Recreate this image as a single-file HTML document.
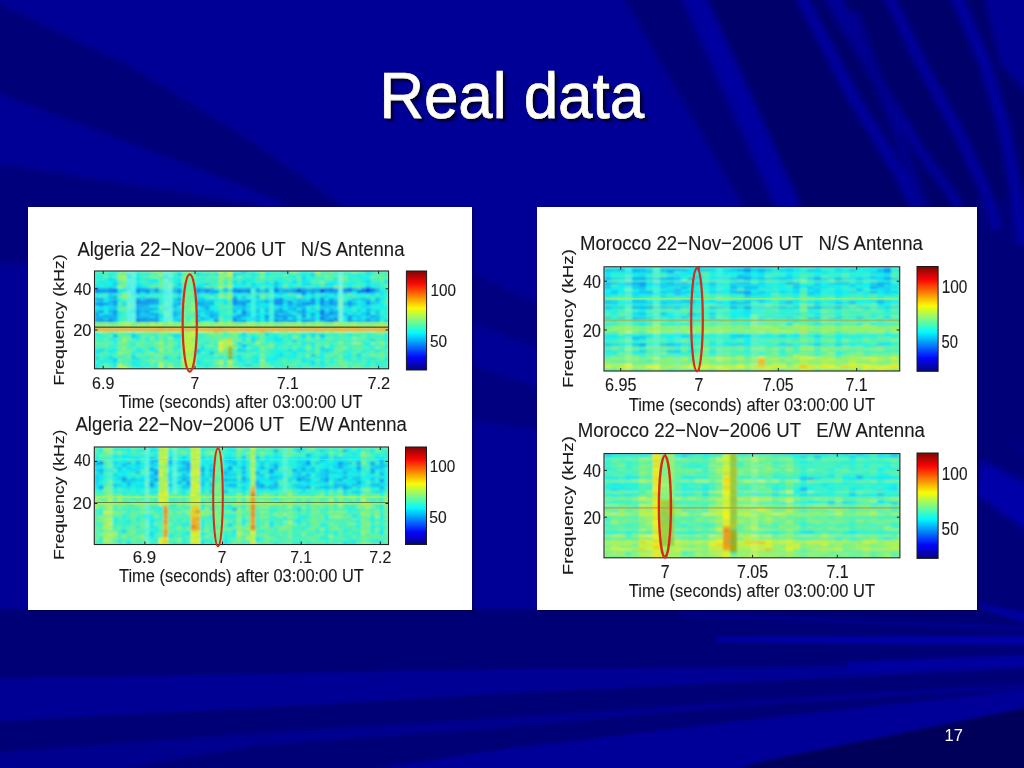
<!DOCTYPE html>
<html><head><meta charset="utf-8"><title>Real data</title>
<style>html,body{margin:0;padding:0;background:#000096;width:1024px;height:768px;overflow:hidden}
svg{display:block} text{font-family:'Liberation Sans',Arial,Helvetica,sans-serif}</style></head>
<body><svg width="1024" height="768" viewBox="0 0 1024 768"><defs>
<filter id="bgblur" filterUnits="userSpaceOnUse" x="-30" y="-30" width="1084" height="828"><feGaussianBlur stdDeviation="3"/></filter><filter id="lblur" x="-5%" y="-50%" width="110%" height="200%"><feGaussianBlur stdDeviation="0.45"/></filter><filter id="bgblur2" filterUnits="userSpaceOnUse" x="-30" y="-30" width="1084" height="828"><feGaussianBlur stdDeviation="1.6"/></filter>
<filter id="tshadow" x="-10%" y="-20%" width="130%" height="150%"><feGaussianBlur in="SourceAlpha" stdDeviation="1.3"/><feOffset dx="2.5" dy="2.5" result="b"/><feFlood flood-color="#000028" flood-opacity="0.9"/><feComposite in2="b" operator="in"/><feMerge><feMergeNode/><feMergeNode in="SourceGraphic"/></feMerge></filter>
<filter id="pshadow" x="-5%" y="-5%" width="110%" height="110%"><feGaussianBlur in="SourceAlpha" stdDeviation="1.2"/><feOffset dx="0.5" dy="0.5" result="b"/><feFlood flood-color="#000030" flood-opacity="0.7"/><feComposite in2="b" operator="in"/><feMerge><feMergeNode/><feMergeNode in="SourceGraphic"/></feMerge></filter>
</defs><g filter="url(#bgblur)"><rect x="-25" y="-25" width="1074" height="818" fill="#000096"/><polygon fill="#000078" points="-25.0,-7.9 130.0,66.0 256.0,144.0 350.0,212.0 300.0,212.0 256.0,191.0 -25.0,84.5"/><polygon fill="#00007c" points="-25.0,160.1 256.0,204.0 262.0,212.0 60.0,262.0 -25.0,264.8"/><polygon fill="#000076" points="610.7,-25.0 670.8,-25.0 778.0,215.0 748.0,215.0"/><polygon fill="#00006a" points="689.5,-25.0 1049.0,-25.0 1049.0,215.0 790.0,215.0"/><polygon fill="#000078" points="972.0,200.0 1049.0,200.0 1049.0,615.0 972.0,615.0"/><polygon fill="#0000a8" points="982.0,460.0 1049.0,496.7 1049.0,546.1 977.0,494.0"/><polygon fill="#000080" points="468.0,271.0 540.0,304.0 540.0,349.0 468.0,322.0"/><polygon fill="#000080" points="468.0,364.0 540.0,388.0 540.0,430.0 468.0,420.0"/><polygon fill="#000094" points="979.0,-25.0 1049.0,-25.0 1049.0,118.1 1000.0,63.0"/><path d="M692,-10 L740,95 L787,200 L795,225" stroke="#0000a0" stroke-width="20" fill="none" stroke-linecap="round"/><path d="M798,-10 L852,95 L902,177 L925,225" stroke="#00009e" stroke-width="11" fill="none" stroke-linecap="round"/><path d="M833,-10 L877,79 L921,152 L953,196 L968,225" stroke="#00009a" stroke-width="9" fill="none" stroke-linecap="round"/><path d="M886,-10 L921,63 L959,133 L985,190 L996,225" stroke="#00009e" stroke-width="10" fill="none" stroke-linecap="round"/><path d="M954,-10 L985,63 L1004,127 L1016,190 L1022,240" stroke="#0000a0" stroke-width="11" fill="none" stroke-linecap="round"/><path d="M855,15 L930,225" stroke="#00008c" stroke-width="9" fill="none" stroke-linecap="round"/><path d="M822,-10 L870,68 L895,110" stroke="#000090" stroke-width="8" fill="none" stroke-linecap="round"/><path d="M977,489 L1030,527" stroke="#0000b4" stroke-width="2.5" fill="none" stroke-linecap="round"/><path d="M1008,438 L1030,455" stroke="#00009c" stroke-width="2" fill="none" stroke-linecap="round"/></g><g filter="url(#bgblur2)"><polygon fill="#000076" points="-25.0,609.0 1049.0,609.0 1049.0,793.0 -25.0,793.0"/><polygon fill="#000094" points="-25.0,678.4 256.0,674.0 512.0,669.0 768.0,667.0 900.0,664.0 1049.0,659.2 1049.0,666.7 768.0,681.0 512.0,693.0 256.0,708.0 -25.0,722.3"/><polygon fill="#00008e" points="-25.0,753.9 256.0,733.0 512.0,717.0 642.0,708.0 768.0,699.0 1049.0,682.5 1049.0,687.5 768.0,704.0 512.0,727.0 256.0,746.0 -25.0,793.0"/><polygon fill="#000098" points="215.0,793.0 512.0,748.0 768.0,718.0 1049.0,687.3 1049.0,702.9 768.0,760.0 652.5,793.0"/><polygon fill="#0000a4" points="717.0,637.0 1049.0,635.9 1049.0,645.2 717.0,642.0"/><polygon fill="#00009e" points="848.0,662.0 1049.0,654.0 1049.0,663.9 848.0,673.0"/><polygon fill="#00008a" points="680.0,612.0 1049.0,627.0 1049.0,632.1 680.0,616.0"/><polygon fill="#0000a0" points="977.0,603.0 1049.0,616.8 1049.0,629.7 985.0,610.0"/><polygon fill="#00005a" points="768.0,760.0 1049.0,702.9 1049.0,793.0 652.5,793.0"/></g><text fill="#fffff8" stroke="#fffff8" stroke-width="0.7" filter="url(#tshadow)" x="379.25" y="118.4" font-size="64" textLength="264.80" lengthAdjust="spacingAndGlyphs" xml:space="preserve">Real data</text><text x="944.5" y="741" font-size="16.5" fill="#fff">17</text><rect x="28" y="207" width="444" height="403" fill="#fff" filter="url(#pshadow)"/><rect x="537" y="207" width="440" height="403" fill="#fff" filter="url(#pshadow)"/><clipPath id="c1"><rect x="94.5" y="271" width="294.1" height="98"/></clipPath><filter id="f1" x="0" y="0" width="1" height="1"><feGaussianBlur stdDeviation="0.9" edgeMode="duplicate"/></filter><g clip-path="url(#c1)"><g filter="url(#f1)"><rect x="94.5" y="271" width="294.1" height="98" fill="#3af2ca"/><g transform="translate(94.5 271) scale(4.6 2.45)"><path fill="#3af2ca" d="M0 0h1v1h-1zM3 0h1v1h-1zM9 0h1v1h-1zM22 0h1v1h-1zM31 0h1v1h-1zM34 0h1v1h-1zM39 0h2v1h-2zM46 0h2v1h-2zM60 0h2v1h-2zM0 1h3v1h-3zM10 1h1v1h-1zM17 1h1v1h-1zM32 1h1v1h-1zM42 1h2v1h-2zM54 1h1v1h-1zM58 1h1v1h-1zM60 1h1v1h-1zM63 1h1v1h-1zM32 2h1v1h-1zM34 2h1v1h-1zM37 2h1v1h-1zM39 2h1v1h-1zM41 2h1v1h-1zM55 2h2v1h-2zM0 3h1v1h-1zM10 3h1v1h-1zM24 3h3v1h-3zM31 3h1v1h-1zM38 3h1v1h-1zM47 3h2v1h-2zM56 3h2v1h-2zM60 3h2v1h-2zM0 4h1v1h-1zM26 4h1v1h-1zM28 4h1v1h-1zM31 4h1v1h-1zM44 4h1v1h-1zM50 4h1v1h-1zM52 4h1v1h-1zM55 4h1v1h-1zM57 4h1v1h-1zM17 5h1v1h-1zM25 5h1v1h-1zM28 5h1v1h-1zM58 5h1v1h-1zM11 6h1v1h-1zM32 6h1v1h-1zM43 6h2v1h-2zM50 6h1v1h-1zM58 6h1v1h-1zM60 6h2v1h-2zM14 7h1v1h-1zM62 7h1v1h-1zM29 8h1v1h-1zM5 9h1v1h-1zM10 9h1v1h-1zM13 9h1v1h-1zM17 9h1v1h-1zM23 9h1v1h-1zM32 9h1v1h-1zM35 9h1v1h-1zM43 9h1v1h-1zM48 9h2v1h-2zM58 9h1v1h-1zM63 9h1v1h-1zM9 10h1v1h-1zM13 10h1v1h-1zM17 10h1v1h-1zM26 10h1v1h-1zM31 10h1v1h-1zM37 10h1v1h-1zM46 10h1v1h-1zM48 10h1v1h-1zM57 10h1v1h-1zM36 11h1v1h-1zM42 11h1v1h-1zM54 11h1v1h-1zM6 12h1v1h-1zM14 12h1v1h-1zM27 12h1v1h-1zM26 13h1v1h-1zM5 14h1v1h-1zM54 14h1v1h-1zM60 14h1v1h-1zM28 15h1v1h-1zM48 15h1v1h-1zM28 16h1v1h-1zM36 16h1v1h-1zM62 16h1v1h-1zM6 17h1v1h-1zM27 17h2v1h-2zM60 17h1v1h-1zM62 17h1v1h-1zM27 18h1v1h-1zM44 18h1v1h-1zM63 18h1v1h-1zM5 19h1v1h-1zM28 19h2v1h-2zM48 20h1v1h-1zM62 20h1v1h-1zM4 21h1v1h-1zM25 22h1v1h-1zM3 25h1v1h-1zM6 25h1v1h-1zM10 25h1v1h-1zM12 25h2v1h-2zM16 25h3v1h-3zM23 25h1v1h-1zM38 25h1v1h-1zM40 25h1v1h-1zM44 25h1v1h-1zM49 25h1v1h-1zM54 25h1v1h-1zM60 25h1v1h-1zM1 26h1v1h-1zM13 26h1v1h-1zM16 26h1v1h-1zM23 26h1v1h-1zM28 26h1v1h-1zM31 26h1v1h-1zM56 26h1v1h-1zM62 26h1v1h-1zM1 27h1v1h-1zM4 27h1v1h-1zM15 27h1v1h-1zM22 27h2v1h-2zM37 27h1v1h-1zM47 27h1v1h-1zM0 28h2v1h-2zM17 28h1v1h-1zM22 28h1v1h-1zM24 28h1v1h-1zM30 28h1v1h-1zM38 28h1v1h-1zM42 28h1v1h-1zM44 28h2v1h-2zM49 28h1v1h-1zM55 28h1v1h-1zM58 28h1v1h-1zM62 28h1v1h-1zM7 29h2v1h-2zM18 29h1v1h-1zM23 29h1v1h-1zM26 29h1v1h-1zM33 29h1v1h-1zM37 29h1v1h-1zM39 29h1v1h-1zM41 29h1v1h-1zM43 29h1v1h-1zM46 29h1v1h-1zM51 29h1v1h-1zM58 29h1v1h-1zM22 30h1v1h-1zM26 30h1v1h-1zM34 30h1v1h-1zM40 30h1v1h-1zM45 30h1v1h-1zM49 30h1v1h-1zM60 30h1v1h-1zM1 31h2v1h-2zM25 31h1v1h-1zM42 31h1v1h-1zM45 31h1v1h-1zM50 31h1v1h-1zM2 32h1v1h-1zM8 32h1v1h-1zM17 32h1v1h-1zM25 32h2v1h-2zM37 32h2v1h-2zM56 32h1v1h-1zM62 32h1v1h-1zM4 33h1v1h-1zM8 33h3v1h-3zM24 33h1v1h-1zM26 33h1v1h-1zM33 33h1v1h-1zM41 33h1v1h-1zM45 33h1v1h-1zM50 33h1v1h-1zM54 33h1v1h-1zM57 33h1v1h-1zM63 33h1v1h-1zM2 34h2v1h-2zM16 34h1v1h-1zM22 34h1v1h-1zM25 34h1v1h-1zM37 34h2v1h-2zM45 34h1v1h-1zM54 34h1v1h-1zM5 35h1v1h-1zM24 35h1v1h-1zM28 35h1v1h-1zM32 35h2v1h-2zM36 35h2v1h-2zM40 35h1v1h-1zM51 35h2v1h-2zM59 35h1v1h-1zM61 35h1v1h-1zM7 36h2v1h-2zM23 36h1v1h-1zM33 36h1v1h-1zM40 36h1v1h-1zM42 36h1v1h-1zM62 36h1v1h-1zM11 37h1v1h-1zM17 37h2v1h-2zM23 37h1v1h-1zM39 37h2v1h-2zM42 37h1v1h-1zM46 37h1v1h-1zM48 37h1v1h-1zM52 37h1v1h-1zM56 37h1v1h-1zM1 38h1v1h-1zM31 38h1v1h-1zM34 38h1v1h-1zM38 38h3v1h-3zM58 38h1v1h-1zM62 38h1v1h-1zM3 39h1v1h-1zM9 39h1v1h-1zM12 39h2v1h-2zM35 39h1v1h-1zM44 39h2v1h-2zM59 39h1v1h-1zM62 39h1v1h-1z"/><path fill="#4cf2b8" d="M1 0h1v1h-1zM11 0h1v1h-1zM23 0h1v1h-1zM30 0h1v1h-1zM38 0h1v1h-1zM49 0h2v1h-2zM52 0h1v1h-1zM54 0h1v1h-1zM58 0h1v1h-1zM62 0h2v1h-2zM13 1h1v1h-1zM19 1h1v1h-1zM25 1h1v1h-1zM33 1h1v1h-1zM39 1h2v1h-2zM52 1h1v1h-1zM10 2h1v1h-1zM14 2h1v1h-1zM18 2h1v1h-1zM23 2h1v1h-1zM33 2h1v1h-1zM35 2h1v1h-1zM46 2h1v1h-1zM49 2h1v1h-1zM51 2h1v1h-1zM1 3h1v1h-1zM21 3h1v1h-1zM30 3h1v1h-1zM35 3h3v1h-3zM41 3h1v1h-1zM5 4h1v1h-1zM10 4h2v1h-2zM22 4h4v1h-4zM35 4h2v1h-2zM38 4h1v1h-1zM54 4h1v1h-1zM60 4h3v1h-3zM12 5h2v1h-2zM26 5h1v1h-1zM33 5h1v1h-1zM49 5h1v1h-1zM57 5h1v1h-1zM62 5h1v1h-1zM25 6h1v1h-1zM37 6h1v1h-1zM47 6h1v1h-1zM27 7h1v1h-1zM2 9h1v1h-1zM14 9h1v1h-1zM37 9h1v1h-1zM61 9h1v1h-1zM1 10h1v1h-1zM11 10h2v1h-2zM14 10h1v1h-1zM24 10h1v1h-1zM33 10h1v1h-1zM59 10h1v1h-1zM60 11h1v1h-1zM63 11h1v1h-1zM29 12h1v1h-1zM27 13h1v1h-1zM29 13h1v1h-1zM63 13h1v1h-1zM6 14h1v1h-1zM27 14h1v1h-1zM48 14h1v1h-1zM14 15h1v1h-1zM27 15h1v1h-1zM56 15h1v1h-1zM6 16h1v1h-1zM14 16h1v1h-1zM20 17h1v1h-1zM29 17h1v1h-1zM6 18h1v1h-1zM6 19h1v1h-1zM6 20h1v1h-1zM19 21h1v1h-1zM45 21h1v1h-1zM0 22h1v1h-1zM21 22h1v1h-1zM40 22h1v1h-1zM58 22h2v1h-2zM9 25h1v1h-1zM28 25h1v1h-1zM31 25h1v1h-1zM34 25h1v1h-1zM43 25h1v1h-1zM50 25h2v1h-2zM58 25h1v1h-1zM5 26h1v1h-1zM12 26h1v1h-1zM15 26h1v1h-1zM22 26h1v1h-1zM24 26h2v1h-2zM27 26h1v1h-1zM35 26h1v1h-1zM44 26h1v1h-1zM51 26h1v1h-1zM53 26h2v1h-2zM59 26h2v1h-2zM31 27h1v1h-1zM41 27h1v1h-1zM52 27h1v1h-1zM54 27h2v1h-2zM60 27h1v1h-1zM12 28h2v1h-2zM15 28h2v1h-2zM41 28h1v1h-1zM46 28h1v1h-1zM50 28h2v1h-2zM53 28h2v1h-2zM57 28h1v1h-1zM59 28h1v1h-1zM61 28h1v1h-1zM15 29h1v1h-1zM34 29h1v1h-1zM36 29h1v1h-1zM54 29h1v1h-1zM0 30h1v1h-1zM4 30h1v1h-1zM11 30h2v1h-2zM17 30h1v1h-1zM31 30h1v1h-1zM35 30h1v1h-1zM41 30h1v1h-1zM43 30h2v1h-2zM52 30h1v1h-1zM54 30h3v1h-3zM58 30h1v1h-1zM0 31h1v1h-1zM3 31h1v1h-1zM7 31h1v1h-1zM11 31h1v1h-1zM24 31h1v1h-1zM34 31h1v1h-1zM38 31h1v1h-1zM40 31h1v1h-1zM5 32h1v1h-1zM46 32h1v1h-1zM55 32h1v1h-1zM60 32h1v1h-1zM1 33h1v1h-1zM13 33h1v1h-1zM18 33h1v1h-1zM32 33h1v1h-1zM35 33h1v1h-1zM37 33h1v1h-1zM42 33h1v1h-1zM44 33h1v1h-1zM46 33h2v1h-2zM53 33h1v1h-1zM61 33h1v1h-1zM0 34h2v1h-2zM6 34h1v1h-1zM15 34h1v1h-1zM30 34h1v1h-1zM32 34h1v1h-1zM44 34h1v1h-1zM48 34h1v1h-1zM52 34h1v1h-1zM56 34h1v1h-1zM59 34h1v1h-1zM63 34h1v1h-1zM1 35h1v1h-1zM10 35h1v1h-1zM12 35h1v1h-1zM16 35h2v1h-2zM44 35h1v1h-1zM46 35h2v1h-2zM50 35h1v1h-1zM6 36h1v1h-1zM10 36h1v1h-1zM17 36h2v1h-2zM25 36h1v1h-1zM43 36h2v1h-2zM56 36h1v1h-1zM60 36h2v1h-2zM0 37h1v1h-1zM5 37h1v1h-1zM30 37h2v1h-2zM41 37h1v1h-1zM57 37h1v1h-1zM60 37h1v1h-1zM62 37h2v1h-2zM3 38h1v1h-1zM7 38h1v1h-1zM13 38h1v1h-1zM17 38h2v1h-2zM25 38h2v1h-2zM28 38h1v1h-1zM30 38h1v1h-1zM35 38h1v1h-1zM41 38h1v1h-1zM46 38h1v1h-1zM48 38h1v1h-1zM55 38h1v1h-1zM63 38h1v1h-1zM1 39h2v1h-2zM4 39h1v1h-1zM8 39h1v1h-1zM18 39h1v1h-1zM22 39h1v1h-1zM34 39h1v1h-1zM40 39h4v1h-4zM48 39h1v1h-1zM58 39h1v1h-1z"/><path fill="#5ef2a6" d="M2 0h1v1h-1zM10 0h1v1h-1zM17 0h1v1h-1zM21 0h1v1h-1zM25 0h2v1h-2zM28 0h1v1h-1zM35 0h1v1h-1zM42 0h1v1h-1zM44 0h1v1h-1zM55 0h1v1h-1zM57 0h1v1h-1zM12 1h1v1h-1zM36 1h1v1h-1zM49 1h3v1h-3zM62 1h1v1h-1zM4 2h1v1h-1zM20 2h1v1h-1zM22 2h1v1h-1zM24 2h3v1h-3zM38 2h1v1h-1zM48 2h1v1h-1zM52 2h1v1h-1zM61 2h2v1h-2zM28 3h1v1h-1zM42 3h1v1h-1zM44 3h1v1h-1zM50 3h2v1h-2zM14 4h1v1h-1zM20 4h1v1h-1zM47 4h2v1h-2zM5 5h1v1h-1zM19 5h2v1h-2zM41 5h1v1h-1zM44 5h1v1h-1zM63 5h1v1h-1zM13 6h1v1h-1zM26 6h1v1h-1zM36 6h1v1h-1zM46 6h1v1h-1zM49 6h1v1h-1zM54 6h1v1h-1zM56 6h2v1h-2zM63 6h1v1h-1zM19 7h3v1h-3zM19 8h1v1h-1zM21 8h1v1h-1zM28 9h1v1h-1zM42 9h1v1h-1zM19 10h1v1h-1zM21 10h1v1h-1zM54 10h1v1h-1zM56 10h1v1h-1zM6 11h1v1h-1zM20 11h1v1h-1zM63 12h1v1h-1zM5 13h1v1h-1zM20 13h1v1h-1zM20 14h1v1h-1zM28 14h1v1h-1zM19 15h1v1h-1zM21 17h1v1h-1zM19 18h3v1h-3zM20 20h1v1h-1zM27 20h1v1h-1zM8 21h1v1h-1zM15 21h1v1h-1zM22 21h1v1h-1zM31 21h1v1h-1zM35 21h1v1h-1zM39 21h1v1h-1zM50 21h2v1h-2zM1 22h1v1h-1zM6 22h1v1h-1zM23 22h1v1h-1zM27 22h1v1h-1zM39 22h1v1h-1zM47 22h1v1h-1zM49 22h1v1h-1zM55 22h1v1h-1zM11 25h1v1h-1zM56 25h2v1h-2zM7 26h1v1h-1zM11 26h1v1h-1zM14 26h1v1h-1zM26 26h1v1h-1zM29 26h1v1h-1zM40 26h1v1h-1zM46 26h1v1h-1zM48 26h1v1h-1zM0 27h1v1h-1zM2 27h1v1h-1zM5 27h1v1h-1zM10 27h1v1h-1zM24 27h1v1h-1zM44 27h1v1h-1zM53 27h1v1h-1zM61 27h2v1h-2zM2 28h1v1h-1zM5 28h1v1h-1zM7 28h2v1h-2zM23 28h1v1h-1zM25 28h2v1h-2zM35 28h1v1h-1zM47 28h1v1h-1zM1 29h2v1h-2zM10 29h3v1h-3zM22 29h1v1h-1zM25 29h1v1h-1zM32 29h1v1h-1zM38 29h1v1h-1zM44 29h1v1h-1zM49 29h2v1h-2zM52 29h1v1h-1zM55 29h1v1h-1zM63 29h1v1h-1zM1 30h1v1h-1zM5 30h1v1h-1zM7 30h1v1h-1zM10 30h1v1h-1zM13 30h1v1h-1zM15 30h1v1h-1zM30 30h1v1h-1zM36 30h2v1h-2zM48 30h1v1h-1zM53 30h1v1h-1zM57 30h1v1h-1zM62 30h1v1h-1zM10 31h1v1h-1zM13 31h1v1h-1zM22 31h1v1h-1zM26 31h1v1h-1zM37 31h1v1h-1zM41 31h1v1h-1zM52 31h1v1h-1zM56 31h4v1h-4zM62 31h1v1h-1zM11 32h1v1h-1zM18 32h1v1h-1zM28 32h1v1h-1zM63 32h1v1h-1zM2 33h1v1h-1zM17 33h1v1h-1zM23 33h1v1h-1zM28 33h1v1h-1zM30 33h2v1h-2zM36 33h1v1h-1zM51 33h1v1h-1zM59 33h2v1h-2zM4 34h2v1h-2zM7 34h1v1h-1zM10 34h3v1h-3zM17 34h1v1h-1zM27 34h1v1h-1zM51 34h1v1h-1zM6 35h1v1h-1zM22 35h1v1h-1zM56 35h1v1h-1zM11 36h1v1h-1zM15 36h1v1h-1zM24 36h1v1h-1zM28 36h1v1h-1zM50 36h1v1h-1zM52 36h1v1h-1zM54 36h1v1h-1zM58 36h1v1h-1zM6 37h2v1h-2zM15 37h1v1h-1zM33 37h1v1h-1zM37 37h1v1h-1zM43 37h2v1h-2zM50 37h1v1h-1zM55 37h1v1h-1zM58 37h1v1h-1zM10 38h1v1h-1zM12 38h1v1h-1zM15 38h1v1h-1zM27 38h1v1h-1zM42 38h2v1h-2zM45 38h1v1h-1zM51 38h3v1h-3zM56 38h1v1h-1zM60 38h1v1h-1zM11 39h1v1h-1zM17 39h1v1h-1zM23 39h1v1h-1zM25 39h2v1h-2zM31 39h3v1h-3zM37 39h1v1h-1zM46 39h2v1h-2zM51 39h3v1h-3zM57 39h1v1h-1zM61 39h1v1h-1z"/><path fill="#16f2ee" d="M4 0h1v1h-1zM18 0h1v1h-1zM45 0h1v1h-1zM9 1h1v1h-1zM11 1h1v1h-1zM37 1h1v1h-1zM44 1h1v1h-1zM46 1h1v1h-1zM55 1h3v1h-3zM0 2h2v1h-2zM9 2h1v1h-1zM30 2h1v1h-1zM59 2h1v1h-1zM2 3h1v1h-1zM13 3h1v1h-1zM22 3h1v1h-1zM34 3h1v1h-1zM46 3h1v1h-1zM49 3h1v1h-1zM58 3h2v1h-2zM3 4h1v1h-1zM13 4h1v1h-1zM18 4h1v1h-1zM46 4h1v1h-1zM51 4h1v1h-1zM58 4h1v1h-1zM0 5h1v1h-1zM3 5h1v1h-1zM10 5h1v1h-1zM22 5h1v1h-1zM30 5h2v1h-2zM35 5h2v1h-2zM38 5h1v1h-1zM42 5h1v1h-1zM47 5h1v1h-1zM55 5h1v1h-1zM59 5h2v1h-2zM4 6h1v1h-1zM10 6h1v1h-1zM18 6h1v1h-1zM23 6h1v1h-1zM30 6h1v1h-1zM55 6h1v1h-1zM5 7h1v1h-1zM1 9h1v1h-1zM26 9h1v1h-1zM30 9h2v1h-2zM39 9h1v1h-1zM44 9h1v1h-1zM46 9h1v1h-1zM50 9h1v1h-1zM57 9h1v1h-1zM59 9h1v1h-1zM39 10h1v1h-1zM52 10h1v1h-1zM58 10h1v1h-1zM5 11h1v1h-1zM24 11h4v1h-4zM50 11h1v1h-1zM2 12h1v1h-1zM54 12h1v1h-1zM33 13h1v1h-1zM36 13h1v1h-1zM62 13h1v1h-1zM0 14h1v1h-1zM2 14h1v1h-1zM22 14h1v1h-1zM25 14h2v1h-2zM39 14h1v1h-1zM47 14h1v1h-1zM56 14h1v1h-1zM59 14h1v1h-1zM62 14h1v1h-1zM1 15h1v1h-1zM22 15h1v1h-1zM25 15h1v1h-1zM33 15h1v1h-1zM41 15h1v1h-1zM55 15h1v1h-1zM58 15h1v1h-1zM61 15h2v1h-2zM2 16h1v1h-1zM13 16h1v1h-1zM47 16h1v1h-1zM54 16h1v1h-1zM56 16h1v1h-1zM58 16h1v1h-1zM60 16h1v1h-1zM5 17h1v1h-1zM14 17h1v1h-1zM30 17h1v1h-1zM36 17h1v1h-1zM48 17h1v1h-1zM23 18h1v1h-1zM28 18h1v1h-1zM36 18h1v1h-1zM48 18h1v1h-1zM33 19h1v1h-1zM36 19h1v1h-1zM42 19h1v1h-1zM44 19h1v1h-1zM54 19h1v1h-1zM56 19h1v1h-1zM5 20h1v1h-1zM23 20h1v1h-1zM8 25h1v1h-1zM48 25h1v1h-1zM55 25h1v1h-1zM33 26h2v1h-2zM39 26h1v1h-1zM50 26h1v1h-1zM61 26h1v1h-1zM32 27h1v1h-1zM45 27h1v1h-1zM49 27h1v1h-1zM4 28h1v1h-1zM11 28h1v1h-1zM18 28h1v1h-1zM37 28h1v1h-1zM40 28h1v1h-1zM56 28h1v1h-1zM4 29h1v1h-1zM40 29h1v1h-1zM59 29h1v1h-1zM3 30h1v1h-1zM8 30h1v1h-1zM33 30h1v1h-1zM42 30h1v1h-1zM51 30h1v1h-1zM59 30h1v1h-1zM61 30h1v1h-1zM4 31h1v1h-1zM9 31h1v1h-1zM32 31h1v1h-1zM44 31h1v1h-1zM47 31h1v1h-1zM4 32h1v1h-1zM9 32h2v1h-2zM12 32h2v1h-2zM23 32h1v1h-1zM30 32h1v1h-1zM33 32h1v1h-1zM35 32h1v1h-1zM39 32h3v1h-3zM58 32h2v1h-2zM40 33h1v1h-1zM55 33h1v1h-1zM35 34h1v1h-1zM39 34h1v1h-1zM42 34h2v1h-2zM49 34h1v1h-1zM4 35h1v1h-1zM13 35h1v1h-1zM23 35h1v1h-1zM25 35h1v1h-1zM35 35h1v1h-1zM38 35h1v1h-1zM43 35h1v1h-1zM48 35h2v1h-2zM63 35h1v1h-1zM9 36h1v1h-1zM32 36h1v1h-1zM38 36h1v1h-1zM46 36h2v1h-2zM63 36h1v1h-1zM3 37h2v1h-2zM13 37h1v1h-1zM28 37h1v1h-1zM51 37h1v1h-1zM59 37h1v1h-1zM61 37h1v1h-1zM0 38h1v1h-1zM8 38h2v1h-2zM11 38h1v1h-1zM32 38h1v1h-1zM44 38h1v1h-1zM47 38h1v1h-1zM61 38h1v1h-1zM10 39h1v1h-1zM39 39h1v1h-1z"/><path fill="#70f294" d="M5 0h1v1h-1zM12 0h1v1h-1zM14 0h1v1h-1zM24 0h1v1h-1zM51 0h1v1h-1zM6 1h1v1h-1zM21 1h1v1h-1zM27 1h1v1h-1zM48 1h1v1h-1zM61 1h1v1h-1zM2 2h1v1h-1zM11 2h1v1h-1zM44 2h1v1h-1zM63 2h1v1h-1zM14 3h1v1h-1zM54 3h1v1h-1zM62 3h1v1h-1zM6 4h1v1h-1zM6 5h1v1h-1zM21 5h1v1h-1zM12 6h1v1h-1zM14 6h1v1h-1zM19 6h3v1h-3zM41 6h1v1h-1zM21 9h1v1h-1zM36 9h1v1h-1zM55 9h1v1h-1zM5 10h1v1h-1zM20 10h1v1h-1zM25 10h1v1h-1zM29 11h1v1h-1zM19 12h3v1h-3zM19 14h1v1h-1zM29 14h1v1h-1zM5 15h2v1h-2zM20 15h1v1h-1zM19 16h2v1h-2zM29 16h1v1h-1zM27 19h1v1h-1zM29 20h1v1h-1zM0 21h2v1h-2zM9 21h1v1h-1zM11 21h1v1h-1zM32 21h1v1h-1zM37 21h1v1h-1zM57 21h1v1h-1zM2 22h4v1h-4zM8 22h1v1h-1zM10 22h2v1h-2zM15 22h1v1h-1zM17 22h1v1h-1zM31 22h1v1h-1zM33 22h1v1h-1zM35 22h1v1h-1zM43 22h1v1h-1zM50 22h2v1h-2zM60 22h1v1h-1zM2 25h1v1h-1zM5 25h1v1h-1zM15 25h1v1h-1zM24 25h1v1h-1zM29 25h1v1h-1zM33 25h1v1h-1zM35 25h1v1h-1zM53 25h1v1h-1zM61 25h1v1h-1zM3 26h1v1h-1zM6 26h1v1h-1zM10 26h1v1h-1zM30 26h1v1h-1zM36 26h1v1h-1zM43 26h1v1h-1zM58 26h1v1h-1zM25 27h2v1h-2zM33 27h1v1h-1zM36 27h1v1h-1zM50 27h2v1h-2zM58 27h1v1h-1zM10 28h1v1h-1zM14 28h1v1h-1zM33 28h1v1h-1zM0 29h1v1h-1zM3 29h1v1h-1zM6 29h1v1h-1zM9 29h1v1h-1zM17 29h1v1h-1zM42 29h1v1h-1zM48 29h1v1h-1zM61 29h1v1h-1zM2 30h1v1h-1zM6 30h1v1h-1zM9 30h1v1h-1zM24 30h2v1h-2zM46 30h1v1h-1zM8 31h1v1h-1zM15 31h2v1h-2zM33 31h1v1h-1zM43 31h1v1h-1zM48 31h1v1h-1zM53 31h1v1h-1zM6 32h1v1h-1zM36 32h1v1h-1zM48 32h1v1h-1zM52 32h2v1h-2zM57 32h1v1h-1zM7 33h1v1h-1zM11 33h1v1h-1zM14 33h3v1h-3zM27 33h1v1h-1zM34 33h1v1h-1zM48 33h1v1h-1zM52 33h1v1h-1zM56 33h1v1h-1zM62 33h1v1h-1zM14 34h1v1h-1zM28 34h1v1h-1zM33 34h1v1h-1zM50 34h1v1h-1zM53 34h1v1h-1zM61 34h2v1h-2zM7 35h1v1h-1zM14 35h1v1h-1zM53 35h1v1h-1zM62 35h1v1h-1zM14 36h1v1h-1zM26 36h1v1h-1zM30 36h1v1h-1zM41 36h1v1h-1zM48 36h1v1h-1zM53 36h1v1h-1zM12 37h1v1h-1zM16 37h1v1h-1zM26 37h1v1h-1zM36 37h1v1h-1zM54 37h1v1h-1zM6 38h1v1h-1zM37 38h1v1h-1zM54 38h1v1h-1zM57 38h1v1h-1zM50 39h1v1h-1zM60 39h1v1h-1z"/><path fill="#82f282" d="M6 0h1v1h-1zM20 0h1v1h-1zM56 0h1v1h-1zM20 1h1v1h-1zM41 1h1v1h-1zM12 2h2v1h-2zM19 2h1v1h-1zM28 2h2v1h-2zM31 2h1v1h-1zM50 2h1v1h-1zM54 2h1v1h-1zM60 2h1v1h-1zM19 3h2v1h-2zM29 3h1v1h-1zM19 4h1v1h-1zM21 4h1v1h-1zM29 4h1v1h-1zM14 5h1v1h-1zM27 5h1v1h-1zM6 6h1v1h-1zM24 6h1v1h-1zM28 6h1v1h-1zM20 8h1v1h-1zM19 9h2v1h-2zM27 9h1v1h-1zM28 10h1v1h-1zM36 10h1v1h-1zM21 11h1v1h-1zM14 14h1v1h-1zM21 14h1v1h-1zM21 16h1v1h-1zM19 17h1v1h-1zM19 19h1v1h-1zM21 19h1v1h-1zM19 20h1v1h-1zM13 21h1v1h-1zM17 21h1v1h-1zM25 21h1v1h-1zM30 21h1v1h-1zM36 21h1v1h-1zM40 21h1v1h-1zM47 21h2v1h-2zM18 22h2v1h-2zM28 22h1v1h-1zM30 22h1v1h-1zM38 22h1v1h-1zM41 22h2v1h-2zM44 22h1v1h-1zM53 22h2v1h-2zM21 23h1v1h-1zM28 24h1v1h-1zM14 25h1v1h-1zM26 25h1v1h-1zM36 25h1v1h-1zM41 25h1v1h-1zM62 25h1v1h-1zM7 27h1v1h-1zM14 27h1v1h-1zM27 27h3v1h-3zM46 27h1v1h-1zM48 27h1v1h-1zM57 27h1v1h-1zM31 28h1v1h-1zM36 28h1v1h-1zM5 29h1v1h-1zM13 29h1v1h-1zM16 29h1v1h-1zM30 29h1v1h-1zM14 30h1v1h-1zM16 30h1v1h-1zM50 30h1v1h-1zM5 31h1v1h-1zM36 31h1v1h-1zM7 32h1v1h-1zM16 32h1v1h-1zM6 33h1v1h-1zM12 33h1v1h-1zM9 34h1v1h-1zM26 34h1v1h-1zM46 34h1v1h-1zM58 34h1v1h-1zM5 36h1v1h-1zM12 36h2v1h-2zM53 37h1v1h-1zM2 38h1v1h-1zM16 38h1v1h-1zM19 38h1v1h-1zM7 39h1v1h-1zM28 39h1v1h-1zM30 39h1v1h-1zM36 39h1v1h-1zM38 39h1v1h-1zM54 39h1v1h-1zM56 39h1v1h-1z"/><path fill="#79f5ca" d="M7 0h1v1h-1zM15 0h1v1h-1zM8 1h1v1h-1zM16 1h1v1h-1zM15 4h1v1h-1zM16 7h1v1h-1zM7 9h1v1h-1zM7 10h1v1h-1zM7 13h1v1h-1zM15 13h1v1h-1zM7 14h1v1h-1zM15 16h1v1h-1zM15 18h1v1h-1z"/><path fill="#6bf5d7" d="M8 0h1v1h-1zM16 0h1v1h-1zM16 2h1v1h-1zM7 3h1v1h-1zM8 4h1v1h-1zM7 8h1v1h-1zM16 12h1v1h-1zM8 13h1v1h-1zM8 14h1v1h-1zM7 15h1v1h-1zM16 15h1v1h-1zM8 17h1v1h-1zM15 17h2v1h-2zM8 20h1v1h-1zM16 20h1v1h-1z"/><path fill="#94f270" d="M13 0h1v1h-1zM19 0h1v1h-1zM43 0h1v1h-1zM5 1h1v1h-1zM28 1h1v1h-1zM5 2h1v1h-1zM21 2h1v1h-1zM36 2h1v1h-1zM5 3h1v1h-1zM27 3h1v1h-1zM27 4h1v1h-1zM49 4h1v1h-1zM29 5h1v1h-1zM52 6h1v1h-1zM6 9h1v1h-1zM29 9h1v1h-1zM44 10h1v1h-1zM19 11h1v1h-1zM21 20h1v1h-1zM2 21h1v1h-1zM20 21h1v1h-1zM23 21h1v1h-1zM26 21h1v1h-1zM28 21h1v1h-1zM43 21h1v1h-1zM58 21h1v1h-1zM60 21h4v1h-4zM7 22h1v1h-1zM9 22h1v1h-1zM16 22h1v1h-1zM22 22h1v1h-1zM24 22h1v1h-1zM26 22h1v1h-1zM29 22h1v1h-1zM36 22h2v1h-2zM52 22h1v1h-1zM63 22h1v1h-1zM25 25h1v1h-1zM27 25h1v1h-1zM30 25h1v1h-1zM19 26h1v1h-1zM6 27h1v1h-1zM12 27h1v1h-1zM30 27h1v1h-1zM43 27h1v1h-1zM21 28h1v1h-1zM27 28h1v1h-1zM53 29h1v1h-1zM57 29h1v1h-1zM60 29h1v1h-1zM62 29h1v1h-1zM38 30h1v1h-1zM6 31h1v1h-1zM14 31h1v1h-1zM30 31h1v1h-1zM46 31h1v1h-1zM54 31h1v1h-1zM61 31h1v1h-1zM19 33h1v1h-1zM21 33h1v1h-1zM13 34h1v1h-1zM36 34h1v1h-1zM60 34h1v1h-1zM14 37h1v1h-1zM29 38h1v1h-1zM36 38h1v1h-1z"/><path fill="#caf23a" d="M27 0h1v1h-1zM29 0h1v1h-1zM29 1h1v1h-1zM14 21h1v1h-1zM16 21h1v1h-1zM21 21h1v1h-1zM33 21h1v1h-1zM56 21h1v1h-1zM48 22h1v1h-1zM9 23h1v1h-1zM13 23h1v1h-1zM15 23h1v1h-1zM20 23h1v1h-1zM24 23h1v1h-1zM28 23h1v1h-1zM32 23h1v1h-1zM50 23h1v1h-1zM63 23h1v1h-1zM0 24h1v1h-1zM14 24h2v1h-2zM25 24h1v1h-1zM30 24h1v1h-1zM32 24h1v1h-1zM35 24h1v1h-1zM40 24h1v1h-1zM43 24h1v1h-1zM45 24h2v1h-2zM57 24h3v1h-3zM61 24h1v1h-1zM21 25h1v1h-1zM21 26h1v1h-1zM29 29h1v1h-1zM27 30h1v1h-1zM19 31h1v1h-1zM19 32h2v1h-2zM27 32h1v1h-1zM19 35h2v1h-2zM19 36h1v1h-1zM27 37h1v1h-1zM14 38h1v1h-1zM6 39h1v1h-1zM20 39h1v1h-1z"/><path fill="#12d3f2" d="M32 0h1v1h-1zM59 0h1v1h-1zM18 1h1v1h-1zM22 1h1v1h-1zM30 1h1v1h-1zM47 1h1v1h-1zM45 2h1v1h-1zM3 3h1v1h-1zM30 4h1v1h-1zM32 4h1v1h-1zM39 4h1v1h-1zM43 4h1v1h-1zM59 4h1v1h-1zM24 5h1v1h-1zM34 5h1v1h-1zM46 5h1v1h-1zM9 6h1v1h-1zM39 6h1v1h-1zM57 7h1v1h-1zM12 8h1v1h-1zM14 8h1v1h-1zM28 8h1v1h-1zM3 9h1v1h-1zM18 9h1v1h-1zM25 9h1v1h-1zM40 9h1v1h-1zM47 9h1v1h-1zM52 9h1v1h-1zM32 10h1v1h-1zM49 10h2v1h-2zM3 11h1v1h-1zM10 11h1v1h-1zM17 11h1v1h-1zM22 11h1v1h-1zM32 11h1v1h-1zM43 11h1v1h-1zM45 11h1v1h-1zM52 11h1v1h-1zM57 11h1v1h-1zM17 12h2v1h-2zM35 12h1v1h-1zM58 12h1v1h-1zM60 12h1v1h-1zM6 13h1v1h-1zM35 13h1v1h-1zM60 13h1v1h-1zM3 14h1v1h-1zM30 14h2v1h-2zM33 14h1v1h-1zM40 14h1v1h-1zM43 14h1v1h-1zM51 14h2v1h-2zM58 14h1v1h-1zM3 15h2v1h-2zM30 15h2v1h-2zM35 15h1v1h-1zM39 15h1v1h-1zM47 15h1v1h-1zM18 16h1v1h-1zM23 16h2v1h-2zM33 16h1v1h-1zM43 16h1v1h-1zM48 16h1v1h-1zM50 16h1v1h-1zM57 16h1v1h-1zM3 17h1v1h-1zM10 17h1v1h-1zM40 17h1v1h-1zM44 17h1v1h-1zM56 17h1v1h-1zM61 17h1v1h-1zM12 18h1v1h-1zM14 18h1v1h-1zM33 18h1v1h-1zM51 18h1v1h-1zM56 18h1v1h-1zM59 18h1v1h-1zM2 19h1v1h-1zM17 19h2v1h-2zM24 19h1v1h-1zM35 19h1v1h-1zM45 19h2v1h-2zM57 19h1v1h-1zM60 19h1v1h-1zM32 25h1v1h-1zM37 25h1v1h-1zM17 26h2v1h-2zM45 26h1v1h-1zM47 26h1v1h-1zM34 28h1v1h-1zM43 28h1v1h-1zM60 28h1v1h-1zM31 29h1v1h-1zM49 31h1v1h-1zM1 32h1v1h-1zM32 32h1v1h-1zM42 32h1v1h-1zM50 32h1v1h-1zM40 34h1v1h-1zM57 34h1v1h-1zM0 35h1v1h-1zM3 35h1v1h-1zM8 35h1v1h-1zM15 35h1v1h-1zM18 35h1v1h-1zM47 37h1v1h-1zM33 38h1v1h-1z"/><path fill="#28f2dc" d="M33 0h1v1h-1zM37 0h1v1h-1zM3 1h2v1h-2zM23 1h1v1h-1zM35 1h1v1h-1zM38 1h1v1h-1zM45 1h1v1h-1zM59 1h1v1h-1zM3 2h1v1h-1zM17 2h1v1h-1zM40 2h1v1h-1zM42 2h2v1h-2zM47 2h1v1h-1zM57 2h2v1h-2zM12 3h1v1h-1zM17 3h1v1h-1zM23 3h1v1h-1zM32 3h1v1h-1zM39 3h2v1h-2zM43 3h1v1h-1zM55 3h1v1h-1zM63 3h1v1h-1zM2 4h1v1h-1zM9 4h1v1h-1zM17 4h1v1h-1zM33 4h2v1h-2zM40 4h3v1h-3zM56 4h1v1h-1zM1 5h1v1h-1zM11 5h1v1h-1zM43 5h1v1h-1zM48 5h1v1h-1zM54 5h1v1h-1zM56 5h1v1h-1zM1 6h2v1h-2zM31 6h1v1h-1zM33 6h1v1h-1zM35 6h1v1h-1zM38 6h1v1h-1zM40 6h1v1h-1zM42 6h1v1h-1zM45 6h1v1h-1zM48 6h1v1h-1zM51 6h1v1h-1zM62 6h1v1h-1zM26 7h1v1h-1zM29 7h1v1h-1zM36 7h1v1h-1zM63 7h1v1h-1zM6 8h1v1h-1zM27 8h1v1h-1zM63 8h1v1h-1zM0 9h1v1h-1zM4 9h1v1h-1zM12 9h1v1h-1zM24 9h1v1h-1zM41 9h1v1h-1zM54 9h1v1h-1zM56 9h1v1h-1zM0 10h1v1h-1zM2 10h1v1h-1zM23 10h1v1h-1zM40 10h2v1h-2zM43 10h1v1h-1zM45 10h1v1h-1zM51 10h1v1h-1zM55 10h1v1h-1zM60 10h4v1h-4zM14 11h1v1h-1zM28 11h1v1h-1zM55 11h1v1h-1zM5 12h1v1h-1zM26 12h1v1h-1zM57 12h1v1h-1zM62 12h1v1h-1zM12 14h1v1h-1zM18 14h1v1h-1zM46 14h1v1h-1zM57 14h1v1h-1zM61 14h1v1h-1zM63 14h1v1h-1zM26 15h1v1h-1zM29 15h1v1h-1zM36 15h1v1h-1zM44 15h1v1h-1zM46 15h1v1h-1zM63 15h1v1h-1zM5 16h1v1h-1zM27 16h1v1h-1zM31 16h1v1h-1zM63 16h1v1h-1zM23 17h1v1h-1zM43 17h1v1h-1zM55 17h1v1h-1zM57 17h1v1h-1zM63 17h1v1h-1zM5 18h1v1h-1zM29 18h1v1h-1zM46 18h1v1h-1zM14 19h1v1h-1zM20 19h1v1h-1zM22 19h1v1h-1zM62 19h2v1h-2zM24 20h2v1h-2zM28 20h1v1h-1zM36 20h1v1h-1zM3 21h1v1h-1zM45 22h1v1h-1zM0 25h2v1h-2zM4 25h1v1h-1zM7 25h1v1h-1zM22 25h1v1h-1zM39 25h1v1h-1zM42 25h1v1h-1zM45 25h2v1h-2zM52 25h1v1h-1zM59 25h1v1h-1zM63 25h1v1h-1zM0 26h1v1h-1zM2 26h1v1h-1zM37 26h2v1h-2zM41 26h2v1h-2zM52 26h1v1h-1zM55 26h1v1h-1zM57 26h1v1h-1zM63 26h1v1h-1zM3 27h1v1h-1zM8 27h2v1h-2zM11 27h1v1h-1zM13 27h1v1h-1zM17 27h2v1h-2zM35 27h1v1h-1zM38 27h1v1h-1zM42 27h1v1h-1zM59 27h1v1h-1zM63 27h1v1h-1zM3 28h1v1h-1zM9 28h1v1h-1zM48 28h1v1h-1zM52 28h1v1h-1zM63 28h1v1h-1zM24 29h1v1h-1zM23 30h1v1h-1zM39 30h1v1h-1zM47 30h1v1h-1zM63 30h1v1h-1zM17 31h2v1h-2zM31 31h1v1h-1zM35 31h1v1h-1zM39 31h1v1h-1zM51 31h1v1h-1zM55 31h1v1h-1zM60 31h1v1h-1zM63 31h1v1h-1zM15 32h1v1h-1zM24 32h1v1h-1zM43 32h1v1h-1zM47 32h1v1h-1zM54 32h1v1h-1zM3 33h1v1h-1zM38 33h2v1h-2zM49 33h1v1h-1zM58 33h1v1h-1zM18 34h1v1h-1zM23 34h2v1h-2zM34 34h1v1h-1zM41 34h1v1h-1zM55 34h1v1h-1zM2 35h1v1h-1zM11 35h1v1h-1zM26 35h1v1h-1zM30 35h1v1h-1zM34 35h1v1h-1zM41 35h2v1h-2zM45 35h1v1h-1zM55 35h1v1h-1zM57 35h2v1h-2zM0 36h4v1h-4zM16 36h1v1h-1zM34 36h1v1h-1zM39 36h1v1h-1zM49 36h1v1h-1zM51 36h1v1h-1zM55 36h1v1h-1zM57 36h1v1h-1zM59 36h1v1h-1zM1 37h2v1h-2zM9 37h2v1h-2zM24 37h2v1h-2zM32 37h1v1h-1zM34 37h2v1h-2zM38 37h1v1h-1zM45 37h1v1h-1zM22 38h3v1h-3zM49 38h2v1h-2zM59 38h1v1h-1zM15 39h1v1h-1zM24 39h1v1h-1zM49 39h1v1h-1zM55 39h1v1h-1zM63 39h1v1h-1z"/><path fill="#a6f25e" d="M36 0h1v1h-1zM14 1h1v1h-1zM27 2h1v1h-1zM6 3h1v1h-1zM5 6h1v1h-1zM6 10h1v1h-1zM27 10h1v1h-1zM29 10h1v1h-1zM19 13h1v1h-1zM21 13h1v1h-1zM5 21h1v1h-1zM18 21h1v1h-1zM24 21h1v1h-1zM29 21h1v1h-1zM34 21h1v1h-1zM38 21h1v1h-1zM41 21h2v1h-2zM46 21h1v1h-1zM49 21h1v1h-1zM53 21h2v1h-2zM59 21h1v1h-1zM12 22h1v1h-1zM14 22h1v1h-1zM20 22h1v1h-1zM32 22h1v1h-1zM34 22h1v1h-1zM46 22h1v1h-1zM56 22h2v1h-2zM0 23h1v1h-1zM19 23h1v1h-1zM3 24h1v1h-1zM20 24h1v1h-1zM41 24h1v1h-1zM16 27h1v1h-1zM21 27h1v1h-1zM56 27h1v1h-1zM6 28h1v1h-1zM14 29h1v1h-1zM35 29h1v1h-1zM56 29h1v1h-1zM28 30h2v1h-2zM21 31h1v1h-1zM28 31h1v1h-1zM14 32h1v1h-1zM5 33h1v1h-1zM20 34h2v1h-2zM21 35h1v1h-1zM27 36h1v1h-1zM21 37h1v1h-1zM14 39h1v1h-1zM27 39h1v1h-1zM29 39h1v1h-1z"/><path fill="#12e5f2" d="M41 0h1v1h-1zM24 1h1v1h-1zM26 1h1v1h-1zM31 1h1v1h-1zM34 1h1v1h-1zM4 3h1v1h-1zM9 3h1v1h-1zM11 3h1v1h-1zM18 3h1v1h-1zM33 3h1v1h-1zM45 3h1v1h-1zM52 3h1v1h-1zM1 4h1v1h-1zM4 4h1v1h-1zM12 4h1v1h-1zM37 4h1v1h-1zM45 4h1v1h-1zM63 4h1v1h-1zM2 5h1v1h-1zM9 5h1v1h-1zM23 5h1v1h-1zM32 5h1v1h-1zM37 5h1v1h-1zM40 5h1v1h-1zM45 5h1v1h-1zM50 5h3v1h-3zM61 5h1v1h-1zM0 6h1v1h-1zM3 6h1v1h-1zM17 6h1v1h-1zM22 6h1v1h-1zM34 6h1v1h-1zM6 7h1v1h-1zM5 8h1v1h-1zM56 8h1v1h-1zM62 8h1v1h-1zM9 9h1v1h-1zM11 9h1v1h-1zM22 9h1v1h-1zM33 9h1v1h-1zM51 9h1v1h-1zM60 9h1v1h-1zM62 9h1v1h-1zM10 10h1v1h-1zM18 10h1v1h-1zM22 10h1v1h-1zM42 10h1v1h-1zM47 10h1v1h-1zM2 11h1v1h-1zM31 11h1v1h-1zM33 11h1v1h-1zM35 11h1v1h-1zM37 11h1v1h-1zM41 11h1v1h-1zM46 11h1v1h-1zM48 11h1v1h-1zM62 11h1v1h-1zM0 12h1v1h-1zM28 12h1v1h-1zM43 12h1v1h-1zM48 12h1v1h-1zM56 12h1v1h-1zM14 13h1v1h-1zM28 13h1v1h-1zM37 13h1v1h-1zM41 13h1v1h-1zM48 13h1v1h-1zM57 13h2v1h-2zM61 13h1v1h-1zM13 14h1v1h-1zM35 14h3v1h-3zM41 14h1v1h-1zM0 15h1v1h-1zM2 15h1v1h-1zM17 15h2v1h-2zM23 15h1v1h-1zM50 15h1v1h-1zM52 15h1v1h-1zM54 15h1v1h-1zM57 15h1v1h-1zM60 15h1v1h-1zM12 16h1v1h-1zM26 16h1v1h-1zM42 16h1v1h-1zM46 16h1v1h-1zM55 16h1v1h-1zM1 17h2v1h-2zM22 17h1v1h-1zM31 17h1v1h-1zM35 17h1v1h-1zM37 17h1v1h-1zM46 17h1v1h-1zM18 18h1v1h-1zM24 18h1v1h-1zM54 18h1v1h-1zM58 18h1v1h-1zM62 18h1v1h-1zM25 19h1v1h-1zM32 19h1v1h-1zM48 19h1v1h-1zM58 19h1v1h-1zM14 20h1v1h-1zM17 20h1v1h-1zM33 20h1v1h-1zM44 20h1v1h-1zM54 20h1v1h-1zM47 25h1v1h-1zM9 26h1v1h-1zM32 26h1v1h-1zM34 27h1v1h-1zM39 27h2v1h-2zM32 28h1v1h-1zM39 28h1v1h-1zM45 29h1v1h-1zM47 29h1v1h-1zM18 30h1v1h-1zM12 31h1v1h-1zM23 31h1v1h-1zM0 32h1v1h-1zM3 32h1v1h-1zM34 32h1v1h-1zM44 32h2v1h-2zM49 32h1v1h-1zM51 32h1v1h-1zM61 32h1v1h-1zM0 33h1v1h-1zM22 33h1v1h-1zM43 33h1v1h-1zM8 34h1v1h-1zM31 34h1v1h-1zM9 35h1v1h-1zM27 35h1v1h-1zM31 35h1v1h-1zM39 35h1v1h-1zM54 35h1v1h-1zM60 35h1v1h-1zM22 36h1v1h-1zM31 36h1v1h-1zM35 36h1v1h-1zM37 36h1v1h-1zM45 36h1v1h-1zM8 37h1v1h-1zM22 37h1v1h-1zM49 37h1v1h-1zM4 38h1v1h-1zM0 39h1v1h-1z"/><path fill="#b8f24c" d="M48 0h1v1h-1zM6 2h1v1h-1zM27 6h1v1h-1zM29 6h1v1h-1zM21 15h1v1h-1zM10 21h1v1h-1zM27 21h1v1h-1zM44 21h1v1h-1zM55 21h1v1h-1zM13 22h1v1h-1zM61 22h2v1h-2zM3 23h1v1h-1zM5 23h1v1h-1zM8 23h1v1h-1zM37 23h1v1h-1zM41 23h1v1h-1zM47 23h1v1h-1zM4 24h1v1h-1zM8 24h1v1h-1zM11 24h1v1h-1zM19 24h1v1h-1zM27 24h1v1h-1zM37 24h2v1h-2zM47 24h1v1h-1zM49 24h1v1h-1zM51 24h1v1h-1zM63 24h1v1h-1zM19 25h2v1h-2zM19 27h2v1h-2zM19 28h2v1h-2zM28 28h1v1h-1zM19 29h3v1h-3zM28 29h1v1h-1zM19 30h3v1h-3zM21 32h1v1h-1zM20 33h1v1h-1zM19 34h1v1h-1zM20 36h1v1h-1zM29 36h1v1h-1zM36 36h1v1h-1zM19 37h1v1h-1zM29 37h1v1h-1zM5 38h1v1h-1zM20 38h2v1h-2zM5 39h1v1h-1zM16 39h1v1h-1zM19 39h1v1h-1zM21 39h1v1h-1z"/><path fill="#69f6e6" d="M53 0h1v1h-1zM53 5h1v1h-1zM53 7h1v1h-1zM53 8h1v1h-1zM53 10h1v1h-1zM53 16h1v1h-1zM53 20h1v1h-1z"/><path fill="#4debf5" d="M7 1h1v1h-1zM16 3h1v1h-1zM7 6h1v1h-1zM7 7h1v1h-1zM8 8h1v1h-1zM15 8h1v1h-1zM8 9h1v1h-1zM15 15h1v1h-1zM8 16h1v1h-1z"/><path fill="#51f5f2" d="M15 1h1v1h-1zM8 2h1v1h-1zM7 4h1v1h-1zM8 5h1v1h-1zM8 7h1v1h-1zM16 8h1v1h-1zM15 9h1v1h-1zM15 11h1v1h-1zM16 13h1v1h-1zM8 15h1v1h-1zM7 17h1v1h-1zM7 19h1v1h-1zM15 19h1v1h-1zM7 20h1v1h-1z"/><path fill="#75f6da" d="M53 1h1v1h-1zM53 2h1v1h-1zM53 4h1v1h-1zM53 9h1v1h-1zM53 17h1v1h-1zM53 18h1v1h-1z"/><path fill="#4ddef5" d="M7 2h1v1h-1zM15 2h1v1h-1z"/><path fill="#5ef5e5" d="M8 3h1v1h-1zM16 4h1v1h-1zM7 5h1v1h-1zM15 5h1v1h-1zM8 6h1v1h-1zM15 6h1v1h-1zM15 7h1v1h-1zM16 9h1v1h-1zM8 10h1v1h-1zM15 10h2v1h-2zM7 11h2v1h-2zM16 11h1v1h-1zM7 12h2v1h-2zM15 12h1v1h-1zM15 14h2v1h-2zM7 16h1v1h-1zM16 16h1v1h-1zM7 18h2v1h-2zM16 18h1v1h-1zM8 19h1v1h-1zM16 19h1v1h-1zM15 20h1v1h-1z"/><path fill="#86f5bc" d="M15 3h1v1h-1zM16 5h1v1h-1zM16 6h1v1h-1z"/><path fill="#8ef6c1" d="M53 3h1v1h-1zM53 6h1v1h-1zM53 11h1v1h-1zM53 14h1v1h-1z"/><path fill="#12c1f2" d="M4 5h1v1h-1zM18 5h1v1h-1zM39 5h1v1h-1zM59 6h1v1h-1zM12 7h1v1h-1zM17 7h1v1h-1zM42 7h1v1h-1zM36 8h1v1h-1zM40 8h1v1h-1zM61 8h1v1h-1zM3 10h1v1h-1zM30 10h1v1h-1zM35 10h1v1h-1zM4 11h1v1h-1zM23 11h1v1h-1zM44 11h1v1h-1zM56 11h1v1h-1zM58 11h2v1h-2zM1 12h1v1h-1zM22 12h4v1h-4zM36 12h1v1h-1zM41 12h1v1h-1zM44 12h3v1h-3zM61 12h1v1h-1zM3 13h1v1h-1zM13 13h1v1h-1zM17 13h1v1h-1zM24 13h1v1h-1zM43 13h1v1h-1zM50 13h1v1h-1zM1 14h1v1h-1zM4 14h1v1h-1zM11 14h1v1h-1zM23 14h1v1h-1zM42 14h1v1h-1zM45 14h1v1h-1zM49 14h2v1h-2zM55 14h1v1h-1zM10 15h2v1h-2zM13 15h1v1h-1zM32 15h1v1h-1zM37 15h1v1h-1zM42 15h1v1h-1zM49 15h1v1h-1zM51 15h1v1h-1zM59 15h1v1h-1zM0 16h1v1h-1zM17 16h1v1h-1zM22 16h1v1h-1zM25 16h1v1h-1zM35 16h1v1h-1zM37 16h1v1h-1zM59 16h1v1h-1zM61 16h1v1h-1zM11 17h1v1h-1zM18 17h1v1h-1zM24 17h3v1h-3zM33 17h1v1h-1zM41 17h2v1h-2zM54 17h1v1h-1zM58 17h1v1h-1zM1 18h1v1h-1zM10 18h2v1h-2zM17 18h1v1h-1zM26 18h1v1h-1zM30 18h1v1h-1zM35 18h1v1h-1zM47 18h1v1h-1zM52 18h1v1h-1zM57 18h1v1h-1zM61 18h1v1h-1zM26 19h1v1h-1zM31 19h1v1h-1zM40 19h1v1h-1zM43 19h1v1h-1zM47 19h1v1h-1zM61 19h1v1h-1zM4 20h1v1h-1zM18 20h1v1h-1zM35 20h1v1h-1zM37 20h1v1h-1zM49 20h1v1h-1zM56 20h3v1h-3zM60 20h1v1h-1zM63 20h1v1h-1zM8 26h1v1h-1zM31 32h1v1h-1zM25 33h1v1h-1zM47 34h1v1h-1zM4 36h1v1h-1z"/><path fill="#1279f2" d="M0 7h1v1h-1zM3 7h1v1h-1zM22 7h1v1h-1zM49 7h2v1h-2zM54 7h1v1h-1zM58 7h1v1h-1zM9 8h1v1h-1zM11 8h1v1h-1zM18 8h1v1h-1zM33 8h1v1h-1zM39 8h1v1h-1zM45 8h1v1h-1zM40 11h1v1h-1zM9 12h1v1h-1zM33 12h1v1h-1zM47 12h1v1h-1zM49 12h1v1h-1zM0 13h2v1h-2zM46 13h1v1h-1zM49 17h1v1h-1zM51 17h1v1h-1zM37 18h1v1h-1zM9 20h1v1h-1zM51 20h1v1h-1z"/><path fill="#129df2" d="M1 7h2v1h-2zM11 7h1v1h-1zM18 7h1v1h-1zM23 7h1v1h-1zM31 7h2v1h-2zM35 7h1v1h-1zM43 7h1v1h-1zM45 7h1v1h-1zM47 7h2v1h-2zM52 7h1v1h-1zM56 7h1v1h-1zM13 8h1v1h-1zM41 8h2v1h-2zM50 8h1v1h-1zM52 8h1v1h-1zM55 8h1v1h-1zM45 9h1v1h-1zM0 11h2v1h-2zM9 11h1v1h-1zM11 11h2v1h-2zM18 11h1v1h-1zM39 11h1v1h-1zM47 11h1v1h-1zM51 11h1v1h-1zM31 12h2v1h-2zM37 12h1v1h-1zM55 12h1v1h-1zM59 12h1v1h-1zM4 13h1v1h-1zM10 13h2v1h-2zM18 13h1v1h-1zM23 13h1v1h-1zM31 13h1v1h-1zM42 13h1v1h-1zM47 13h1v1h-1zM52 13h1v1h-1zM12 15h1v1h-1zM11 16h1v1h-1zM51 16h1v1h-1zM0 17h1v1h-1zM4 17h1v1h-1zM9 17h1v1h-1zM12 17h1v1h-1zM47 17h1v1h-1zM59 17h1v1h-1zM2 18h1v1h-1zM25 18h1v1h-1zM39 18h3v1h-3zM49 18h2v1h-2zM55 18h1v1h-1zM60 18h1v1h-1zM0 19h2v1h-2zM3 19h1v1h-1zM10 19h2v1h-2zM13 19h1v1h-1zM41 19h1v1h-1zM55 19h1v1h-1zM1 20h2v1h-2zM11 20h1v1h-1zM13 20h1v1h-1zM30 20h1v1h-1zM40 20h1v1h-1zM43 20h1v1h-1zM46 20h1v1h-1zM50 20h1v1h-1zM52 20h1v1h-1zM55 20h1v1h-1zM59 20h1v1h-1z"/><path fill="#128bf2" d="M4 7h1v1h-1zM9 7h2v1h-2zM13 7h1v1h-1zM24 7h1v1h-1zM30 7h1v1h-1zM33 7h1v1h-1zM1 8h3v1h-3zM22 8h1v1h-1zM24 8h1v1h-1zM26 8h1v1h-1zM30 8h1v1h-1zM32 8h1v1h-1zM43 8h1v1h-1zM47 8h1v1h-1zM51 8h1v1h-1zM54 8h1v1h-1zM60 8h1v1h-1zM30 11h1v1h-1zM49 11h1v1h-1zM4 12h1v1h-1zM10 12h4v1h-4zM30 12h1v1h-1zM39 12h2v1h-2zM42 12h1v1h-1zM51 12h1v1h-1zM2 13h1v1h-1zM9 13h1v1h-1zM22 13h1v1h-1zM30 13h1v1h-1zM32 13h1v1h-1zM39 13h2v1h-2zM45 13h1v1h-1zM49 13h1v1h-1zM51 13h1v1h-1zM55 13h1v1h-1zM59 13h1v1h-1zM1 16h1v1h-1zM4 16h1v1h-1zM9 16h1v1h-1zM32 16h1v1h-1zM40 16h1v1h-1zM45 16h1v1h-1zM32 17h1v1h-1zM31 18h1v1h-1zM45 18h1v1h-1zM9 19h1v1h-1zM30 19h1v1h-1zM52 19h1v1h-1zM3 20h1v1h-1zM10 20h1v1h-1zM12 20h1v1h-1zM26 20h1v1h-1zM32 20h1v1h-1zM39 20h1v1h-1zM42 20h1v1h-1zM45 20h1v1h-1z"/><path fill="#12aff2" d="M25 7h1v1h-1zM28 7h1v1h-1zM37 7h1v1h-1zM40 7h2v1h-2zM46 7h1v1h-1zM61 7h1v1h-1zM10 8h1v1h-1zM17 8h1v1h-1zM23 8h1v1h-1zM25 8h1v1h-1zM35 8h1v1h-1zM37 8h1v1h-1zM46 8h1v1h-1zM48 8h1v1h-1zM4 10h1v1h-1zM13 11h1v1h-1zM61 11h1v1h-1zM3 12h1v1h-1zM50 12h1v1h-1zM52 12h1v1h-1zM12 13h1v1h-1zM25 13h1v1h-1zM44 13h1v1h-1zM54 13h1v1h-1zM56 13h1v1h-1zM9 14h2v1h-2zM17 14h1v1h-1zM24 14h1v1h-1zM32 14h1v1h-1zM44 14h1v1h-1zM9 15h1v1h-1zM24 15h1v1h-1zM40 15h1v1h-1zM43 15h1v1h-1zM45 15h1v1h-1zM3 16h1v1h-1zM10 16h1v1h-1zM30 16h1v1h-1zM39 16h1v1h-1zM41 16h1v1h-1zM44 16h1v1h-1zM52 16h1v1h-1zM13 17h1v1h-1zM17 17h1v1h-1zM39 17h1v1h-1zM45 17h1v1h-1zM50 17h1v1h-1zM52 17h1v1h-1zM0 18h1v1h-1zM3 18h2v1h-2zM9 18h1v1h-1zM13 18h1v1h-1zM22 18h1v1h-1zM32 18h1v1h-1zM42 18h2v1h-2zM4 19h1v1h-1zM12 19h1v1h-1zM23 19h1v1h-1zM37 19h1v1h-1zM39 19h1v1h-1zM50 19h2v1h-2zM59 19h1v1h-1zM0 20h1v1h-1zM22 20h1v1h-1zM31 20h1v1h-1zM41 20h1v1h-1zM47 20h1v1h-1zM61 20h1v1h-1zM4 26h1v1h-1zM49 26h1v1h-1zM32 30h1v1h-1zM22 32h1v1h-1z"/><path fill="#3ef4df" d="M34 7h1v1h-1zM38 7h1v1h-1zM34 12h1v1h-1zM34 13h1v1h-1zM38 13h1v1h-1zM34 14h1v1h-1zM38 14h1v1h-1zM34 17h1v1h-1zM38 18h1v1h-1zM38 19h1v1h-1z"/><path fill="#1267f2" d="M39 7h1v1h-1zM44 7h1v1h-1zM51 7h1v1h-1zM60 7h1v1h-1zM0 8h1v1h-1zM4 8h1v1h-1zM31 8h1v1h-1zM44 8h1v1h-1zM57 8h2v1h-2zM49 16h1v1h-1zM49 19h1v1h-1z"/><path fill="#1255f2" d="M55 7h1v1h-1z"/><path fill="#121ff2" d="M59 7h1v1h-1zM49 8h1v1h-1z"/><path fill="#5ef4bf" d="M34 8h1v1h-1zM38 9h1v1h-1zM38 10h1v1h-1z"/><path fill="#2ef4ef" d="M38 8h1v1h-1zM34 11h1v1h-1zM38 11h1v1h-1zM34 16h1v1h-1zM38 17h1v1h-1zM34 18h1v1h-1zM34 20h1v1h-1zM38 20h1v1h-1z"/><path fill="#1243f2" d="M59 8h1v1h-1z"/><path fill="#4ef4cf" d="M34 9h1v1h-1zM34 10h1v1h-1zM34 15h1v1h-1zM38 15h1v1h-1zM38 16h1v1h-1z"/><path fill="#2ad7f4" d="M38 12h1v1h-1zM34 19h1v1h-1z"/><path fill="#82f6cd" d="M53 12h1v1h-1zM53 13h1v1h-1zM53 15h1v1h-1zM53 19h1v1h-1z"/><path fill="#dcf228" d="M6 21h2v1h-2zM12 21h1v1h-1zM10 23h1v1h-1zM17 23h1v1h-1zM30 23h1v1h-1zM33 23h1v1h-1zM40 23h1v1h-1zM45 23h1v1h-1zM49 23h1v1h-1zM51 23h1v1h-1zM59 23h2v1h-2zM5 24h2v1h-2zM10 24h1v1h-1zM24 24h1v1h-1zM42 24h1v1h-1zM20 26h1v1h-1zM20 31h1v1h-1zM21 36h1v1h-1zM20 37h1v1h-1z"/><path fill="#eef216" d="M52 21h1v1h-1zM2 23h1v1h-1zM11 23h2v1h-2zM18 23h1v1h-1zM23 23h1v1h-1zM34 23h1v1h-1zM38 23h1v1h-1zM54 23h1v1h-1zM58 23h1v1h-1zM61 23h1v1h-1zM1 24h1v1h-1zM7 24h1v1h-1zM9 24h1v1h-1zM17 24h1v1h-1zM21 24h3v1h-3zM31 24h1v1h-1zM39 24h1v1h-1zM44 24h1v1h-1zM50 24h1v1h-1zM60 24h1v1h-1zM27 29h1v1h-1zM27 31h1v1h-1z"/><path fill="#f2d312" d="M1 23h1v1h-1zM6 23h1v1h-1zM25 23h2v1h-2zM29 23h1v1h-1zM35 23h1v1h-1zM56 23h2v1h-2zM2 24h1v1h-1zM12 24h1v1h-1zM33 24h1v1h-1zM48 24h1v1h-1zM62 24h1v1h-1zM29 28h1v1h-1z"/><path fill="#f2e512" d="M4 23h1v1h-1zM7 23h1v1h-1zM22 23h1v1h-1zM31 23h1v1h-1zM36 23h1v1h-1zM39 23h1v1h-1zM42 23h2v1h-2zM53 23h1v1h-1zM55 23h1v1h-1zM62 23h1v1h-1zM16 24h1v1h-1zM18 24h1v1h-1zM29 24h1v1h-1zM34 24h1v1h-1zM52 24h5v1h-5z"/><path fill="#f27912" d="M14 23h1v1h-1z"/><path fill="#f2af12" d="M16 23h1v1h-1zM26 24h1v1h-1zM36 24h1v1h-1z"/><path fill="#f29d12" d="M27 23h1v1h-1z"/><path fill="#f2c112" d="M44 23h1v1h-1zM46 23h1v1h-1zM48 23h1v1h-1zM52 23h1v1h-1zM13 24h1v1h-1z"/><path fill="#b6ac0d" d="M29 31h1v1h-1z"/><path fill="#b2b611" d="M29 32h1v1h-1z"/><path fill="#97b62c" d="M29 33h1v1h-1z"/><path fill="#a5b61e" d="M29 34h1v1h-1z"/><path fill="#47b67c" d="M29 35h1v1h-1z"/></g></g><g filter="url(#lblur)"><rect x="94.5" y="321.8" width="294.1" height="4.6" fill="#94f270" opacity="0.5"/><rect x="94.5" y="326.5" width="294.1" height="1.4" fill="#4a4a22" opacity="0.95"/><rect x="94.5" y="327.9" width="294.1" height="3.4" fill="#e6b060" opacity="0.8"/></g></g><rect x="94.5" y="271" width="294.1" height="97.80000000000001" fill="none" stroke="#222" stroke-width="1.1"/><path d="M103.2 368.8v-3M103.2 271v3M195 368.8v-3M195 271v3M287.8 368.8v-3M287.8 271v3M378.6 368.8v-3M378.6 271v3M94.5 288.8h3M388.6 288.8h-3M94.5 330h3M388.6 330h-3" stroke="#222" stroke-width="1"/><ellipse cx="189.75" cy="323" rx="7.1" ry="48.7" fill="none" stroke="#d42a18" stroke-width="2.2"/><linearGradient id="cb1" x1="0" y1="0" x2="0" y2="1"><stop offset="0.000" stop-color="#800505"/><stop offset="0.062" stop-color="#bd0505"/><stop offset="0.125" stop-color="#fa0505"/><stop offset="0.188" stop-color="#fa4205"/><stop offset="0.250" stop-color="#fa8005"/><stop offset="0.312" stop-color="#fabd05"/><stop offset="0.375" stop-color="#fafa05"/><stop offset="0.438" stop-color="#bdfa42"/><stop offset="0.500" stop-color="#80fa80"/><stop offset="0.562" stop-color="#42fabd"/><stop offset="0.625" stop-color="#05fafa"/><stop offset="0.688" stop-color="#05bdfa"/><stop offset="0.750" stop-color="#0580fa"/><stop offset="0.812" stop-color="#0542fa"/><stop offset="0.875" stop-color="#0505fa"/><stop offset="0.938" stop-color="#0505bd"/><stop offset="1.000" stop-color="#050580"/></linearGradient><rect x="406.4" y="271" width="20.2" height="99" fill="url(#cb1)" stroke="#1a1a1a" stroke-width="1"/><clipPath id="c2"><rect x="94.3" y="447" width="294.2" height="97.5"/></clipPath><filter id="f2" x="0" y="0" width="1" height="1"><feGaussianBlur stdDeviation="0.9" edgeMode="duplicate"/></filter><g clip-path="url(#c2)"><g filter="url(#f2)"><rect x="94.3" y="447" width="294.2" height="97.5" fill="#3af2ca"/><g transform="translate(94.3 447) scale(4.6 2.45)"><path fill="#4cf2b8" d="M0 0h1v1h-1zM9 0h1v1h-1zM24 0h3v1h-3zM28 0h1v1h-1zM33 0h1v1h-1zM38 0h1v1h-1zM60 0h1v1h-1zM20 1h1v1h-1zM24 1h1v1h-1zM27 1h1v1h-1zM36 1h1v1h-1zM47 1h1v1h-1zM53 1h1v1h-1zM56 1h1v1h-1zM13 2h1v1h-1zM27 2h2v1h-2zM30 2h1v1h-1zM35 2h1v1h-1zM40 2h1v1h-1zM44 2h2v1h-2zM54 2h1v1h-1zM62 2h1v1h-1zM9 3h1v1h-1zM12 3h1v1h-1zM18 3h1v1h-1zM24 3h1v1h-1zM30 3h1v1h-1zM33 3h1v1h-1zM44 3h2v1h-2zM60 3h1v1h-1zM1 4h1v1h-1zM10 4h1v1h-1zM58 4h1v1h-1zM10 5h1v1h-1zM47 5h2v1h-2zM55 5h1v1h-1zM59 5h2v1h-2zM63 5h1v1h-1zM2 6h1v1h-1zM61 6h1v1h-1zM2 7h1v1h-1zM37 7h1v1h-1zM2 8h1v1h-1zM33 8h1v1h-1zM40 8h1v1h-1zM27 9h1v1h-1zM40 9h1v1h-1zM42 9h1v1h-1zM59 9h1v1h-1zM2 10h1v1h-1zM58 10h1v1h-1zM2 11h1v1h-1zM31 11h1v1h-1zM37 11h1v1h-1zM42 11h1v1h-1zM47 11h1v1h-1zM58 11h1v1h-1zM26 12h1v1h-1zM2 13h1v1h-1zM25 13h2v1h-2zM51 14h1v1h-1zM2 15h1v1h-1zM40 15h1v1h-1zM59 16h1v1h-1zM6 17h1v1h-1zM18 17h1v1h-1zM30 17h1v1h-1zM37 17h1v1h-1zM44 17h1v1h-1zM46 17h1v1h-1zM49 17h1v1h-1zM61 17h1v1h-1zM0 18h1v1h-1zM43 18h1v1h-1zM49 18h1v1h-1zM0 19h2v1h-2zM7 19h1v1h-1zM18 19h1v1h-1zM20 19h1v1h-1zM24 19h1v1h-1zM30 19h1v1h-1zM33 19h1v1h-1zM35 19h1v1h-1zM45 19h1v1h-1zM55 19h1v1h-1zM13 20h1v1h-1zM16 20h1v1h-1zM19 20h1v1h-1zM29 20h1v1h-1zM42 20h1v1h-1zM50 20h2v1h-2zM59 20h1v1h-1zM1 21h1v1h-1zM9 21h1v1h-1zM12 21h1v1h-1zM16 21h1v1h-1zM19 21h1v1h-1zM25 21h1v1h-1zM30 21h1v1h-1zM40 21h1v1h-1zM44 21h1v1h-1zM49 21h1v1h-1zM52 21h1v1h-1zM54 21h1v1h-1zM13 22h1v1h-1zM25 22h1v1h-1zM29 22h2v1h-2zM32 22h1v1h-1zM43 22h1v1h-1zM47 22h1v1h-1zM53 22h1v1h-1zM5 23h1v1h-1zM12 23h1v1h-1zM32 23h1v1h-1zM43 23h1v1h-1zM49 23h2v1h-2zM55 23h1v1h-1zM57 23h1v1h-1zM61 23h1v1h-1zM8 24h1v1h-1zM16 24h1v1h-1zM30 24h1v1h-1zM43 24h2v1h-2zM46 24h1v1h-1zM48 24h1v1h-1zM50 24h1v1h-1zM52 24h1v1h-1zM54 24h1v1h-1zM8 25h1v1h-1zM16 25h1v1h-1zM20 25h1v1h-1zM32 25h1v1h-1zM35 25h1v1h-1zM38 25h1v1h-1zM40 25h1v1h-1zM52 25h1v1h-1zM54 25h1v1h-1zM14 26h1v1h-1zM39 26h1v1h-1zM41 26h1v1h-1zM44 26h1v1h-1zM49 26h1v1h-1zM57 26h1v1h-1zM62 26h1v1h-1zM0 27h1v1h-1zM7 27h1v1h-1zM10 27h1v1h-1zM17 27h1v1h-1zM28 27h1v1h-1zM30 27h1v1h-1zM32 27h1v1h-1zM37 27h1v1h-1zM57 27h1v1h-1zM60 27h1v1h-1zM7 28h1v1h-1zM10 28h1v1h-1zM20 28h1v1h-1zM32 28h1v1h-1zM39 28h1v1h-1zM63 28h1v1h-1zM5 29h1v1h-1zM7 29h1v1h-1zM16 29h1v1h-1zM19 29h2v1h-2zM24 29h1v1h-1zM30 29h1v1h-1zM37 29h2v1h-2zM42 29h2v1h-2zM45 29h2v1h-2zM51 29h1v1h-1zM54 29h2v1h-2zM57 29h1v1h-1zM59 29h1v1h-1zM61 29h1v1h-1zM17 30h1v1h-1zM24 30h1v1h-1zM33 30h1v1h-1zM35 30h1v1h-1zM39 30h2v1h-2zM46 30h1v1h-1zM53 30h1v1h-1zM63 30h1v1h-1zM5 31h1v1h-1zM7 31h2v1h-2zM18 31h1v1h-1zM25 31h1v1h-1zM30 31h1v1h-1zM52 31h1v1h-1zM60 31h1v1h-1zM6 32h2v1h-2zM25 32h1v1h-1zM28 32h1v1h-1zM35 32h1v1h-1zM44 32h1v1h-1zM51 32h1v1h-1zM55 32h1v1h-1zM63 32h1v1h-1zM4 33h1v1h-1zM19 33h1v1h-1zM25 33h1v1h-1zM43 33h1v1h-1zM48 33h1v1h-1zM55 33h1v1h-1zM57 33h1v1h-1zM10 34h1v1h-1zM19 34h1v1h-1zM29 34h1v1h-1zM35 34h1v1h-1zM49 34h1v1h-1zM51 34h1v1h-1zM55 34h3v1h-3zM0 35h1v1h-1zM5 35h1v1h-1zM9 35h1v1h-1zM13 35h1v1h-1zM29 35h1v1h-1zM35 35h1v1h-1zM41 35h1v1h-1zM43 35h1v1h-1zM54 35h1v1h-1zM1 36h1v1h-1zM5 36h1v1h-1zM7 36h1v1h-1zM13 36h1v1h-1zM17 36h1v1h-1zM40 36h2v1h-2zM44 36h1v1h-1zM52 36h1v1h-1zM20 37h1v1h-1zM23 37h1v1h-1zM42 37h1v1h-1zM45 37h1v1h-1zM48 37h1v1h-1zM51 37h1v1h-1zM56 37h2v1h-2zM60 37h2v1h-2zM6 38h1v1h-1zM10 38h1v1h-1zM12 38h1v1h-1zM16 38h2v1h-2zM20 38h1v1h-1zM40 38h1v1h-1zM46 38h1v1h-1zM13 39h1v1h-1zM20 39h1v1h-1zM36 39h1v1h-1zM47 39h3v1h-3z"/><path fill="#3af2ca" d="M1 0h1v1h-1zM4 0h3v1h-3zM18 0h1v1h-1zM20 0h1v1h-1zM30 0h1v1h-1zM43 0h2v1h-2zM48 0h1v1h-1zM50 0h1v1h-1zM52 0h1v1h-1zM62 0h1v1h-1zM5 1h1v1h-1zM8 1h1v1h-1zM25 1h1v1h-1zM28 1h1v1h-1zM33 1h1v1h-1zM35 1h1v1h-1zM37 1h2v1h-2zM40 1h1v1h-1zM51 1h2v1h-2zM58 1h1v1h-1zM62 1h2v1h-2zM0 2h2v1h-2zM7 2h1v1h-1zM9 2h1v1h-1zM12 2h1v1h-1zM23 2h1v1h-1zM49 2h2v1h-2zM52 2h1v1h-1zM60 2h1v1h-1zM0 3h1v1h-1zM8 3h1v1h-1zM23 3h1v1h-1zM38 3h1v1h-1zM40 3h1v1h-1zM43 3h1v1h-1zM55 3h1v1h-1zM57 3h1v1h-1zM62 3h1v1h-1zM2 4h1v1h-1zM5 4h1v1h-1zM20 4h1v1h-1zM36 4h1v1h-1zM51 4h1v1h-1zM59 4h2v1h-2zM1 5h1v1h-1zM5 5h1v1h-1zM8 5h1v1h-1zM33 5h1v1h-1zM36 5h1v1h-1zM38 5h1v1h-1zM40 5h1v1h-1zM43 5h1v1h-1zM51 5h1v1h-1zM8 6h1v1h-1zM56 6h1v1h-1zM24 7h1v1h-1zM33 7h1v1h-1zM47 7h2v1h-2zM56 7h1v1h-1zM30 8h1v1h-1zM42 8h1v1h-1zM58 8h2v1h-2zM63 8h1v1h-1zM10 9h1v1h-1zM31 9h1v1h-1zM48 9h1v1h-1zM8 10h1v1h-1zM33 10h1v1h-1zM36 10h1v1h-1zM61 10h1v1h-1zM8 11h2v1h-2zM18 11h1v1h-1zM61 11h1v1h-1zM62 12h1v1h-1zM48 13h1v1h-1zM2 14h1v1h-1zM4 14h1v1h-1zM16 14h1v1h-1zM42 14h2v1h-2zM24 15h1v1h-1zM31 15h1v1h-1zM42 15h1v1h-1zM48 15h1v1h-1zM47 16h1v1h-1zM56 16h1v1h-1zM58 16h1v1h-1zM63 16h1v1h-1zM4 17h1v1h-1zM8 17h1v1h-1zM10 17h1v1h-1zM12 17h1v1h-1zM24 17h1v1h-1zM31 17h1v1h-1zM40 17h1v1h-1zM43 17h1v1h-1zM47 17h1v1h-1zM51 17h2v1h-2zM55 17h1v1h-1zM60 17h1v1h-1zM63 17h1v1h-1zM1 18h1v1h-1zM8 18h1v1h-1zM10 18h1v1h-1zM18 18h1v1h-1zM31 18h1v1h-1zM38 18h2v1h-2zM47 18h2v1h-2zM63 18h1v1h-1zM12 19h1v1h-1zM29 19h1v1h-1zM32 19h1v1h-1zM46 19h2v1h-2zM56 19h1v1h-1zM4 20h1v1h-1zM30 20h1v1h-1zM32 20h1v1h-1zM47 20h1v1h-1zM57 20h1v1h-1zM62 20h1v1h-1zM8 21h1v1h-1zM13 21h1v1h-1zM32 21h1v1h-1zM61 21h2v1h-2zM7 22h1v1h-1zM44 22h1v1h-1zM52 22h1v1h-1zM56 22h1v1h-1zM62 22h1v1h-1zM16 23h1v1h-1zM28 23h1v1h-1zM41 23h1v1h-1zM46 23h1v1h-1zM52 23h1v1h-1zM56 23h1v1h-1zM60 23h1v1h-1zM4 24h1v1h-1zM12 24h1v1h-1zM19 24h2v1h-2zM25 24h1v1h-1zM28 24h1v1h-1zM32 24h1v1h-1zM38 24h1v1h-1zM55 24h1v1h-1zM61 24h1v1h-1zM0 25h1v1h-1zM5 25h3v1h-3zM9 25h1v1h-1zM12 25h2v1h-2zM28 25h1v1h-1zM39 25h1v1h-1zM42 25h2v1h-2zM49 25h1v1h-1zM53 25h1v1h-1zM56 25h2v1h-2zM1 26h1v1h-1zM7 26h1v1h-1zM13 26h1v1h-1zM46 26h1v1h-1zM12 27h1v1h-1zM46 27h1v1h-1zM50 27h1v1h-1zM54 27h1v1h-1zM4 28h1v1h-1zM14 28h1v1h-1zM24 28h1v1h-1zM29 28h1v1h-1zM38 28h1v1h-1zM41 28h1v1h-1zM44 28h1v1h-1zM46 28h1v1h-1zM57 28h1v1h-1zM6 29h1v1h-1zM13 29h1v1h-1zM23 29h1v1h-1zM25 29h1v1h-1zM29 29h1v1h-1zM39 29h1v1h-1zM52 29h1v1h-1zM5 30h2v1h-2zM13 30h1v1h-1zM16 30h1v1h-1zM18 30h1v1h-1zM20 30h1v1h-1zM25 30h1v1h-1zM45 30h1v1h-1zM62 30h1v1h-1zM0 31h2v1h-2zM4 31h1v1h-1zM14 31h1v1h-1zM17 31h1v1h-1zM35 31h2v1h-2zM44 31h1v1h-1zM46 31h1v1h-1zM57 31h1v1h-1zM62 31h1v1h-1zM4 32h1v1h-1zM16 32h2v1h-2zM19 32h2v1h-2zM43 32h1v1h-1zM45 32h1v1h-1zM50 32h1v1h-1zM56 32h1v1h-1zM6 33h1v1h-1zM12 33h1v1h-1zM39 33h1v1h-1zM44 33h1v1h-1zM50 33h1v1h-1zM54 33h1v1h-1zM60 33h1v1h-1zM14 34h1v1h-1zM17 34h2v1h-2zM28 34h1v1h-1zM32 34h1v1h-1zM39 34h1v1h-1zM41 34h1v1h-1zM43 34h1v1h-1zM16 35h2v1h-2zM28 35h1v1h-1zM30 35h1v1h-1zM47 35h1v1h-1zM57 35h1v1h-1zM18 36h2v1h-2zM23 36h1v1h-1zM25 36h1v1h-1zM32 36h1v1h-1zM39 36h1v1h-1zM43 36h1v1h-1zM49 36h2v1h-2zM55 36h1v1h-1zM57 36h1v1h-1zM1 37h1v1h-1zM13 37h1v1h-1zM24 37h1v1h-1zM40 37h1v1h-1zM44 37h1v1h-1zM55 37h1v1h-1zM63 37h1v1h-1zM0 38h1v1h-1zM4 38h1v1h-1zM9 38h1v1h-1zM29 38h2v1h-2zM33 38h1v1h-1zM38 38h2v1h-2zM41 38h1v1h-1zM43 38h2v1h-2zM50 38h1v1h-1zM53 38h1v1h-1zM55 38h1v1h-1zM57 38h1v1h-1zM60 38h1v1h-1zM18 39h1v1h-1zM29 39h1v1h-1zM51 39h1v1h-1zM62 39h2v1h-2z"/><path fill="#94f270" d="M2 0h1v1h-1zM27 0h1v1h-1zM31 0h1v1h-1zM47 0h1v1h-1zM2 1h1v1h-1zM5 2h1v1h-1zM33 2h2v1h-2zM36 2h1v1h-1zM58 2h1v1h-1zM58 3h1v1h-1zM27 6h1v1h-1zM34 6h1v1h-1zM15 8h1v1h-1zM26 8h1v1h-1zM14 15h1v1h-1zM26 16h1v1h-1zM2 17h1v1h-1zM58 17h2v1h-2zM26 18h1v1h-1zM31 19h1v1h-1zM49 19h1v1h-1zM58 19h1v1h-1zM2 20h1v1h-1zM27 20h1v1h-1zM33 21h1v1h-1zM53 21h1v1h-1zM8 22h1v1h-1zM33 22h1v1h-1zM37 22h1v1h-1zM39 22h1v1h-1zM41 22h1v1h-1zM48 22h1v1h-1zM51 22h1v1h-1zM63 22h1v1h-1zM2 23h1v1h-1zM20 23h1v1h-1zM33 23h1v1h-1zM2 24h1v1h-1zM5 24h1v1h-1zM10 24h1v1h-1zM36 24h2v1h-2zM45 24h1v1h-1zM53 24h1v1h-1zM57 24h1v1h-1zM60 24h1v1h-1zM31 25h1v1h-1zM33 25h1v1h-1zM10 26h1v1h-1zM25 26h2v1h-2zM31 26h1v1h-1zM36 26h1v1h-1zM42 26h1v1h-1zM51 26h1v1h-1zM53 26h1v1h-1zM58 26h1v1h-1zM23 27h2v1h-2zM39 27h1v1h-1zM59 27h1v1h-1zM61 27h1v1h-1zM63 27h1v1h-1zM1 28h1v1h-1zM42 28h1v1h-1zM51 28h1v1h-1zM53 28h1v1h-1zM31 29h1v1h-1zM31 30h1v1h-1zM41 30h1v1h-1zM58 30h1v1h-1zM2 31h1v1h-1zM27 31h1v1h-1zM33 31h1v1h-1zM42 31h1v1h-1zM37 32h1v1h-1zM58 32h1v1h-1zM2 33h1v1h-1zM49 33h1v1h-1zM2 34h1v1h-1zM8 34h1v1h-1zM27 34h1v1h-1zM58 34h2v1h-2zM1 35h1v1h-1zM32 35h1v1h-1zM45 35h1v1h-1zM58 35h1v1h-1zM4 36h1v1h-1zM6 36h1v1h-1zM24 36h1v1h-1zM27 36h1v1h-1zM37 36h1v1h-1zM42 36h1v1h-1zM18 37h1v1h-1zM31 38h1v1h-1zM2 39h1v1h-1zM4 39h1v1h-1zM30 39h1v1h-1zM35 39h1v1h-1z"/><path fill="#9ff47e" d="M3 0h1v1h-1zM3 19h1v1h-1zM3 20h1v1h-1zM3 25h1v1h-1zM3 32h1v1h-1zM3 37h1v1h-1z"/><path fill="#28f2dc" d="M7 0h1v1h-1zM13 0h1v1h-1zM23 0h1v1h-1zM45 0h1v1h-1zM57 0h1v1h-1zM4 1h1v1h-1zM6 1h2v1h-2zM9 1h1v1h-1zM16 1h1v1h-1zM32 1h1v1h-1zM45 1h1v1h-1zM48 1h1v1h-1zM50 1h1v1h-1zM55 1h1v1h-1zM59 1h1v1h-1zM29 2h1v1h-1zM46 2h2v1h-2zM55 2h1v1h-1zM57 2h1v1h-1zM61 2h1v1h-1zM63 2h1v1h-1zM5 3h1v1h-1zM16 3h1v1h-1zM25 3h1v1h-1zM35 3h1v1h-1zM47 3h2v1h-2zM52 3h1v1h-1zM61 3h1v1h-1zM63 3h1v1h-1zM13 4h1v1h-1zM18 4h1v1h-1zM25 4h1v1h-1zM42 4h1v1h-1zM48 4h1v1h-1zM63 4h1v1h-1zM4 5h1v1h-1zM24 5h1v1h-1zM31 5h1v1h-1zM42 5h1v1h-1zM56 5h1v1h-1zM25 6h1v1h-1zM31 6h1v1h-1zM35 6h1v1h-1zM42 6h1v1h-1zM63 6h1v1h-1zM5 7h1v1h-1zM10 7h1v1h-1zM18 7h1v1h-1zM28 7h1v1h-1zM31 7h1v1h-1zM35 7h1v1h-1zM42 7h2v1h-2zM49 7h1v1h-1zM55 7h1v1h-1zM51 8h1v1h-1zM24 9h1v1h-1zM30 9h1v1h-1zM37 9h1v1h-1zM0 10h1v1h-1zM4 10h1v1h-1zM7 10h1v1h-1zM18 10h1v1h-1zM24 10h1v1h-1zM31 10h1v1h-1zM40 10h1v1h-1zM45 10h1v1h-1zM55 10h1v1h-1zM63 10h1v1h-1zM7 11h1v1h-1zM24 11h1v1h-1zM33 11h1v1h-1zM51 11h2v1h-2zM56 11h1v1h-1zM60 11h1v1h-1zM2 12h1v1h-1zM4 12h1v1h-1zM7 12h1v1h-1zM9 12h1v1h-1zM30 12h1v1h-1zM33 12h1v1h-1zM37 12h1v1h-1zM42 12h1v1h-1zM47 12h1v1h-1zM31 13h1v1h-1zM40 13h1v1h-1zM43 13h1v1h-1zM51 13h1v1h-1zM54 13h1v1h-1zM58 13h2v1h-2zM61 13h1v1h-1zM1 14h1v1h-1zM5 14h1v1h-1zM19 14h1v1h-1zM24 14h1v1h-1zM53 14h1v1h-1zM61 14h1v1h-1zM63 14h1v1h-1zM6 15h1v1h-1zM18 15h1v1h-1zM32 15h1v1h-1zM37 15h1v1h-1zM51 15h1v1h-1zM8 16h1v1h-1zM18 16h1v1h-1zM24 16h1v1h-1zM28 16h1v1h-1zM31 16h1v1h-1zM33 16h1v1h-1zM42 16h1v1h-1zM0 17h1v1h-1zM7 17h1v1h-1zM13 17h1v1h-1zM20 17h1v1h-1zM35 17h2v1h-2zM48 17h1v1h-1zM56 17h1v1h-1zM5 18h3v1h-3zM9 18h1v1h-1zM36 18h2v1h-2zM44 18h1v1h-1zM55 18h1v1h-1zM8 19h3v1h-3zM19 19h1v1h-1zM39 19h1v1h-1zM50 19h1v1h-1zM57 19h1v1h-1zM10 20h1v1h-1zM25 20h1v1h-1zM35 20h1v1h-1zM39 20h1v1h-1zM52 20h1v1h-1zM17 21h1v1h-1zM28 21h1v1h-1zM57 21h1v1h-1zM19 22h1v1h-1zM23 22h1v1h-1zM55 22h1v1h-1zM7 23h1v1h-1zM45 23h1v1h-1zM13 24h1v1h-1zM23 24h1v1h-1zM29 24h1v1h-1zM56 24h1v1h-1zM62 24h1v1h-1zM1 25h1v1h-1zM14 25h1v1h-1zM17 25h2v1h-2zM23 25h1v1h-1zM29 25h1v1h-1zM46 25h1v1h-1zM50 25h1v1h-1zM55 25h1v1h-1zM60 25h1v1h-1zM62 25h1v1h-1zM38 26h1v1h-1zM55 26h1v1h-1zM1 27h1v1h-1zM6 27h1v1h-1zM14 27h1v1h-1zM29 27h1v1h-1zM35 27h1v1h-1zM44 27h1v1h-1zM56 27h1v1h-1zM62 27h1v1h-1zM6 28h1v1h-1zM9 28h1v1h-1zM12 28h1v1h-1zM28 28h1v1h-1zM30 28h1v1h-1zM50 28h1v1h-1zM60 28h1v1h-1zM62 28h1v1h-1zM9 29h1v1h-1zM14 29h1v1h-1zM18 29h1v1h-1zM35 29h1v1h-1zM40 29h1v1h-1zM60 29h1v1h-1zM4 30h1v1h-1zM9 30h1v1h-1zM23 30h1v1h-1zM30 30h1v1h-1zM43 30h1v1h-1zM56 30h1v1h-1zM60 30h1v1h-1zM20 31h1v1h-1zM40 31h2v1h-2zM50 31h1v1h-1zM54 31h1v1h-1zM23 32h1v1h-1zM49 32h1v1h-1zM53 32h1v1h-1zM62 32h1v1h-1zM13 33h1v1h-1zM23 33h1v1h-1zM45 33h1v1h-1zM62 33h1v1h-1zM1 34h1v1h-1zM5 34h1v1h-1zM9 34h1v1h-1zM13 34h1v1h-1zM20 34h1v1h-1zM52 34h1v1h-1zM19 35h1v1h-1zM38 35h1v1h-1zM44 35h1v1h-1zM46 35h1v1h-1zM50 35h1v1h-1zM56 35h1v1h-1zM14 36h1v1h-1zM29 36h1v1h-1zM54 36h1v1h-1zM12 37h1v1h-1zM19 37h1v1h-1zM28 37h1v1h-1zM49 37h2v1h-2zM1 38h1v1h-1zM13 38h1v1h-1zM19 38h1v1h-1zM24 38h2v1h-2zM32 38h1v1h-1zM35 38h1v1h-1zM54 38h1v1h-1zM59 38h1v1h-1zM62 38h1v1h-1zM12 39h1v1h-1zM17 39h1v1h-1zM25 39h1v1h-1zM28 39h1v1h-1zM43 39h2v1h-2zM50 39h1v1h-1zM55 39h2v1h-2z"/><path fill="#70f294" d="M8 0h1v1h-1zM32 0h1v1h-1zM37 0h1v1h-1zM40 0h1v1h-1zM53 0h1v1h-1zM59 0h1v1h-1zM42 1h1v1h-1zM46 1h1v1h-1zM2 2h1v1h-1zM4 2h1v1h-1zM10 2h1v1h-1zM31 2h1v1h-1zM37 2h1v1h-1zM42 2h2v1h-2zM1 3h2v1h-2zM31 3h1v1h-1zM36 3h1v1h-1zM42 3h1v1h-1zM27 4h1v1h-1zM33 4h1v1h-1zM2 5h1v1h-1zM26 5h1v1h-1zM27 7h1v1h-1zM27 8h1v1h-1zM26 9h1v1h-1zM10 10h1v1h-1zM26 11h1v1h-1zM27 13h1v1h-1zM2 16h1v1h-1zM27 17h1v1h-1zM53 17h1v1h-1zM20 18h1v1h-1zM27 18h1v1h-1zM33 18h1v1h-1zM51 18h1v1h-1zM5 19h1v1h-1zM16 19h1v1h-1zM36 19h1v1h-1zM51 19h1v1h-1zM59 19h1v1h-1zM0 20h1v1h-1zM12 20h1v1h-1zM20 20h1v1h-1zM23 20h1v1h-1zM26 20h1v1h-1zM31 20h1v1h-1zM37 20h1v1h-1zM44 20h2v1h-2zM61 20h1v1h-1zM2 21h1v1h-1zM7 21h1v1h-1zM24 21h1v1h-1zM29 21h1v1h-1zM48 21h1v1h-1zM59 21h1v1h-1zM4 22h1v1h-1zM12 22h1v1h-1zM18 22h1v1h-1zM35 22h1v1h-1zM40 22h1v1h-1zM45 22h1v1h-1zM50 22h1v1h-1zM58 22h2v1h-2zM0 23h2v1h-2zM4 23h1v1h-1zM6 23h1v1h-1zM18 23h1v1h-1zM25 23h1v1h-1zM37 23h1v1h-1zM40 23h1v1h-1zM42 23h1v1h-1zM47 23h1v1h-1zM51 23h1v1h-1zM1 24h1v1h-1zM18 24h1v1h-1zM24 24h1v1h-1zM26 24h2v1h-2zM35 24h1v1h-1zM40 24h1v1h-1zM47 24h1v1h-1zM19 25h1v1h-1zM26 25h1v1h-1zM41 25h1v1h-1zM45 25h1v1h-1zM47 25h2v1h-2zM61 25h1v1h-1zM63 25h1v1h-1zM5 26h1v1h-1zM8 26h1v1h-1zM19 26h1v1h-1zM27 26h1v1h-1zM30 26h1v1h-1zM32 26h1v1h-1zM40 26h1v1h-1zM43 26h1v1h-1zM47 26h1v1h-1zM59 26h2v1h-2zM63 26h1v1h-1zM8 27h1v1h-1zM13 27h1v1h-1zM16 27h1v1h-1zM18 27h1v1h-1zM25 27h1v1h-1zM27 27h1v1h-1zM36 27h1v1h-1zM40 27h1v1h-1zM45 27h1v1h-1zM47 27h1v1h-1zM51 27h1v1h-1zM2 28h1v1h-1zM8 28h1v1h-1zM13 28h1v1h-1zM36 28h1v1h-1zM43 28h1v1h-1zM47 28h1v1h-1zM49 28h1v1h-1zM54 28h2v1h-2zM58 28h1v1h-1zM33 29h1v1h-1zM36 29h1v1h-1zM47 29h1v1h-1zM56 29h1v1h-1zM58 29h1v1h-1zM1 30h1v1h-1zM27 30h1v1h-1zM29 30h1v1h-1zM37 30h1v1h-1zM47 30h2v1h-2zM61 30h1v1h-1zM9 31h2v1h-2zM24 31h1v1h-1zM26 31h1v1h-1zM45 31h1v1h-1zM48 31h1v1h-1zM58 31h1v1h-1zM61 31h1v1h-1zM5 32h1v1h-1zM10 32h1v1h-1zM14 32h1v1h-1zM18 32h1v1h-1zM30 32h1v1h-1zM32 32h1v1h-1zM39 32h2v1h-2zM48 32h1v1h-1zM1 33h1v1h-1zM7 33h1v1h-1zM26 33h1v1h-1zM29 33h1v1h-1zM37 33h2v1h-2zM42 33h1v1h-1zM46 33h2v1h-2zM51 33h1v1h-1zM53 33h1v1h-1zM58 33h1v1h-1zM0 34h1v1h-1zM61 34h1v1h-1zM7 35h2v1h-2zM27 35h1v1h-1zM33 35h1v1h-1zM36 35h1v1h-1zM40 35h1v1h-1zM49 35h1v1h-1zM53 35h1v1h-1zM63 35h1v1h-1zM0 36h1v1h-1zM8 36h2v1h-2zM20 36h1v1h-1zM26 36h1v1h-1zM36 36h1v1h-1zM48 36h1v1h-1zM56 36h1v1h-1zM58 36h1v1h-1zM60 36h2v1h-2zM0 37h1v1h-1zM8 37h1v1h-1zM16 37h1v1h-1zM30 37h1v1h-1zM32 37h1v1h-1zM37 37h3v1h-3zM41 37h1v1h-1zM47 37h1v1h-1zM58 37h2v1h-2zM8 38h1v1h-1zM26 38h2v1h-2zM37 38h1v1h-1zM51 38h1v1h-1zM6 39h1v1h-1zM10 39h1v1h-1zM24 39h1v1h-1zM26 39h1v1h-1zM32 39h1v1h-1zM37 39h2v1h-2zM41 39h1v1h-1zM45 39h1v1h-1zM52 39h1v1h-1z"/><path fill="#5ef2a6" d="M10 0h1v1h-1zM16 0h1v1h-1zM35 0h2v1h-2zM39 0h1v1h-1zM46 0h1v1h-1zM49 0h1v1h-1zM51 0h1v1h-1zM54 0h1v1h-1zM56 0h1v1h-1zM58 0h1v1h-1zM61 0h1v1h-1zM63 0h1v1h-1zM0 1h1v1h-1zM18 1h2v1h-2zM26 1h1v1h-1zM6 2h1v1h-1zM8 2h1v1h-1zM18 2h1v1h-1zM20 2h1v1h-1zM32 2h1v1h-1zM38 2h1v1h-1zM48 2h1v1h-1zM53 2h1v1h-1zM59 2h1v1h-1zM51 3h1v1h-1zM31 4h1v1h-1zM7 5h1v1h-1zM26 6h1v1h-1zM58 7h2v1h-2zM4 9h1v1h-1zM42 10h1v1h-1zM27 12h1v1h-1zM31 12h1v1h-1zM26 14h1v1h-1zM40 14h1v1h-1zM59 14h1v1h-1zM5 17h1v1h-1zM29 17h1v1h-1zM42 17h1v1h-1zM2 18h1v1h-1zM24 18h1v1h-1zM40 18h1v1h-1zM59 18h1v1h-1zM4 19h1v1h-1zM13 19h1v1h-1zM17 19h1v1h-1zM23 19h1v1h-1zM25 19h2v1h-2zM28 19h1v1h-1zM38 19h1v1h-1zM40 19h2v1h-2zM43 19h1v1h-1zM48 19h1v1h-1zM52 19h2v1h-2zM60 19h1v1h-1zM6 20h3v1h-3zM17 20h2v1h-2zM24 20h1v1h-1zM28 20h1v1h-1zM36 20h1v1h-1zM38 20h1v1h-1zM41 20h1v1h-1zM43 20h1v1h-1zM46 20h1v1h-1zM49 20h1v1h-1zM54 20h1v1h-1zM63 20h1v1h-1zM4 21h1v1h-1zM6 21h1v1h-1zM10 21h1v1h-1zM18 21h1v1h-1zM23 21h1v1h-1zM37 21h2v1h-2zM46 21h1v1h-1zM50 21h1v1h-1zM55 21h1v1h-1zM0 22h1v1h-1zM6 22h1v1h-1zM9 22h1v1h-1zM16 22h2v1h-2zM20 22h1v1h-1zM27 22h2v1h-2zM49 22h1v1h-1zM57 22h1v1h-1zM60 22h1v1h-1zM8 23h1v1h-1zM10 23h1v1h-1zM13 23h1v1h-1zM19 23h1v1h-1zM24 23h1v1h-1zM26 23h1v1h-1zM36 23h1v1h-1zM39 23h1v1h-1zM44 23h1v1h-1zM6 24h2v1h-2zM9 24h1v1h-1zM17 24h1v1h-1zM31 24h1v1h-1zM39 24h1v1h-1zM41 24h1v1h-1zM4 25h1v1h-1zM10 25h1v1h-1zM36 25h2v1h-2zM51 25h1v1h-1zM58 25h1v1h-1zM0 26h1v1h-1zM9 26h1v1h-1zM17 26h1v1h-1zM33 26h1v1h-1zM35 26h1v1h-1zM45 26h1v1h-1zM50 26h1v1h-1zM56 26h1v1h-1zM9 27h1v1h-1zM33 27h1v1h-1zM38 27h1v1h-1zM42 27h2v1h-2zM48 27h2v1h-2zM52 27h1v1h-1zM55 27h1v1h-1zM0 28h1v1h-1zM5 28h1v1h-1zM16 28h4v1h-4zM23 28h1v1h-1zM35 28h1v1h-1zM48 28h1v1h-1zM0 29h1v1h-1zM8 29h1v1h-1zM10 29h1v1h-1zM17 29h1v1h-1zM28 29h1v1h-1zM48 29h2v1h-2zM53 29h1v1h-1zM0 30h1v1h-1zM8 30h1v1h-1zM10 30h1v1h-1zM14 30h1v1h-1zM19 30h1v1h-1zM36 30h1v1h-1zM49 30h4v1h-4zM54 30h2v1h-2zM28 31h1v1h-1zM31 31h1v1h-1zM39 31h1v1h-1zM47 31h1v1h-1zM53 31h1v1h-1zM0 32h2v1h-2zM24 32h1v1h-1zM26 32h2v1h-2zM54 32h1v1h-1zM0 33h1v1h-1zM5 33h1v1h-1zM8 33h3v1h-3zM14 33h1v1h-1zM16 33h2v1h-2zM30 33h1v1h-1zM35 33h2v1h-2zM56 33h1v1h-1zM59 33h1v1h-1zM63 33h1v1h-1zM7 34h1v1h-1zM16 34h1v1h-1zM23 34h1v1h-1zM33 34h1v1h-1zM37 34h2v1h-2zM40 34h1v1h-1zM44 34h4v1h-4zM53 34h1v1h-1zM6 35h1v1h-1zM10 35h1v1h-1zM18 35h1v1h-1zM26 35h1v1h-1zM37 35h1v1h-1zM39 35h1v1h-1zM42 35h1v1h-1zM48 35h1v1h-1zM51 35h1v1h-1zM55 35h1v1h-1zM59 35h3v1h-3zM35 36h1v1h-1zM38 36h1v1h-1zM45 36h3v1h-3zM53 36h1v1h-1zM59 36h1v1h-1zM62 36h2v1h-2zM5 37h3v1h-3zM9 37h1v1h-1zM17 37h1v1h-1zM25 37h1v1h-1zM27 37h1v1h-1zM29 37h1v1h-1zM43 37h1v1h-1zM46 37h1v1h-1zM52 37h3v1h-3zM62 37h1v1h-1zM36 38h1v1h-1zM42 38h1v1h-1zM45 38h1v1h-1zM47 38h3v1h-3zM58 38h1v1h-1zM0 39h2v1h-2zM5 39h1v1h-1zM8 39h2v1h-2zM16 39h1v1h-1zM31 39h1v1h-1zM40 39h1v1h-1zM60 39h1v1h-1z"/><path fill="#62f5d4" d="M11 0h1v1h-1zM11 2h1v1h-1zM17 5h1v1h-1zM11 8h1v1h-1zM17 9h1v1h-1zM11 10h1v1h-1zM17 10h1v1h-1zM11 11h1v1h-1zM11 13h1v1h-1zM17 13h1v1h-1zM11 14h1v1h-1zM17 17h1v1h-1zM11 24h1v1h-1zM11 25h1v1h-1zM11 27h1v1h-1zM11 34h1v1h-1zM11 35h1v1h-1z"/><path fill="#16f2ee" d="M12 0h1v1h-1zM19 0h1v1h-1zM29 0h1v1h-1zM55 0h1v1h-1zM1 1h1v1h-1zM23 1h1v1h-1zM29 1h1v1h-1zM43 1h1v1h-1zM57 1h1v1h-1zM16 2h1v1h-1zM39 2h1v1h-1zM7 3h1v1h-1zM10 3h1v1h-1zM19 3h2v1h-2zM28 3h2v1h-2zM32 3h1v1h-1zM37 3h1v1h-1zM39 3h1v1h-1zM49 3h1v1h-1zM54 3h1v1h-1zM56 3h1v1h-1zM0 4h1v1h-1zM4 4h1v1h-1zM6 4h2v1h-2zM24 4h1v1h-1zM28 4h1v1h-1zM37 4h2v1h-2zM43 4h1v1h-1zM45 4h3v1h-3zM54 4h1v1h-1zM56 4h2v1h-2zM62 4h1v1h-1zM0 5h1v1h-1zM6 5h1v1h-1zM18 5h1v1h-1zM23 5h1v1h-1zM39 5h1v1h-1zM53 5h1v1h-1zM61 5h1v1h-1zM10 6h1v1h-1zM23 6h1v1h-1zM33 6h1v1h-1zM37 6h1v1h-1zM40 6h1v1h-1zM43 6h1v1h-1zM47 6h1v1h-1zM49 6h3v1h-3zM59 6h1v1h-1zM4 7h1v1h-1zM7 7h1v1h-1zM29 7h1v1h-1zM40 7h1v1h-1zM44 7h1v1h-1zM0 8h1v1h-1zM6 8h1v1h-1zM8 8h1v1h-1zM10 8h1v1h-1zM13 8h1v1h-1zM16 8h1v1h-1zM24 8h1v1h-1zM28 8h1v1h-1zM43 8h1v1h-1zM46 8h1v1h-1zM48 8h2v1h-2zM56 8h1v1h-1zM2 9h1v1h-1zM6 9h1v1h-1zM16 9h1v1h-1zM33 9h1v1h-1zM35 9h1v1h-1zM52 9h2v1h-2zM56 9h1v1h-1zM58 9h1v1h-1zM61 9h1v1h-1zM63 9h1v1h-1zM5 10h1v1h-1zM12 10h1v1h-1zM39 10h1v1h-1zM59 10h1v1h-1zM5 11h2v1h-2zM10 11h1v1h-1zM20 11h1v1h-1zM59 11h1v1h-1zM63 11h1v1h-1zM10 12h1v1h-1zM25 12h1v1h-1zM28 12h2v1h-2zM35 12h1v1h-1zM53 12h1v1h-1zM55 12h1v1h-1zM58 12h2v1h-2zM63 12h1v1h-1zM18 13h1v1h-1zM47 13h1v1h-1zM63 13h1v1h-1zM9 14h2v1h-2zM13 14h1v1h-1zM28 14h4v1h-4zM33 14h1v1h-1zM36 14h3v1h-3zM44 14h2v1h-2zM47 14h1v1h-1zM56 14h1v1h-1zM8 15h1v1h-1zM33 15h1v1h-1zM47 15h1v1h-1zM49 15h1v1h-1zM55 15h1v1h-1zM58 15h2v1h-2zM5 16h1v1h-1zM16 16h1v1h-1zM25 16h1v1h-1zM40 16h1v1h-1zM61 16h1v1h-1zM1 17h1v1h-1zM9 17h1v1h-1zM16 17h1v1h-1zM19 17h1v1h-1zM23 17h1v1h-1zM33 17h1v1h-1zM39 17h1v1h-1zM50 17h1v1h-1zM57 17h1v1h-1zM4 18h1v1h-1zM16 18h1v1h-1zM29 18h2v1h-2zM35 18h1v1h-1zM46 18h1v1h-1zM50 18h1v1h-1zM52 18h1v1h-1zM58 18h1v1h-1zM60 18h1v1h-1zM62 18h1v1h-1zM6 19h1v1h-1zM44 19h1v1h-1zM62 19h1v1h-1zM39 21h1v1h-1zM60 21h1v1h-1zM23 23h1v1h-1zM29 23h1v1h-1zM54 23h1v1h-1zM62 23h1v1h-1zM14 24h1v1h-1zM19 27h1v1h-1zM25 28h1v1h-1zM4 29h1v1h-1zM12 29h1v1h-1zM32 29h1v1h-1zM41 29h1v1h-1zM44 29h1v1h-1zM50 29h1v1h-1zM62 29h1v1h-1zM32 30h1v1h-1zM38 30h1v1h-1zM57 30h1v1h-1zM6 31h1v1h-1zM12 31h1v1h-1zM23 31h1v1h-1zM32 31h1v1h-1zM49 31h1v1h-1zM13 32h1v1h-1zM29 32h1v1h-1zM46 32h1v1h-1zM57 32h1v1h-1zM60 32h2v1h-2zM12 34h1v1h-1zM25 34h1v1h-1zM36 34h1v1h-1zM48 34h1v1h-1zM50 34h1v1h-1zM54 34h1v1h-1zM60 34h1v1h-1zM24 35h1v1h-1zM52 35h1v1h-1zM62 35h1v1h-1zM12 36h1v1h-1zM28 36h1v1h-1zM30 36h1v1h-1zM36 37h1v1h-1zM7 38h1v1h-1zM52 38h1v1h-1zM19 39h1v1h-1zM39 39h1v1h-1zM46 39h1v1h-1z"/><path fill="#b8f24c" d="M14 0h1v1h-1zM21 1h1v1h-1zM15 2h1v1h-1zM14 3h2v1h-2zM22 3h1v1h-1zM34 3h1v1h-1zM21 4h1v1h-1zM34 4h1v1h-1zM15 5h1v1h-1zM15 6h1v1h-1zM22 6h1v1h-1zM14 7h1v1h-1zM22 7h1v1h-1zM34 7h1v1h-1zM21 8h1v1h-1zM34 11h1v1h-1zM14 12h2v1h-2zM22 12h1v1h-1zM34 12h1v1h-1zM21 13h1v1h-1zM34 13h1v1h-1zM15 14h1v1h-1zM22 14h1v1h-1zM15 16h1v1h-1zM14 17h1v1h-1zM14 18h1v1h-1zM0 21h1v1h-1zM21 21h1v1h-1zM51 21h1v1h-1zM22 23h1v1h-1zM53 23h1v1h-1zM42 24h1v1h-1zM41 27h1v1h-1zM2 29h1v1h-1zM42 30h1v1h-1zM31 32h1v1h-1zM31 34h1v1h-1zM4 35h1v1h-1zM31 35h1v1h-1zM2 37h1v1h-1zM33 37h2v1h-2zM2 38h1v1h-1z"/><path fill="#dcf228" d="M15 0h1v1h-1zM22 0h1v1h-1zM22 2h1v1h-1zM21 3h1v1h-1zM14 5h1v1h-1zM22 5h1v1h-1zM34 5h1v1h-1zM21 6h1v1h-1zM14 9h1v1h-1zM14 11h1v1h-1zM21 11h1v1h-1zM15 15h1v1h-1zM22 15h1v1h-1zM21 16h2v1h-2zM15 18h1v1h-1zM14 20h2v1h-2zM21 20h1v1h-1zM58 21h1v1h-1zM15 22h1v1h-1zM22 22h1v1h-1zM21 23h1v1h-1zM2 26h1v1h-1zM34 34h1v1h-1zM21 35h2v1h-2zM34 35h1v1h-1zM21 36h1v1h-1zM14 38h1v1h-1zM22 38h1v1h-1zM34 38h1v1h-1zM14 39h2v1h-2z"/><path fill="#70f5c6" d="M17 0h1v1h-1zM11 1h1v1h-1zM17 1h1v1h-1zM17 2h1v1h-1zM17 4h1v1h-1zM11 9h1v1h-1zM11 15h1v1h-1zM11 17h1v1h-1zM11 18h1v1h-1zM11 19h1v1h-1zM11 21h1v1h-1zM11 26h1v1h-1zM11 30h1v1h-1zM11 31h1v1h-1zM11 37h1v1h-1zM11 38h1v1h-1zM11 39h1v1h-1z"/><path fill="#caf23a" d="M21 0h1v1h-1zM15 1h1v1h-1zM22 1h1v1h-1zM14 2h1v1h-1zM21 2h1v1h-1zM14 4h1v1h-1zM21 5h1v1h-1zM14 6h1v1h-1zM21 7h1v1h-1zM22 8h1v1h-1zM15 9h1v1h-1zM21 9h2v1h-2zM34 9h1v1h-1zM14 10h1v1h-1zM21 10h1v1h-1zM22 11h1v1h-1zM21 12h1v1h-1zM22 13h1v1h-1zM14 14h1v1h-1zM21 15h1v1h-1zM14 16h1v1h-1zM15 17h1v1h-1zM21 17h2v1h-2zM21 18h2v1h-2zM22 20h1v1h-1zM33 20h1v1h-1zM15 21h1v1h-1zM22 21h1v1h-1zM14 22h1v1h-1zM21 22h1v1h-1zM15 23h1v1h-1zM2 27h1v1h-1zM2 32h1v1h-1zM22 36h1v1h-1zM34 36h1v1h-1zM21 37h1v1h-1zM21 39h1v1h-1z"/><path fill="#eef216" d="M34 0h1v1h-1zM15 4h1v1h-1zM22 4h1v1h-1zM22 10h1v1h-1zM21 14h1v1h-1zM15 19h1v1h-1zM21 19h1v1h-1zM14 21h1v1h-1zM15 37h1v1h-1zM21 38h1v1h-1zM22 39h1v1h-1z"/><path fill="#58f4d2" d="M41 0h1v1h-1zM41 4h1v1h-1zM41 5h1v1h-1zM41 6h1v1h-1zM41 10h1v1h-1zM41 12h1v1h-1zM41 14h1v1h-1zM41 15h1v1h-1zM41 16h1v1h-1zM41 18h1v1h-1z"/><path fill="#82f282" d="M42 0h1v1h-1zM31 1h1v1h-1zM61 1h1v1h-1zM19 2h1v1h-1zM24 2h1v1h-1zM26 2h1v1h-1zM51 2h1v1h-1zM26 3h1v1h-1zM53 3h1v1h-1zM59 3h1v1h-1zM26 4h1v1h-1zM27 5h1v1h-1zM58 5h1v1h-1zM58 6h1v1h-1zM26 7h1v1h-1zM26 10h2v1h-2zM15 11h1v1h-1zM27 11h1v1h-1zM27 14h1v1h-1zM26 15h2v1h-2zM27 16h1v1h-1zM26 17h1v1h-1zM42 18h1v1h-1zM53 18h1v1h-1zM2 19h1v1h-1zM27 19h1v1h-1zM37 19h1v1h-1zM61 19h1v1h-1zM63 19h1v1h-1zM1 20h1v1h-1zM9 20h1v1h-1zM40 20h1v1h-1zM48 20h1v1h-1zM55 20h2v1h-2zM58 20h1v1h-1zM60 20h1v1h-1zM20 21h1v1h-1zM26 21h2v1h-2zM35 21h2v1h-2zM41 21h3v1h-3zM45 21h1v1h-1zM47 21h1v1h-1zM56 21h1v1h-1zM2 22h1v1h-1zM5 22h1v1h-1zM10 22h1v1h-1zM24 22h1v1h-1zM31 22h1v1h-1zM38 22h1v1h-1zM54 22h1v1h-1zM61 22h1v1h-1zM9 23h1v1h-1zM27 23h1v1h-1zM30 23h2v1h-2zM35 23h1v1h-1zM38 23h1v1h-1zM48 23h1v1h-1zM63 23h1v1h-1zM33 24h1v1h-1zM49 24h1v1h-1zM51 24h1v1h-1zM58 24h1v1h-1zM63 24h1v1h-1zM2 25h1v1h-1zM27 25h1v1h-1zM59 25h1v1h-1zM4 26h1v1h-1zM6 26h1v1h-1zM12 26h1v1h-1zM16 26h1v1h-1zM18 26h1v1h-1zM24 26h1v1h-1zM28 26h2v1h-2zM37 26h1v1h-1zM48 26h1v1h-1zM52 26h1v1h-1zM54 26h1v1h-1zM61 26h1v1h-1zM4 27h2v1h-2zM20 27h1v1h-1zM26 27h1v1h-1zM31 27h1v1h-1zM53 27h1v1h-1zM26 28h2v1h-2zM31 28h1v1h-1zM33 28h1v1h-1zM37 28h1v1h-1zM40 28h1v1h-1zM59 28h1v1h-1zM1 29h1v1h-1zM26 29h2v1h-2zM63 29h1v1h-1zM26 30h1v1h-1zM28 30h1v1h-1zM59 30h1v1h-1zM13 31h1v1h-1zM16 31h1v1h-1zM37 31h1v1h-1zM43 31h1v1h-1zM51 31h1v1h-1zM55 31h2v1h-2zM59 31h1v1h-1zM63 31h1v1h-1zM8 32h1v1h-1zM33 32h1v1h-1zM36 32h1v1h-1zM42 32h1v1h-1zM47 32h1v1h-1zM52 32h1v1h-1zM59 32h1v1h-1zM18 33h1v1h-1zM20 33h1v1h-1zM24 33h1v1h-1zM27 33h2v1h-2zM31 33h2v1h-2zM40 33h2v1h-2zM52 33h1v1h-1zM61 33h1v1h-1zM4 34h1v1h-1zM24 34h1v1h-1zM42 34h1v1h-1zM63 34h1v1h-1zM14 35h1v1h-1zM25 35h1v1h-1zM4 37h1v1h-1zM10 37h1v1h-1zM26 37h1v1h-1zM31 37h1v1h-1zM18 38h1v1h-1zM63 38h1v1h-1zM27 39h1v1h-1zM33 39h1v1h-1zM42 39h1v1h-1zM53 39h1v1h-1zM57 39h1v1h-1zM61 39h1v1h-1z"/><path fill="#8ff48f" d="M3 1h1v1h-1zM3 2h1v1h-1zM3 23h1v1h-1zM3 38h1v1h-1zM3 39h1v1h-1z"/><path fill="#12e5f2" d="M10 1h1v1h-1zM12 1h2v1h-2zM30 1h1v1h-1zM60 1h1v1h-1zM56 2h1v1h-1zM4 3h1v1h-1zM6 3h1v1h-1zM13 3h1v1h-1zM8 4h2v1h-2zM29 4h2v1h-2zM39 4h2v1h-2zM44 4h1v1h-1zM55 4h1v1h-1zM61 4h1v1h-1zM9 5h1v1h-1zM19 5h2v1h-2zM25 5h1v1h-1zM30 5h1v1h-1zM32 5h1v1h-1zM35 5h1v1h-1zM37 5h1v1h-1zM44 5h2v1h-2zM50 5h1v1h-1zM52 5h1v1h-1zM54 5h1v1h-1zM57 5h1v1h-1zM5 6h2v1h-2zM13 6h1v1h-1zM24 6h1v1h-1zM28 6h1v1h-1zM38 6h1v1h-1zM52 6h1v1h-1zM1 7h1v1h-1zM8 7h2v1h-2zM12 7h1v1h-1zM19 7h1v1h-1zM23 7h1v1h-1zM32 7h1v1h-1zM36 7h1v1h-1zM50 7h2v1h-2zM1 8h1v1h-1zM4 8h1v1h-1zM18 8h1v1h-1zM25 8h1v1h-1zM31 8h1v1h-1zM35 8h1v1h-1zM37 8h2v1h-2zM50 8h1v1h-1zM54 8h2v1h-2zM7 9h1v1h-1zM9 9h1v1h-1zM36 9h1v1h-1zM44 9h1v1h-1zM51 9h1v1h-1zM62 9h1v1h-1zM6 10h1v1h-1zM16 10h1v1h-1zM19 10h1v1h-1zM25 10h1v1h-1zM29 10h2v1h-2zM37 10h1v1h-1zM43 10h1v1h-1zM46 10h3v1h-3zM53 10h1v1h-1zM56 10h2v1h-2zM1 11h1v1h-1zM32 11h1v1h-1zM38 11h3v1h-3zM43 11h1v1h-1zM45 11h1v1h-1zM48 11h1v1h-1zM53 11h3v1h-3zM57 11h1v1h-1zM1 12h1v1h-1zM8 12h1v1h-1zM16 12h1v1h-1zM23 12h2v1h-2zM36 12h1v1h-1zM46 12h1v1h-1zM48 12h1v1h-1zM51 12h2v1h-2zM61 12h1v1h-1zM1 13h1v1h-1zM4 13h2v1h-2zM36 13h2v1h-2zM39 13h1v1h-1zM55 13h1v1h-1zM6 14h1v1h-1zM8 14h1v1h-1zM25 14h1v1h-1zM49 14h1v1h-1zM54 14h2v1h-2zM58 14h1v1h-1zM60 14h1v1h-1zM0 15h2v1h-2zM9 15h2v1h-2zM13 15h1v1h-1zM45 15h2v1h-2zM50 15h1v1h-1zM62 15h2v1h-2zM0 16h1v1h-1zM4 16h1v1h-1zM6 16h2v1h-2zM9 16h2v1h-2zM13 16h1v1h-1zM23 16h1v1h-1zM29 16h1v1h-1zM43 16h1v1h-1zM53 16h1v1h-1zM60 16h1v1h-1zM25 17h1v1h-1zM28 17h1v1h-1zM32 17h1v1h-1zM38 17h1v1h-1zM45 17h1v1h-1zM12 18h2v1h-2zM19 18h1v1h-1zM23 18h1v1h-1zM32 18h1v1h-1zM45 18h1v1h-1zM54 18h1v1h-1zM54 19h1v1h-1zM46 22h1v1h-1zM17 23h1v1h-1zM25 25h1v1h-1zM45 28h1v1h-1zM56 28h1v1h-1zM7 30h1v1h-1zM12 30h1v1h-1zM44 30h1v1h-1zM19 31h1v1h-1zM38 31h1v1h-1zM9 32h1v1h-1zM12 32h1v1h-1zM38 32h1v1h-1zM30 34h1v1h-1zM62 34h1v1h-1zM20 35h1v1h-1zM23 35h1v1h-1zM16 36h1v1h-1zM35 37h1v1h-1zM5 38h1v1h-1zM23 38h1v1h-1zM28 38h1v1h-1zM56 38h1v1h-1zM61 38h1v1h-1zM7 39h1v1h-1zM23 39h1v1h-1zM54 39h1v1h-1z"/><path fill="#a6f25e" d="M14 1h1v1h-1zM34 1h1v1h-1zM25 2h1v1h-1zM27 3h1v1h-1zM15 7h1v1h-1zM14 8h1v1h-1zM34 8h1v1h-1zM15 10h1v1h-1zM34 10h1v1h-1zM14 13h2v1h-2zM34 14h1v1h-1zM34 15h1v1h-1zM22 19h1v1h-1zM42 19h1v1h-1zM5 20h1v1h-1zM53 20h1v1h-1zM5 21h1v1h-1zM31 21h1v1h-1zM63 21h1v1h-1zM1 22h1v1h-1zM26 22h1v1h-1zM36 22h1v1h-1zM42 22h1v1h-1zM58 23h2v1h-2zM0 24h1v1h-1zM59 24h1v1h-1zM24 25h1v1h-1zM20 26h1v1h-1zM23 26h1v1h-1zM58 27h1v1h-1zM52 28h1v1h-1zM61 28h1v1h-1zM2 30h1v1h-1zM41 32h1v1h-1zM33 33h1v1h-1zM26 34h1v1h-1zM2 35h1v1h-1zM2 36h1v1h-1zM10 36h1v1h-1zM31 36h1v1h-1zM33 36h1v1h-1zM51 36h1v1h-1zM58 39h2v1h-2z"/><path fill="#12aff2" d="M39 1h1v1h-1zM54 1h1v1h-1zM46 3h1v1h-1zM13 5h1v1h-1zM62 5h1v1h-1zM0 6h1v1h-1zM7 6h1v1h-1zM9 6h1v1h-1zM12 6h1v1h-1zM16 6h1v1h-1zM20 6h1v1h-1zM30 6h1v1h-1zM6 7h1v1h-1zM39 7h1v1h-1zM53 7h1v1h-1zM20 8h1v1h-1zM32 8h1v1h-1zM36 8h1v1h-1zM39 8h1v1h-1zM53 8h1v1h-1zM1 9h1v1h-1zM13 9h1v1h-1zM20 9h1v1h-1zM45 9h1v1h-1zM50 9h1v1h-1zM28 10h1v1h-1zM32 10h1v1h-1zM35 10h1v1h-1zM38 10h1v1h-1zM54 10h1v1h-1zM60 10h1v1h-1zM46 11h1v1h-1zM6 12h1v1h-1zM32 12h1v1h-1zM38 12h1v1h-1zM44 12h2v1h-2zM30 13h1v1h-1zM32 13h1v1h-1zM46 13h1v1h-1zM12 14h1v1h-1zM18 14h1v1h-1zM35 14h1v1h-1zM16 15h1v1h-1zM20 15h1v1h-1zM29 15h2v1h-2zM35 15h1v1h-1zM39 15h1v1h-1zM53 15h1v1h-1zM56 15h1v1h-1zM61 15h1v1h-1zM36 16h1v1h-1zM38 16h1v1h-1zM50 16h1v1h-1zM52 16h1v1h-1zM55 16h1v1h-1zM62 16h1v1h-1zM30 25h1v1h-1z"/><path fill="#67f4c3" d="M41 1h1v1h-1zM41 2h1v1h-1z"/><path fill="#12c1f2" d="M44 1h1v1h-1zM12 4h1v1h-1zM32 4h1v1h-1zM35 4h1v1h-1zM16 5h1v1h-1zM29 5h1v1h-1zM49 5h1v1h-1zM36 6h1v1h-1zM48 6h1v1h-1zM55 6h1v1h-1zM62 6h1v1h-1zM0 7h1v1h-1zM25 7h1v1h-1zM46 7h1v1h-1zM54 7h1v1h-1zM60 7h1v1h-1zM62 7h2v1h-2zM12 8h1v1h-1zM19 8h1v1h-1zM23 8h1v1h-1zM45 8h1v1h-1zM61 8h2v1h-2zM0 9h1v1h-1zM18 9h2v1h-2zM29 9h1v1h-1zM47 9h1v1h-1zM57 9h1v1h-1zM1 10h1v1h-1zM9 10h1v1h-1zM44 10h1v1h-1zM50 10h1v1h-1zM62 10h1v1h-1zM12 11h2v1h-2zM19 11h1v1h-1zM23 11h1v1h-1zM25 11h1v1h-1zM36 11h1v1h-1zM50 11h1v1h-1zM62 11h1v1h-1zM12 12h1v1h-1zM19 12h2v1h-2zM39 12h1v1h-1zM50 12h1v1h-1zM56 12h2v1h-2zM8 13h1v1h-1zM29 13h1v1h-1zM45 13h1v1h-1zM49 13h1v1h-1zM7 14h1v1h-1zM39 14h1v1h-1zM62 14h1v1h-1zM4 15h1v1h-1zM7 15h1v1h-1zM23 15h1v1h-1zM25 15h1v1h-1zM52 15h1v1h-1zM54 15h1v1h-1zM60 15h1v1h-1zM12 16h1v1h-1zM19 16h1v1h-1zM35 16h1v1h-1zM37 16h1v1h-1zM39 16h1v1h-1zM44 16h2v1h-2zM49 16h1v1h-1zM28 18h1v1h-1z"/><path fill="#12d3f2" d="M49 1h1v1h-1zM50 3h1v1h-1zM16 4h1v1h-1zM19 4h1v1h-1zM23 4h1v1h-1zM49 4h2v1h-2zM52 4h2v1h-2zM12 5h1v1h-1zM28 5h1v1h-1zM46 5h1v1h-1zM4 6h1v1h-1zM18 6h1v1h-1zM29 6h1v1h-1zM32 6h1v1h-1zM39 6h1v1h-1zM44 6h2v1h-2zM54 6h1v1h-1zM13 7h1v1h-1zM16 7h1v1h-1zM30 7h1v1h-1zM38 7h1v1h-1zM45 7h1v1h-1zM52 7h1v1h-1zM57 7h1v1h-1zM61 7h1v1h-1zM5 8h1v1h-1zM7 8h1v1h-1zM9 8h1v1h-1zM44 8h1v1h-1zM47 8h1v1h-1zM52 8h1v1h-1zM60 8h1v1h-1zM5 9h1v1h-1zM8 9h1v1h-1zM28 9h1v1h-1zM32 9h1v1h-1zM39 9h1v1h-1zM46 9h1v1h-1zM49 9h1v1h-1zM54 9h2v1h-2zM20 10h1v1h-1zM23 10h1v1h-1zM49 10h1v1h-1zM51 10h2v1h-2zM0 11h1v1h-1zM4 11h1v1h-1zM16 11h1v1h-1zM28 11h3v1h-3zM35 11h1v1h-1zM44 11h1v1h-1zM49 11h1v1h-1zM0 12h1v1h-1zM5 12h1v1h-1zM13 12h1v1h-1zM18 12h1v1h-1zM40 12h1v1h-1zM43 12h1v1h-1zM49 12h1v1h-1zM60 12h1v1h-1zM0 13h1v1h-1zM7 13h1v1h-1zM9 13h2v1h-2zM12 13h1v1h-1zM16 13h1v1h-1zM20 13h1v1h-1zM23 13h2v1h-2zM33 13h1v1h-1zM35 13h1v1h-1zM38 13h1v1h-1zM42 13h1v1h-1zM52 13h1v1h-1zM56 13h2v1h-2zM60 13h1v1h-1zM0 14h1v1h-1zM23 14h1v1h-1zM32 14h1v1h-1zM46 14h1v1h-1zM48 14h1v1h-1zM50 14h1v1h-1zM52 14h1v1h-1zM5 15h1v1h-1zM19 15h1v1h-1zM28 15h1v1h-1zM38 15h1v1h-1zM43 15h2v1h-2zM57 15h1v1h-1zM20 16h1v1h-1zM30 16h1v1h-1zM32 16h1v1h-1zM48 16h1v1h-1zM51 16h1v1h-1zM57 16h1v1h-1zM54 17h1v1h-1zM62 17h1v1h-1zM25 18h1v1h-1zM56 18h2v1h-2zM61 18h1v1h-1zM44 25h1v1h-1zM29 31h1v1h-1zM6 34h1v1h-1zM12 35h1v1h-1z"/><path fill="#6ef4af" d="M3 3h1v1h-1zM3 8h1v1h-1z"/><path fill="#45f5f1" d="M11 3h1v1h-1zM11 12h1v1h-1zM17 12h1v1h-1zM17 14h1v1h-1zM11 22h1v1h-1z"/><path fill="#53f5e3" d="M17 3h1v1h-1zM11 4h1v1h-1zM11 5h1v1h-1zM11 6h1v1h-1zM11 7h1v1h-1zM17 7h1v1h-1zM17 8h1v1h-1zM17 15h1v1h-1zM11 16h1v1h-1zM17 16h1v1h-1zM11 29h1v1h-1zM11 33h1v1h-1zM11 36h1v1h-1z"/><path fill="#76f4b3" d="M41 3h1v1h-1zM41 8h1v1h-1zM41 13h1v1h-1zM41 17h1v1h-1z"/><path fill="#3ef4df" d="M3 4h1v1h-1zM3 12h1v1h-1z"/><path fill="#5ef4bf" d="M3 5h1v1h-1zM3 6h1v1h-1zM3 10h1v1h-1zM3 13h1v1h-1zM3 15h1v1h-1z"/><path fill="#1267f2" d="M1 6h1v1h-1z"/><path fill="#41eaf5" d="M17 6h1v1h-1zM11 28h1v1h-1z"/><path fill="#129df2" d="M19 6h1v1h-1zM57 6h1v1h-1zM60 6h1v1h-1zM20 7h1v1h-1zM57 8h1v1h-1zM12 9h1v1h-1zM23 9h1v1h-1zM25 9h1v1h-1zM43 9h1v1h-1zM60 9h1v1h-1zM54 12h1v1h-1zM19 13h1v1h-1zM28 13h1v1h-1zM53 13h1v1h-1zM20 14h1v1h-1zM57 14h1v1h-1zM36 15h1v1h-1zM46 16h1v1h-1zM54 16h1v1h-1z"/><path fill="#1279f2" d="M46 6h1v1h-1z"/><path fill="#128bf2" d="M53 6h1v1h-1zM29 8h1v1h-1zM38 9h1v1h-1zM13 10h1v1h-1zM6 13h1v1h-1zM13 13h1v1h-1zM44 13h1v1h-1zM50 13h1v1h-1zM62 13h1v1h-1zM12 15h1v1h-1zM1 16h1v1h-1z"/><path fill="#7ef49f" d="M3 7h1v1h-1zM3 14h1v1h-1zM3 16h1v1h-1zM3 17h1v1h-1zM3 18h1v1h-1zM3 28h1v1h-1zM3 34h1v1h-1z"/><path fill="#48f4e1" d="M41 7h1v1h-1zM41 9h1v1h-1zM41 11h1v1h-1z"/><path fill="#2ae7f4" d="M3 9h1v1h-1z"/><path fill="#4ef4cf" d="M3 11h1v1h-1z"/><path fill="#7ef5b8" d="M17 11h1v1h-1zM17 18h1v1h-1zM11 20h1v1h-1zM11 23h1v1h-1zM11 32h1v1h-1z"/><path fill="#f2c112" d="M34 16h1v1h-1zM21 24h1v1h-1zM22 25h1v1h-1zM21 26h1v1h-1zM21 28h2v1h-2zM22 30h1v1h-1zM15 32h1v1h-1zM15 38h1v1h-1z"/><path fill="#f2af12" d="M34 17h1v1h-1zM34 21h1v1h-1zM15 27h1v1h-1zM15 29h1v1h-1zM21 29h1v1h-1zM21 30h1v1h-1zM15 31h1v1h-1zM21 31h2v1h-2zM34 31h1v1h-1zM22 32h1v1h-1zM15 33h1v1h-1zM15 36h1v1h-1z"/><path fill="#f29d12" d="M34 18h1v1h-1zM15 24h1v1h-1zM15 25h1v1h-1zM34 26h1v1h-1zM34 28h1v1h-1zM22 29h1v1h-1zM34 29h1v1h-1zM34 30h1v1h-1zM21 33h2v1h-2zM15 34h1v1h-1zM15 35h1v1h-1z"/><path fill="#f2e512" d="M14 19h1v1h-1zM14 23h1v1h-1zM22 34h1v1h-1zM14 37h1v1h-1zM22 37h1v1h-1zM34 39h1v1h-1z"/><path fill="#f26712" d="M34 19h1v1h-1zM34 32h1v1h-1z"/><path fill="#f27912" d="M34 20h1v1h-1zM15 26h1v1h-1zM34 27h1v1h-1zM21 32h1v1h-1z"/><path fill="#bff45e" d="M3 21h1v1h-1zM3 24h1v1h-1zM3 29h1v1h-1z"/><path fill="#aff46e" d="M3 22h1v1h-1zM3 27h1v1h-1zM3 30h1v1h-1zM3 33h1v1h-1zM3 35h1v1h-1zM3 36h1v1h-1z"/><path fill="#f28b12" d="M34 22h1v1h-1zM34 23h1v1h-1zM34 24h1v1h-1zM34 25h1v1h-1zM22 26h1v1h-1zM15 28h1v1h-1zM15 30h1v1h-1zM34 33h1v1h-1z"/><path fill="#f2d312" d="M22 24h1v1h-1zM21 25h1v1h-1zM21 27h2v1h-2zM21 34h1v1h-1z"/><path fill="#cff44e" d="M3 26h1v1h-1zM3 31h1v1h-1z"/></g></g><g filter="url(#lblur)"><rect x="94.3" y="496.2" width="294.2" height="1.8" fill="#b8f24c" opacity="0.7"/><rect x="94.3" y="502.0" width="294.2" height="1.0" fill="#505a28" opacity="0.7"/><rect x="94.3" y="503.0" width="294.2" height="1.6" fill="#caf23a" opacity="0.6"/><rect x="94.3" y="458.8" width="294.2" height="1.0" fill="#53f5e3" opacity="0.6"/></g></g><rect x="94.3" y="447" width="294.2" height="97.5" fill="none" stroke="#222" stroke-width="1.1"/><path d="M144.9 544.5v-3M144.9 447v3M222.5 544.5v-3M222.5 447v3M301.2 544.5v-3M301.2 447v3M380.3 544.5v-3M380.3 447v3M94.3 461.4h3M388.5 461.4h-3M94.3 503.5h3M388.5 503.5h-3" stroke="#222" stroke-width="1"/><ellipse cx="218" cy="497.3" rx="4.8" ry="49.1" fill="none" stroke="#d42a18" stroke-width="2.0"/><linearGradient id="cb2" x1="0" y1="0" x2="0" y2="1"><stop offset="0.000" stop-color="#800505"/><stop offset="0.062" stop-color="#bd0505"/><stop offset="0.125" stop-color="#fa0505"/><stop offset="0.188" stop-color="#fa4205"/><stop offset="0.250" stop-color="#fa8005"/><stop offset="0.312" stop-color="#fabd05"/><stop offset="0.375" stop-color="#fafa05"/><stop offset="0.438" stop-color="#bdfa42"/><stop offset="0.500" stop-color="#80fa80"/><stop offset="0.562" stop-color="#42fabd"/><stop offset="0.625" stop-color="#05fafa"/><stop offset="0.688" stop-color="#05bdfa"/><stop offset="0.750" stop-color="#0580fa"/><stop offset="0.812" stop-color="#0542fa"/><stop offset="0.875" stop-color="#0505fa"/><stop offset="0.938" stop-color="#0505bd"/><stop offset="1.000" stop-color="#050580"/></linearGradient><rect x="405.5" y="447" width="21.0" height="97.5" fill="url(#cb2)" stroke="#1a1a1a" stroke-width="1"/><clipPath id="c3"><rect x="604" y="266.8" width="295.7" height="104.2"/></clipPath><filter id="f3" x="0" y="0" width="1" height="1"><feGaussianBlur stdDeviation="0.9" edgeMode="duplicate"/></filter><g clip-path="url(#c3)"><g filter="url(#f3)"><rect x="604" y="266.8" width="295.7" height="104.2" fill="#3af2ca"/><g transform="translate(604 266.8) scale(7 2.2)"><path fill="#4cf2b8" d="M0 0h1v1h-1zM11 0h1v1h-1zM24 0h1v1h-1zM28 0h1v1h-1zM34 0h2v1h-2zM41 0h1v1h-1zM41 2h1v1h-1zM8 3h1v1h-1zM13 3h2v1h-2zM24 3h2v1h-2zM28 3h2v1h-2zM32 3h1v1h-1zM41 3h1v1h-1zM8 4h1v1h-1zM12 4h1v1h-1zM17 4h1v1h-1zM42 4h1v1h-1zM6 6h1v1h-1zM13 6h1v1h-1zM18 6h1v1h-1zM25 6h2v1h-2zM30 6h2v1h-2zM33 6h1v1h-1zM42 6h1v1h-1zM1 8h1v1h-1zM26 8h1v1h-1zM14 10h1v1h-1zM35 10h1v1h-1zM37 10h1v1h-1zM12 12h1v1h-1zM35 12h1v1h-1zM38 12h1v1h-1zM15 13h1v1h-1zM19 13h1v1h-1zM32 13h1v1h-1zM36 13h1v1h-1zM38 13h1v1h-1zM6 14h1v1h-1zM8 14h1v1h-1zM11 14h1v1h-1zM19 14h1v1h-1zM23 14h1v1h-1zM25 14h1v1h-1zM36 14h1v1h-1zM24 15h1v1h-1zM0 17h1v1h-1zM2 17h1v1h-1zM6 17h1v1h-1zM9 17h1v1h-1zM11 17h1v1h-1zM13 17h1v1h-1zM42 17h1v1h-1zM2 19h1v1h-1zM4 19h1v1h-1zM6 19h1v1h-1zM15 19h1v1h-1zM37 19h1v1h-1zM39 19h1v1h-1zM2 20h1v1h-1zM6 20h1v1h-1zM13 20h2v1h-2zM23 20h2v1h-2zM27 20h1v1h-1zM34 20h1v1h-1zM37 20h2v1h-2zM41 20h1v1h-1zM0 21h1v1h-1zM28 21h1v1h-1zM35 21h2v1h-2zM0 22h2v1h-2zM6 22h1v1h-1zM23 22h1v1h-1zM25 22h1v1h-1zM35 22h1v1h-1zM42 22h1v1h-1zM23 25h2v1h-2zM28 25h1v1h-1zM35 25h1v1h-1zM42 25h1v1h-1zM0 26h2v1h-2zM8 26h1v1h-1zM33 26h1v1h-1zM38 26h1v1h-1zM12 27h1v1h-1zM39 27h1v1h-1zM8 28h1v1h-1zM18 28h2v1h-2zM23 28h1v1h-1zM25 28h1v1h-1zM29 28h1v1h-1zM33 28h1v1h-1zM38 28h1v1h-1zM41 28h1v1h-1zM5 30h1v1h-1zM13 30h2v1h-2zM26 30h1v1h-1zM29 30h1v1h-1zM34 30h1v1h-1zM37 30h1v1h-1zM39 30h1v1h-1zM42 30h1v1h-1zM32 31h1v1h-1zM39 31h1v1h-1zM8 32h1v1h-1zM15 32h1v1h-1zM17 32h1v1h-1zM24 32h2v1h-2zM27 32h1v1h-1zM32 32h1v1h-1zM34 32h1v1h-1zM38 32h1v1h-1zM9 33h1v1h-1zM13 33h1v1h-1zM18 33h1v1h-1zM27 33h1v1h-1zM1 34h2v1h-2zM6 34h1v1h-1zM8 34h1v1h-1zM11 34h1v1h-1zM13 34h1v1h-1zM23 34h1v1h-1zM31 34h1v1h-1zM37 34h1v1h-1zM42 34h1v1h-1zM0 36h1v1h-1zM4 36h1v1h-1zM20 36h1v1h-1zM27 36h1v1h-1zM0 37h1v1h-1zM2 37h1v1h-1zM5 37h1v1h-1zM13 37h1v1h-1zM15 37h1v1h-1zM20 37h1v1h-1zM25 37h1v1h-1zM30 37h1v1h-1zM42 37h1v1h-1zM32 38h1v1h-1zM41 38h1v1h-1zM0 39h1v1h-1zM5 39h1v1h-1zM9 39h1v1h-1zM11 39h2v1h-2zM19 39h2v1h-2zM25 39h1v1h-1zM42 39h1v1h-1zM1 40h2v1h-2zM9 40h1v1h-1zM12 40h1v1h-1zM17 40h2v1h-2zM20 40h1v1h-1zM6 42h1v1h-1zM12 42h1v1h-1zM6 43h1v1h-1zM13 43h1v1h-1zM1 47h1v1h-1zM4 47h1v1h-1zM8 47h1v1h-1zM13 47h1v1h-1zM15 47h1v1h-1zM19 47h1v1h-1zM42 47h1v1h-1z"/><path fill="#3af2ca" d="M1 0h2v1h-2zM6 0h1v1h-1zM8 0h1v1h-1zM14 0h1v1h-1zM17 0h1v1h-1zM23 0h1v1h-1zM31 0h1v1h-1zM32 1h1v1h-1zM24 2h1v1h-1zM28 2h1v1h-1zM42 2h1v1h-1zM6 3h1v1h-1zM9 3h1v1h-1zM27 3h1v1h-1zM33 3h1v1h-1zM37 3h2v1h-2zM42 3h1v1h-1zM1 4h2v1h-2zM6 4h1v1h-1zM29 4h1v1h-1zM32 4h2v1h-2zM36 4h1v1h-1zM0 6h1v1h-1zM9 6h1v1h-1zM20 6h1v1h-1zM22 6h1v1h-1zM36 6h1v1h-1zM14 8h1v1h-1zM17 9h1v1h-1zM34 9h1v1h-1zM6 10h1v1h-1zM13 10h1v1h-1zM22 10h3v1h-3zM31 10h2v1h-2zM42 10h1v1h-1zM28 11h1v1h-1zM2 12h1v1h-1zM9 12h1v1h-1zM15 12h1v1h-1zM18 12h1v1h-1zM26 12h1v1h-1zM31 12h1v1h-1zM36 12h1v1h-1zM1 13h1v1h-1zM11 13h1v1h-1zM21 13h1v1h-1zM24 13h2v1h-2zM31 13h1v1h-1zM34 13h1v1h-1zM37 13h1v1h-1zM40 13h1v1h-1zM0 14h1v1h-1zM9 14h1v1h-1zM20 14h1v1h-1zM27 14h1v1h-1zM30 14h1v1h-1zM28 15h1v1h-1zM31 15h1v1h-1zM34 15h1v1h-1zM28 16h1v1h-1zM8 17h1v1h-1zM17 17h1v1h-1zM19 17h2v1h-2zM27 17h1v1h-1zM30 17h1v1h-1zM39 17h1v1h-1zM1 19h1v1h-1zM12 19h1v1h-1zM19 19h1v1h-1zM25 19h1v1h-1zM27 19h1v1h-1zM29 19h2v1h-2zM33 19h1v1h-1zM0 20h1v1h-1zM9 20h1v1h-1zM12 20h1v1h-1zM17 20h1v1h-1zM26 20h1v1h-1zM33 20h1v1h-1zM35 20h2v1h-2zM11 21h1v1h-1zM14 21h1v1h-1zM23 21h1v1h-1zM29 21h1v1h-1zM31 21h1v1h-1zM38 21h1v1h-1zM40 21h2v1h-2zM8 22h1v1h-1zM13 22h1v1h-1zM15 22h1v1h-1zM26 22h1v1h-1zM33 22h1v1h-1zM36 22h1v1h-1zM38 23h1v1h-1zM2 25h1v1h-1zM25 25h1v1h-1zM27 25h1v1h-1zM29 25h1v1h-1zM31 25h2v1h-2zM34 25h1v1h-1zM36 25h2v1h-2zM41 25h1v1h-1zM4 26h1v1h-1zM9 26h1v1h-1zM11 26h1v1h-1zM30 26h1v1h-1zM36 26h1v1h-1zM0 27h1v1h-1zM5 27h1v1h-1zM18 27h1v1h-1zM20 27h1v1h-1zM25 27h1v1h-1zM0 28h1v1h-1zM11 28h2v1h-2zM20 28h1v1h-1zM35 28h1v1h-1zM0 30h2v1h-2zM4 30h1v1h-1zM6 30h1v1h-1zM9 30h1v1h-1zM11 30h1v1h-1zM17 30h1v1h-1zM25 30h1v1h-1zM30 30h1v1h-1zM36 30h1v1h-1zM38 30h1v1h-1zM17 31h1v1h-1zM31 31h1v1h-1zM41 31h2v1h-2zM6 32h1v1h-1zM12 32h3v1h-3zM19 32h1v1h-1zM23 32h1v1h-1zM26 32h1v1h-1zM30 32h1v1h-1zM35 32h1v1h-1zM41 32h1v1h-1zM0 33h2v1h-2zM5 33h1v1h-1zM12 33h1v1h-1zM15 33h1v1h-1zM17 33h1v1h-1zM0 34h1v1h-1zM5 34h1v1h-1zM12 34h1v1h-1zM18 34h1v1h-1zM30 34h1v1h-1zM33 34h1v1h-1zM36 34h1v1h-1zM39 34h1v1h-1zM14 35h1v1h-1zM28 35h1v1h-1zM31 35h1v1h-1zM41 35h1v1h-1zM37 36h1v1h-1zM12 37h1v1h-1zM13 38h1v1h-1zM17 38h3v1h-3zM24 38h1v1h-1zM30 38h1v1h-1zM34 38h1v1h-1zM36 38h1v1h-1zM1 39h1v1h-1zM15 39h1v1h-1zM33 39h1v1h-1zM8 40h1v1h-1zM11 40h1v1h-1zM15 40h1v1h-1zM25 40h1v1h-1zM30 40h1v1h-1zM33 40h1v1h-1zM1 43h1v1h-1zM5 47h1v1h-1zM12 47h1v1h-1z"/><path fill="#42f4e0" d="M3 0h1v1h-1zM7 1h1v1h-1zM3 3h1v1h-1zM3 9h1v1h-1zM7 10h1v1h-1zM7 11h1v1h-1zM3 15h1v1h-1zM7 15h1v1h-1zM7 16h1v1h-1zM3 23h1v1h-1zM7 35h1v1h-1zM3 38h1v1h-1z"/><path fill="#16f2ee" d="M4 0h2v1h-2zM12 0h2v1h-2zM18 0h1v1h-1zM22 0h1v1h-1zM26 0h1v1h-1zM30 0h1v1h-1zM36 0h1v1h-1zM39 0h1v1h-1zM28 1h1v1h-1zM36 1h1v1h-1zM38 1h1v1h-1zM41 1h1v1h-1zM1 2h1v1h-1zM11 2h1v1h-1zM13 2h1v1h-1zM15 2h1v1h-1zM17 2h3v1h-3zM21 2h1v1h-1zM25 2h3v1h-3zM29 2h1v1h-1zM32 2h2v1h-2zM4 3h1v1h-1zM17 3h2v1h-2zM21 3h1v1h-1zM36 3h1v1h-1zM39 3h1v1h-1zM15 4h1v1h-1zM21 4h1v1h-1zM25 4h1v1h-1zM11 5h1v1h-1zM39 6h2v1h-2zM12 7h1v1h-1zM21 7h1v1h-1zM24 7h1v1h-1zM31 7h1v1h-1zM37 7h1v1h-1zM6 8h1v1h-1zM11 8h1v1h-1zM25 8h1v1h-1zM28 8h1v1h-1zM31 8h1v1h-1zM33 8h1v1h-1zM37 8h1v1h-1zM1 9h2v1h-2zM6 9h1v1h-1zM25 9h1v1h-1zM28 9h1v1h-1zM33 9h1v1h-1zM36 9h2v1h-2zM42 9h1v1h-1zM0 10h1v1h-1zM2 10h1v1h-1zM4 10h1v1h-1zM11 10h1v1h-1zM15 10h1v1h-1zM17 10h1v1h-1zM25 10h1v1h-1zM29 10h1v1h-1zM38 10h1v1h-1zM0 11h1v1h-1zM2 11h1v1h-1zM14 11h1v1h-1zM17 11h1v1h-1zM21 11h1v1h-1zM31 11h2v1h-2zM34 11h1v1h-1zM36 11h1v1h-1zM19 12h1v1h-1zM23 12h1v1h-1zM27 12h1v1h-1zM34 12h1v1h-1zM42 12h1v1h-1zM0 13h1v1h-1zM5 13h1v1h-1zM12 13h1v1h-1zM18 13h1v1h-1zM22 13h2v1h-2zM26 13h2v1h-2zM30 13h1v1h-1zM33 13h1v1h-1zM4 14h1v1h-1zM21 14h1v1h-1zM33 14h1v1h-1zM2 15h1v1h-1zM6 15h1v1h-1zM17 15h1v1h-1zM23 15h1v1h-1zM25 15h1v1h-1zM30 15h1v1h-1zM33 15h1v1h-1zM36 15h1v1h-1zM41 15h2v1h-2zM14 16h2v1h-2zM17 16h1v1h-1zM23 16h1v1h-1zM27 16h1v1h-1zM32 16h1v1h-1zM36 16h2v1h-2zM40 16h2v1h-2zM5 17h1v1h-1zM12 18h1v1h-1zM14 18h1v1h-1zM38 18h1v1h-1zM0 19h1v1h-1zM5 19h1v1h-1zM1 20h1v1h-1zM4 20h1v1h-1zM15 20h1v1h-1zM18 20h2v1h-2zM29 20h1v1h-1zM6 21h1v1h-1zM9 21h1v1h-1zM18 21h2v1h-2zM24 21h1v1h-1zM33 21h1v1h-1zM42 21h1v1h-1zM5 22h1v1h-1zM9 22h1v1h-1zM12 22h1v1h-1zM18 22h1v1h-1zM20 22h1v1h-1zM1 23h1v1h-1zM8 23h1v1h-1zM12 23h2v1h-2zM17 23h1v1h-1zM19 23h2v1h-2zM31 23h1v1h-1zM34 23h2v1h-2zM37 23h1v1h-1zM0 25h1v1h-1zM6 25h1v1h-1zM15 25h1v1h-1zM20 25h1v1h-1zM33 25h1v1h-1zM38 25h3v1h-3zM30 28h1v1h-1zM18 30h1v1h-1zM27 30h1v1h-1zM40 30h1v1h-1zM4 31h1v1h-1zM8 31h2v1h-2zM23 31h2v1h-2zM26 31h1v1h-1zM29 31h1v1h-1zM33 31h3v1h-3zM37 31h2v1h-2zM40 31h1v1h-1zM0 32h1v1h-1zM9 32h1v1h-1zM11 32h1v1h-1zM20 32h1v1h-1zM20 33h1v1h-1zM9 34h1v1h-1zM20 34h1v1h-1zM25 34h1v1h-1zM40 34h1v1h-1zM6 35h1v1h-1zM24 35h1v1h-1zM27 35h1v1h-1zM32 35h1v1h-1zM35 35h2v1h-2zM42 35h1v1h-1zM20 38h1v1h-1zM25 38h1v1h-1zM33 38h1v1h-1zM42 38h1v1h-1zM0 40h1v1h-1z"/><path fill="#71f4b1" d="M7 0h1v1h-1zM7 4h1v1h-1zM3 14h1v1h-1zM7 14h1v1h-1zM3 17h1v1h-1zM3 20h1v1h-1zM3 26h1v1h-1zM7 37h1v1h-1zM3 43h1v1h-1z"/><path fill="#28f2dc" d="M9 0h1v1h-1zM15 0h1v1h-1zM19 0h1v1h-1zM21 0h1v1h-1zM25 0h1v1h-1zM27 0h1v1h-1zM32 0h2v1h-2zM37 0h1v1h-1zM31 1h1v1h-1zM2 2h1v1h-1zM23 2h1v1h-1zM34 2h4v1h-4zM1 3h2v1h-2zM15 3h1v1h-1zM23 3h1v1h-1zM30 3h2v1h-2zM35 3h1v1h-1zM11 4h1v1h-1zM18 4h1v1h-1zM24 4h1v1h-1zM27 4h1v1h-1zM35 4h1v1h-1zM37 4h1v1h-1zM14 5h1v1h-1zM28 5h1v1h-1zM4 6h2v1h-2zM8 6h1v1h-1zM17 7h1v1h-1zM28 7h2v1h-2zM41 7h1v1h-1zM13 8h1v1h-1zM17 8h1v1h-1zM23 8h2v1h-2zM29 8h1v1h-1zM34 8h1v1h-1zM36 8h1v1h-1zM42 8h1v1h-1zM13 9h2v1h-2zM24 9h1v1h-1zM26 9h1v1h-1zM32 9h1v1h-1zM8 10h1v1h-1zM12 10h1v1h-1zM26 10h1v1h-1zM34 10h1v1h-1zM41 10h1v1h-1zM8 12h1v1h-1zM13 12h1v1h-1zM17 12h1v1h-1zM25 12h1v1h-1zM32 12h1v1h-1zM37 12h1v1h-1zM39 12h1v1h-1zM41 12h1v1h-1zM2 13h1v1h-1zM6 13h1v1h-1zM9 13h1v1h-1zM29 13h1v1h-1zM35 13h1v1h-1zM39 13h1v1h-1zM41 13h1v1h-1zM5 14h1v1h-1zM12 14h2v1h-2zM15 14h1v1h-1zM22 14h1v1h-1zM37 14h1v1h-1zM39 14h1v1h-1zM13 15h2v1h-2zM19 15h1v1h-1zM29 15h1v1h-1zM37 15h1v1h-1zM2 16h1v1h-1zM24 16h1v1h-1zM31 16h1v1h-1zM38 16h1v1h-1zM1 17h1v1h-1zM4 17h1v1h-1zM12 17h1v1h-1zM18 17h1v1h-1zM40 17h1v1h-1zM28 18h1v1h-1zM35 18h1v1h-1zM18 19h1v1h-1zM26 19h1v1h-1zM40 19h1v1h-1zM8 20h1v1h-1zM25 20h1v1h-1zM30 20h1v1h-1zM40 20h1v1h-1zM42 20h1v1h-1zM1 21h1v1h-1zM17 21h1v1h-1zM25 21h2v1h-2zM32 21h1v1h-1zM39 21h1v1h-1zM4 22h1v1h-1zM11 22h1v1h-1zM19 22h1v1h-1zM30 22h1v1h-1zM38 22h1v1h-1zM40 22h1v1h-1zM14 23h1v1h-1zM23 23h1v1h-1zM27 23h1v1h-1zM39 23h1v1h-1zM1 25h1v1h-1zM4 25h1v1h-1zM8 25h2v1h-2zM11 25h1v1h-1zM13 25h1v1h-1zM18 25h2v1h-2zM5 26h1v1h-1zM26 26h1v1h-1zM4 28h2v1h-2zM9 28h1v1h-1zM40 28h1v1h-1zM8 30h1v1h-1zM12 30h1v1h-1zM15 30h1v1h-1zM19 30h2v1h-2zM23 30h1v1h-1zM33 30h1v1h-1zM41 30h1v1h-1zM2 31h1v1h-1zM14 31h2v1h-2zM36 31h1v1h-1zM1 32h2v1h-2zM33 32h1v1h-1zM36 32h1v1h-1zM4 33h1v1h-1zM30 33h1v1h-1zM33 33h1v1h-1zM4 34h1v1h-1zM15 34h1v1h-1zM17 34h1v1h-1zM19 34h1v1h-1zM35 34h1v1h-1zM41 34h1v1h-1zM13 35h1v1h-1zM23 35h1v1h-1zM37 35h2v1h-2zM5 36h1v1h-1zM12 36h1v1h-1zM2 38h1v1h-1zM6 38h1v1h-1zM11 38h1v1h-1zM27 38h1v1h-1zM35 38h1v1h-1zM37 38h4v1h-4zM4 39h1v1h-1zM5 40h1v1h-1z"/><path fill="#29f3ef" d="M10 0h1v1h-1zM16 0h1v1h-1zM16 2h1v1h-1zM10 13h1v1h-1zM22 20h1v1h-1zM10 25h1v1h-1zM10 28h1v1h-1zM10 31h1v1h-1zM10 34h1v1h-1z"/><path fill="#12d3f2" d="M20 0h1v1h-1zM40 0h1v1h-1zM6 1h1v1h-1zM15 1h1v1h-1zM17 1h1v1h-1zM25 1h1v1h-1zM30 1h1v1h-1zM33 1h1v1h-1zM42 1h1v1h-1zM4 2h3v1h-3zM22 2h1v1h-1zM38 2h2v1h-2zM5 4h1v1h-1zM13 4h1v1h-1zM26 4h1v1h-1zM38 4h1v1h-1zM40 4h1v1h-1zM1 5h1v1h-1zM6 5h1v1h-1zM21 5h1v1h-1zM23 5h2v1h-2zM26 5h1v1h-1zM29 5h1v1h-1zM31 5h1v1h-1zM38 5h2v1h-2zM41 5h1v1h-1zM6 7h1v1h-1zM8 7h1v1h-1zM18 7h1v1h-1zM22 7h1v1h-1zM30 7h1v1h-1zM32 7h1v1h-1zM36 7h1v1h-1zM42 7h1v1h-1zM0 8h1v1h-1zM4 8h1v1h-1zM8 8h2v1h-2zM12 8h1v1h-1zM15 8h1v1h-1zM18 8h1v1h-1zM21 8h1v1h-1zM27 8h1v1h-1zM30 8h1v1h-1zM35 8h1v1h-1zM38 8h1v1h-1zM8 9h1v1h-1zM19 9h1v1h-1zM39 9h2v1h-2zM5 10h1v1h-1zM30 10h1v1h-1zM40 10h1v1h-1zM9 11h1v1h-1zM11 11h1v1h-1zM15 11h1v1h-1zM25 11h1v1h-1zM27 11h1v1h-1zM29 11h2v1h-2zM35 11h1v1h-1zM40 11h2v1h-2zM4 12h1v1h-1zM21 12h1v1h-1zM29 12h1v1h-1zM8 13h1v1h-1zM20 13h1v1h-1zM0 15h2v1h-2zM20 15h1v1h-1zM26 15h1v1h-1zM40 15h1v1h-1zM1 16h1v1h-1zM4 16h3v1h-3zM9 16h1v1h-1zM12 16h1v1h-1zM25 16h1v1h-1zM30 16h1v1h-1zM1 18h2v1h-2zM11 18h1v1h-1zM19 18h1v1h-1zM24 18h1v1h-1zM26 18h2v1h-2zM31 18h2v1h-2zM34 18h1v1h-1zM36 18h2v1h-2zM40 18h3v1h-3zM4 21h1v1h-1zM15 21h1v1h-1zM6 23h1v1h-1zM26 23h1v1h-1zM32 23h1v1h-1zM40 23h1v1h-1zM5 31h1v1h-1zM11 31h2v1h-2zM18 31h1v1h-1zM20 31h1v1h-1zM25 31h1v1h-1zM30 31h1v1h-1zM5 32h1v1h-1zM1 35h1v1h-1zM18 35h2v1h-2zM25 35h2v1h-2zM33 35h1v1h-1zM39 35h1v1h-1zM12 38h1v1h-1z"/><path fill="#5ef2a6" d="M29 0h1v1h-1zM42 0h1v1h-1zM14 2h1v1h-1zM34 3h1v1h-1zM14 4h1v1h-1zM23 4h1v1h-1zM28 4h1v1h-1zM31 4h1v1h-1zM34 4h1v1h-1zM41 4h1v1h-1zM1 6h2v1h-2zM12 6h1v1h-1zM15 6h1v1h-1zM17 6h1v1h-1zM19 6h1v1h-1zM24 6h1v1h-1zM29 6h1v1h-1zM34 6h2v1h-2zM37 6h2v1h-2zM41 6h1v1h-1zM19 10h1v1h-1zM28 10h1v1h-1zM14 12h1v1h-1zM28 12h1v1h-1zM17 13h1v1h-1zM28 13h1v1h-1zM42 13h1v1h-1zM14 14h1v1h-1zM18 14h1v1h-1zM31 14h1v1h-1zM34 14h2v1h-2zM38 14h1v1h-1zM41 14h2v1h-2zM25 17h2v1h-2zM31 17h4v1h-4zM36 17h1v1h-1zM8 19h1v1h-1zM13 19h2v1h-2zM23 19h1v1h-1zM31 19h2v1h-2zM35 19h1v1h-1zM42 19h1v1h-1zM11 20h1v1h-1zM28 20h1v1h-1zM32 20h1v1h-1zM39 20h1v1h-1zM2 21h1v1h-1zM34 21h1v1h-1zM37 21h1v1h-1zM2 22h1v1h-1zM14 22h1v1h-1zM17 22h1v1h-1zM24 22h1v1h-1zM27 22h3v1h-3zM34 22h1v1h-1zM37 22h1v1h-1zM4 24h1v1h-1zM27 24h1v1h-1zM14 25h1v1h-1zM17 25h1v1h-1zM6 26h1v1h-1zM12 26h1v1h-1zM15 26h1v1h-1zM20 26h1v1h-1zM29 26h1v1h-1zM39 26h4v1h-4zM8 27h1v1h-1zM14 27h1v1h-1zM30 27h1v1h-1zM33 27h1v1h-1zM2 28h1v1h-1zM6 28h1v1h-1zM13 28h1v1h-1zM26 28h2v1h-2zM34 28h1v1h-1zM37 28h1v1h-1zM1 29h1v1h-1zM5 29h1v1h-1zM24 30h1v1h-1zM28 30h1v1h-1zM31 30h1v1h-1zM35 30h1v1h-1zM28 31h1v1h-1zM28 32h2v1h-2zM31 32h1v1h-1zM37 32h1v1h-1zM39 32h1v1h-1zM42 32h1v1h-1zM8 33h1v1h-1zM19 33h1v1h-1zM25 33h1v1h-1zM35 33h2v1h-2zM38 33h3v1h-3zM24 34h1v1h-1zM26 34h4v1h-4zM32 34h1v1h-1zM34 34h1v1h-1zM38 34h1v1h-1zM2 36h1v1h-1zM9 36h1v1h-1zM15 36h1v1h-1zM17 36h2v1h-2zM23 36h2v1h-2zM33 36h1v1h-1zM35 36h1v1h-1zM38 36h1v1h-1zM40 36h1v1h-1zM42 36h1v1h-1zM9 37h1v1h-1zM18 37h1v1h-1zM27 37h1v1h-1zM40 37h2v1h-2zM14 38h1v1h-1zM23 38h1v1h-1zM26 38h1v1h-1zM28 38h2v1h-2zM31 38h1v1h-1zM6 39h1v1h-1zM18 39h1v1h-1zM23 39h1v1h-1zM26 39h1v1h-1zM30 39h1v1h-1zM34 39h1v1h-1zM37 39h1v1h-1zM4 40h1v1h-1zM13 40h2v1h-2zM24 40h1v1h-1zM26 40h1v1h-1zM29 40h1v1h-1zM32 40h1v1h-1zM37 40h1v1h-1zM42 40h1v1h-1zM2 43h1v1h-1zM4 43h1v1h-1zM11 43h1v1h-1zM19 43h2v1h-2zM26 43h1v1h-1zM39 43h1v1h-1zM0 46h1v1h-1zM9 46h1v1h-1zM12 46h1v1h-1zM0 47h1v1h-1zM9 47h1v1h-1zM23 47h1v1h-1zM25 47h2v1h-2z"/><path fill="#12e5f2" d="M38 0h1v1h-1zM12 1h1v1h-1zM24 1h1v1h-1zM27 1h1v1h-1zM34 1h1v1h-1zM37 1h1v1h-1zM0 2h1v1h-1zM8 2h1v1h-1zM12 2h1v1h-1zM30 2h2v1h-2zM0 3h1v1h-1zM5 3h1v1h-1zM11 3h2v1h-2zM19 3h2v1h-2zM22 3h1v1h-1zM26 3h1v1h-1zM40 3h1v1h-1zM0 4h1v1h-1zM4 4h1v1h-1zM9 4h1v1h-1zM22 4h1v1h-1zM30 4h1v1h-1zM39 4h1v1h-1zM2 5h1v1h-1zM13 5h1v1h-1zM15 5h1v1h-1zM17 5h1v1h-1zM27 5h1v1h-1zM32 5h1v1h-1zM34 5h2v1h-2zM37 5h1v1h-1zM42 5h1v1h-1zM2 7h1v1h-1zM14 7h1v1h-1zM23 7h1v1h-1zM25 7h1v1h-1zM35 7h1v1h-1zM2 8h1v1h-1zM19 8h2v1h-2zM22 8h1v1h-1zM32 8h1v1h-1zM40 8h2v1h-2zM9 9h1v1h-1zM12 9h1v1h-1zM15 9h1v1h-1zM22 9h2v1h-2zM30 9h2v1h-2zM35 9h1v1h-1zM41 9h1v1h-1zM1 10h1v1h-1zM9 10h1v1h-1zM18 10h1v1h-1zM20 10h2v1h-2zM27 10h1v1h-1zM33 10h1v1h-1zM39 10h1v1h-1zM4 11h1v1h-1zM13 11h1v1h-1zM23 11h2v1h-2zM26 11h1v1h-1zM33 11h1v1h-1zM37 11h1v1h-1zM39 11h1v1h-1zM42 11h1v1h-1zM0 12h2v1h-2zM5 12h2v1h-2zM11 12h1v1h-1zM22 12h1v1h-1zM30 12h1v1h-1zM33 12h1v1h-1zM40 12h1v1h-1zM4 13h1v1h-1zM13 13h1v1h-1zM8 15h2v1h-2zM15 15h1v1h-1zM18 15h1v1h-1zM27 15h1v1h-1zM32 15h1v1h-1zM35 15h1v1h-1zM38 15h1v1h-1zM11 16h1v1h-1zM13 16h1v1h-1zM29 16h1v1h-1zM34 16h1v1h-1zM42 16h1v1h-1zM13 18h1v1h-1zM17 18h1v1h-1zM23 18h1v1h-1zM39 18h1v1h-1zM20 19h1v1h-1zM5 20h1v1h-1zM20 20h1v1h-1zM13 21h1v1h-1zM20 21h1v1h-1zM27 21h1v1h-1zM30 21h1v1h-1zM9 23h1v1h-1zM18 23h1v1h-1zM24 23h2v1h-2zM41 23h2v1h-2zM5 25h1v1h-1zM12 25h1v1h-1zM26 25h1v1h-1zM30 25h1v1h-1zM0 31h2v1h-2zM6 31h1v1h-1zM13 31h1v1h-1zM27 31h1v1h-1zM18 32h1v1h-1zM2 35h1v1h-1zM11 35h2v1h-2zM15 35h1v1h-1zM17 35h1v1h-1zM20 35h1v1h-1zM29 35h1v1h-1zM34 35h1v1h-1zM40 35h1v1h-1zM0 38h2v1h-2zM4 38h1v1h-1zM8 38h1v1h-1zM15 38h1v1h-1z"/><path fill="#12aff2" d="M0 1h1v1h-1zM2 1h1v1h-1zM5 1h1v1h-1zM8 1h2v1h-2zM11 1h1v1h-1zM39 1h1v1h-1zM9 2h1v1h-1zM40 2h1v1h-1zM19 4h1v1h-1zM0 5h1v1h-1zM8 5h1v1h-1zM12 5h1v1h-1zM33 5h1v1h-1zM0 7h1v1h-1zM9 7h1v1h-1zM11 7h1v1h-1zM26 7h1v1h-1zM39 7h2v1h-2zM11 9h1v1h-1zM18 9h1v1h-1zM20 9h1v1h-1zM6 11h1v1h-1zM18 11h1v1h-1zM38 11h1v1h-1zM18 16h1v1h-1zM35 16h1v1h-1zM0 18h1v1h-1zM15 18h1v1h-1zM29 18h1v1h-1zM33 18h1v1h-1zM4 23h2v1h-2zM4 32h1v1h-1zM9 35h1v1h-1z"/><path fill="#12c1f2" d="M1 1h1v1h-1zM13 1h2v1h-2zM18 1h1v1h-1zM21 1h1v1h-1zM23 1h1v1h-1zM26 1h1v1h-1zM29 1h1v1h-1zM35 1h1v1h-1zM20 2h1v1h-1zM20 4h1v1h-1zM18 5h2v1h-2zM22 5h1v1h-1zM25 5h1v1h-1zM36 5h1v1h-1zM1 7h1v1h-1zM13 7h1v1h-1zM15 7h1v1h-1zM19 7h2v1h-2zM27 7h1v1h-1zM33 7h2v1h-2zM38 7h1v1h-1zM0 9h1v1h-1zM4 9h2v1h-2zM21 9h1v1h-1zM27 9h1v1h-1zM29 9h1v1h-1zM36 10h1v1h-1zM1 11h1v1h-1zM5 11h1v1h-1zM8 11h1v1h-1zM12 11h1v1h-1zM22 11h1v1h-1zM20 12h1v1h-1zM4 15h2v1h-2zM11 15h2v1h-2zM39 15h1v1h-1zM0 16h1v1h-1zM8 16h1v1h-1zM19 16h2v1h-2zM26 16h1v1h-1zM33 16h1v1h-1zM39 16h1v1h-1zM8 18h2v1h-2zM25 18h1v1h-1zM5 21h1v1h-1zM8 21h1v1h-1zM12 21h1v1h-1zM0 23h1v1h-1zM2 23h1v1h-1zM11 23h1v1h-1zM15 23h1v1h-1zM29 23h2v1h-2zM33 23h1v1h-1zM36 23h1v1h-1zM19 31h1v1h-1zM0 35h1v1h-1zM4 35h1v1h-1zM8 35h1v1h-1zM30 35h1v1h-1zM5 38h1v1h-1zM9 38h1v1h-1z"/><path fill="#32f4f0" d="M3 1h1v1h-1zM3 18h1v1h-1zM7 23h1v1h-1zM3 35h1v1h-1z"/><path fill="#129df2" d="M4 1h1v1h-1zM19 1h1v1h-1zM22 1h1v1h-1zM4 5h2v1h-2zM9 5h1v1h-1zM20 5h1v1h-1zM30 5h1v1h-1zM40 5h1v1h-1zM4 7h1v1h-1zM5 8h1v1h-1zM39 8h1v1h-1zM38 9h1v1h-1zM19 11h1v1h-1zM4 18h3v1h-3zM18 18h1v1h-1zM30 18h1v1h-1z"/><path fill="#25a5f3" d="M10 1h1v1h-1zM10 18h1v1h-1z"/><path fill="#39f3df" d="M16 1h1v1h-1zM10 2h1v1h-1zM16 4h1v1h-1zM10 6h1v1h-1zM16 8h1v1h-1zM16 9h1v1h-1zM10 17h1v1h-1zM10 19h1v1h-1zM21 20h1v1h-1zM10 21h1v1h-1zM16 21h1v1h-1zM16 23h1v1h-1zM21 23h1v1h-1zM21 25h2v1h-2zM10 32h1v1h-1zM16 32h1v1h-1zM16 35h1v1h-1zM22 35h1v1h-1zM10 36h1v1h-1zM16 38h1v1h-1zM21 38h1v1h-1zM10 39h1v1h-1z"/><path fill="#1279f2" d="M20 1h1v1h-1zM40 1h1v1h-1z"/><path fill="#2ee8f4" d="M3 2h1v1h-1zM3 5h1v1h-1zM7 7h1v1h-1zM3 8h1v1h-1zM7 8h1v1h-1zM3 11h1v1h-1zM7 12h1v1h-1zM3 16h1v1h-1zM3 31h1v1h-1z"/><path fill="#62f4c0" d="M7 2h1v1h-1zM3 4h1v1h-1zM3 13h1v1h-1zM7 13h1v1h-1zM7 21h1v1h-1zM3 22h1v1h-1zM7 22h1v1h-1zM7 25h1v1h-1zM3 28h1v1h-1zM7 30h1v1h-1zM3 32h1v1h-1zM7 32h1v1h-1zM7 33h1v1h-1zM7 34h1v1h-1zM7 38h1v1h-1z"/><path fill="#52f4d0" d="M7 3h1v1h-1zM7 9h1v1h-1zM3 12h1v1h-1zM7 20h1v1h-1zM3 21h1v1h-1zM3 25h1v1h-1zM3 30h1v1h-1zM7 31h1v1h-1zM3 34h1v1h-1zM7 40h1v1h-1z"/><path fill="#25d6f3" d="M10 3h1v1h-1zM10 7h1v1h-1zM16 11h1v1h-1zM10 15h1v1h-1zM10 16h1v1h-1zM16 16h1v1h-1zM22 18h1v1h-1zM22 23h1v1h-1z"/><path fill="#4af3ce" d="M16 3h1v1h-1zM16 10h1v1h-1zM16 12h1v1h-1zM21 19h1v1h-1zM21 21h2v1h-2zM10 22h1v1h-1zM22 22h1v1h-1zM10 26h1v1h-1zM16 30h1v1h-1zM16 31h1v1h-1zM22 32h1v1h-1zM21 33h1v1h-1zM22 34h1v1h-1zM21 35h1v1h-1zM10 37h1v1h-1zM22 38h1v1h-1zM22 39h1v1h-1zM10 40h1v1h-1z"/><path fill="#25e7f3" d="M10 4h1v1h-1zM16 5h1v1h-1zM16 7h1v1h-1zM10 9h1v1h-1zM16 15h1v1h-1zM21 15h1v1h-1zM22 16h1v1h-1zM21 18h1v1h-1zM10 23h1v1h-1zM10 30h1v1h-1zM21 31h2v1h-2z"/><path fill="#2ed8f4" d="M7 5h1v1h-1zM7 18h1v1h-1z"/><path fill="#25b5f3" d="M10 5h1v1h-1zM10 10h1v1h-1zM10 38h1v1h-1z"/><path fill="#91f491" d="M3 6h1v1h-1zM3 33h1v1h-1zM3 40h1v1h-1zM3 42h1v1h-1zM7 42h1v1h-1zM3 47h1v1h-1zM7 47h1v1h-1z"/><path fill="#81f4a1" d="M7 6h1v1h-1zM3 10h1v1h-1zM7 17h1v1h-1zM3 19h1v1h-1zM7 19h1v1h-1zM7 28h1v1h-1zM3 36h1v1h-1zM7 36h1v1h-1zM3 39h1v1h-1zM7 39h1v1h-1zM7 43h1v1h-1z"/><path fill="#82f282" d="M11 6h1v1h-1zM32 6h1v1h-1zM17 14h1v1h-1zM32 14h1v1h-1zM14 17h1v1h-1zM29 17h1v1h-1zM35 17h1v1h-1zM38 17h1v1h-1zM11 19h1v1h-1zM36 19h1v1h-1zM41 19h1v1h-1zM31 20h1v1h-1zM31 22h2v1h-2zM6 24h1v1h-1zM13 24h1v1h-1zM29 24h1v1h-1zM42 24h1v1h-1zM17 26h1v1h-1zM28 26h1v1h-1zM2 27h1v1h-1zM9 27h1v1h-1zM27 27h1v1h-1zM29 27h1v1h-1zM31 27h1v1h-1zM35 27h2v1h-2zM41 27h1v1h-1zM1 28h1v1h-1zM15 28h1v1h-1zM32 28h1v1h-1zM39 28h1v1h-1zM0 29h1v1h-1zM29 29h2v1h-2zM40 29h1v1h-1zM31 33h1v1h-1zM37 33h1v1h-1zM6 36h1v1h-1zM13 36h1v1h-1zM19 36h1v1h-1zM32 36h1v1h-1zM36 36h1v1h-1zM39 36h1v1h-1zM8 37h1v1h-1zM11 37h1v1h-1zM17 37h1v1h-1zM33 37h5v1h-5zM2 39h1v1h-1zM13 39h2v1h-2zM17 39h1v1h-1zM28 39h2v1h-2zM35 39h1v1h-1zM41 39h1v1h-1zM31 40h1v1h-1zM34 40h1v1h-1zM39 40h1v1h-1zM41 40h1v1h-1zM33 41h1v1h-1zM1 42h1v1h-1zM9 42h1v1h-1zM15 42h1v1h-1zM18 42h1v1h-1zM20 42h1v1h-1zM25 42h1v1h-1zM27 42h1v1h-1zM40 42h1v1h-1zM8 43h2v1h-2zM12 43h1v1h-1zM24 43h1v1h-1zM27 43h1v1h-1zM32 43h1v1h-1zM34 43h1v1h-1zM40 43h1v1h-1zM4 44h2v1h-2zM18 44h1v1h-1zM26 44h1v1h-1zM5 46h1v1h-1zM15 46h1v1h-1zM30 46h1v1h-1zM34 46h1v1h-1zM27 47h1v1h-1zM34 47h1v1h-1zM36 47h1v1h-1zM41 47h1v1h-1z"/><path fill="#70f294" d="M14 6h1v1h-1zM21 6h1v1h-1zM23 6h1v1h-1zM27 6h1v1h-1zM24 12h1v1h-1zM14 13h1v1h-1zM1 14h2v1h-2zM24 14h1v1h-1zM26 14h1v1h-1zM29 14h1v1h-1zM40 14h1v1h-1zM15 17h1v1h-1zM24 17h1v1h-1zM37 17h1v1h-1zM41 17h1v1h-1zM9 19h1v1h-1zM17 19h1v1h-1zM24 19h1v1h-1zM34 19h1v1h-1zM38 19h1v1h-1zM39 22h1v1h-1zM28 23h1v1h-1zM1 24h1v1h-1zM5 24h1v1h-1zM9 24h1v1h-1zM12 24h1v1h-1zM18 24h1v1h-1zM20 24h1v1h-1zM30 24h1v1h-1zM39 24h1v1h-1zM2 26h1v1h-1zM13 26h2v1h-2zM18 26h2v1h-2zM23 26h2v1h-2zM31 26h2v1h-2zM34 26h2v1h-2zM1 27h1v1h-1zM4 27h1v1h-1zM6 27h1v1h-1zM13 27h1v1h-1zM15 27h1v1h-1zM17 27h1v1h-1zM19 27h1v1h-1zM24 27h1v1h-1zM26 27h1v1h-1zM40 27h1v1h-1zM14 28h1v1h-1zM17 28h1v1h-1zM28 28h1v1h-1zM31 28h1v1h-1zM36 28h1v1h-1zM42 28h1v1h-1zM33 29h1v1h-1zM2 30h1v1h-1zM32 30h1v1h-1zM40 32h1v1h-1zM2 33h1v1h-1zM6 33h1v1h-1zM14 33h1v1h-1zM23 33h2v1h-2zM26 33h1v1h-1zM29 33h1v1h-1zM42 33h1v1h-1zM14 34h1v1h-1zM1 36h1v1h-1zM8 36h1v1h-1zM11 36h1v1h-1zM14 36h1v1h-1zM25 36h2v1h-2zM30 36h2v1h-2zM41 36h1v1h-1zM1 37h1v1h-1zM4 37h1v1h-1zM6 37h1v1h-1zM19 37h1v1h-1zM23 37h1v1h-1zM27 39h1v1h-1zM31 39h1v1h-1zM38 39h3v1h-3zM6 40h1v1h-1zM19 40h1v1h-1zM23 40h1v1h-1zM36 40h1v1h-1zM38 40h1v1h-1zM40 40h1v1h-1zM0 41h1v1h-1zM5 41h1v1h-1zM8 41h1v1h-1zM12 41h1v1h-1zM20 41h1v1h-1zM2 42h1v1h-1zM5 42h1v1h-1zM42 42h1v1h-1zM0 43h1v1h-1zM5 43h1v1h-1zM15 43h1v1h-1zM17 43h2v1h-2zM23 43h1v1h-1zM25 43h1v1h-1zM36 43h2v1h-2zM42 43h1v1h-1zM1 46h1v1h-1zM4 46h1v1h-1zM6 46h1v1h-1zM11 46h1v1h-1zM20 46h1v1h-1zM25 46h1v1h-1zM2 47h1v1h-1zM11 47h1v1h-1zM14 47h1v1h-1zM17 47h2v1h-2zM20 47h1v1h-1zM24 47h1v1h-1zM30 47h3v1h-3z"/><path fill="#6bf3ad" d="M16 6h1v1h-1zM22 17h1v1h-1zM16 26h1v1h-1zM10 27h1v1h-1zM16 28h1v1h-1zM21 28h2v1h-2zM21 30h1v1h-1zM21 32h1v1h-1zM10 33h1v1h-1zM16 33h1v1h-1zM21 34h1v1h-1zM21 36h1v1h-1zM16 40h1v1h-1zM21 40h2v1h-2zM10 43h1v1h-1zM21 43h1v1h-1z"/><path fill="#a6f25e" d="M28 6h1v1h-1zM28 17h1v1h-1zM28 19h1v1h-1zM2 24h1v1h-1zM8 24h1v1h-1zM14 24h1v1h-1zM17 24h1v1h-1zM24 24h2v1h-2zM32 24h1v1h-1zM35 24h1v1h-1zM38 24h1v1h-1zM40 24h2v1h-2zM27 26h1v1h-1zM37 26h1v1h-1zM11 27h1v1h-1zM38 27h1v1h-1zM2 29h1v1h-1zM8 29h2v1h-2zM11 29h1v1h-1zM15 29h1v1h-1zM17 29h1v1h-1zM20 29h1v1h-1zM23 29h1v1h-1zM27 29h1v1h-1zM35 29h1v1h-1zM41 33h1v1h-1zM14 37h1v1h-1zM24 37h1v1h-1zM28 37h2v1h-2zM31 37h1v1h-1zM39 37h1v1h-1zM36 39h1v1h-1zM27 40h1v1h-1zM11 41h1v1h-1zM13 41h3v1h-3zM24 41h1v1h-1zM31 41h1v1h-1zM35 41h1v1h-1zM39 41h2v1h-2zM11 42h1v1h-1zM17 42h1v1h-1zM23 42h1v1h-1zM26 42h1v1h-1zM29 42h1v1h-1zM36 42h2v1h-2zM28 43h1v1h-1zM31 43h1v1h-1zM41 43h1v1h-1zM6 44h1v1h-1zM12 44h2v1h-2zM15 44h1v1h-1zM17 44h1v1h-1zM39 44h2v1h-2zM1 45h1v1h-1zM8 45h1v1h-1zM26 45h1v1h-1zM2 46h1v1h-1zM13 46h2v1h-2zM24 46h1v1h-1zM26 46h1v1h-1zM29 46h1v1h-1zM31 46h1v1h-1zM33 46h1v1h-1zM38 46h1v1h-1zM41 46h2v1h-2zM28 47h2v1h-2z"/><path fill="#2eb9f4" d="M3 7h1v1h-1z"/><path fill="#128bf2" d="M5 7h1v1h-1zM20 11h1v1h-1zM20 18h1v1h-1zM5 35h1v1h-1z"/><path fill="#25c6f3" d="M10 8h1v1h-1zM10 11h1v1h-1zM10 12h1v1h-1zM22 15h1v1h-1zM16 18h1v1h-1zM10 35h1v1h-1z"/><path fill="#5af3be" d="M16 13h1v1h-1zM10 14h1v1h-1zM21 16h1v1h-1zM16 17h1v1h-1zM21 17h1v1h-1zM16 19h1v1h-1zM22 19h1v1h-1zM10 20h1v1h-1zM16 20h1v1h-1zM16 25h1v1h-1zM22 30h1v1h-1zM22 33h1v1h-1zM16 34h1v1h-1zM16 36h1v1h-1zM16 43h1v1h-1zM10 47h1v1h-1z"/><path fill="#9df37c" d="M16 14h1v1h-1zM21 22h1v1h-1zM22 24h1v1h-1zM22 27h1v1h-1zM21 29h1v1h-1zM21 37h2v1h-2zM21 42h1v1h-1zM10 44h1v1h-1zM16 44h1v1h-1zM10 45h1v1h-1zM22 46h1v1h-1z"/><path fill="#94f270" d="M28 14h1v1h-1zM23 17h1v1h-1zM41 22h1v1h-1zM0 24h1v1h-1zM15 24h1v1h-1zM19 24h1v1h-1zM26 24h1v1h-1zM28 24h1v1h-1zM33 24h2v1h-2zM36 24h2v1h-2zM25 26h1v1h-1zM32 27h1v1h-1zM34 27h1v1h-1zM37 27h1v1h-1zM42 27h1v1h-1zM24 28h1v1h-1zM4 29h1v1h-1zM13 29h1v1h-1zM18 29h2v1h-2zM32 29h1v1h-1zM34 29h1v1h-1zM36 29h2v1h-2zM11 33h1v1h-1zM28 33h1v1h-1zM32 33h1v1h-1zM34 33h1v1h-1zM28 36h2v1h-2zM34 36h1v1h-1zM26 37h1v1h-1zM32 37h1v1h-1zM38 37h1v1h-1zM8 39h1v1h-1zM24 39h1v1h-1zM28 40h1v1h-1zM35 40h1v1h-1zM1 41h2v1h-2zM4 41h1v1h-1zM6 41h1v1h-1zM9 41h1v1h-1zM18 41h1v1h-1zM23 41h1v1h-1zM25 41h2v1h-2zM34 41h1v1h-1zM42 41h1v1h-1zM0 42h1v1h-1zM4 42h1v1h-1zM8 42h1v1h-1zM13 42h2v1h-2zM19 42h1v1h-1zM30 42h1v1h-1zM33 42h2v1h-2zM14 43h1v1h-1zM29 43h2v1h-2zM33 43h1v1h-1zM38 43h1v1h-1zM8 44h2v1h-2zM11 44h1v1h-1zM20 44h1v1h-1zM23 44h1v1h-1zM30 44h1v1h-1zM33 44h1v1h-1zM42 44h1v1h-1zM8 46h1v1h-1zM18 46h2v1h-2zM27 46h1v1h-1zM32 46h1v1h-1zM36 46h1v1h-1zM6 47h1v1h-1zM33 47h1v1h-1zM35 47h1v1h-1zM37 47h4v1h-4z"/><path fill="#7cf39d" d="M16 22h1v1h-1zM22 26h1v1h-1zM22 36h1v1h-1zM16 39h1v1h-1zM21 39h1v1h-1zM10 41h1v1h-1zM10 46h1v1h-1zM16 47h1v1h-1z"/><path fill="#a1f481" d="M3 24h1v1h-1zM7 26h1v1h-1zM3 27h1v1h-1zM7 27h1v1h-1zM3 41h1v1h-1z"/><path fill="#c0f462" d="M7 24h1v1h-1zM7 41h1v1h-1zM7 44h1v1h-1z"/><path fill="#8cf38c" d="M10 24h1v1h-1zM16 24h1v1h-1zM16 27h1v1h-1zM21 27h1v1h-1zM16 37h1v1h-1zM10 42h1v1h-1zM21 47h1v1h-1z"/><path fill="#b8f24c" d="M11 24h1v1h-1zM23 24h1v1h-1zM23 27h1v1h-1zM28 27h1v1h-1zM6 29h1v1h-1zM24 29h3v1h-3zM31 29h1v1h-1zM38 29h2v1h-2zM41 29h2v1h-2zM32 39h1v1h-1zM17 41h1v1h-1zM19 41h1v1h-1zM27 41h1v1h-1zM30 41h1v1h-1zM32 41h1v1h-1zM36 41h1v1h-1zM24 42h1v1h-1zM28 42h1v1h-1zM31 42h1v1h-1zM35 42h1v1h-1zM39 42h1v1h-1zM41 42h1v1h-1zM35 43h1v1h-1zM0 44h3v1h-3zM14 44h1v1h-1zM27 44h1v1h-1zM29 44h1v1h-1zM38 44h1v1h-1zM2 45h1v1h-1zM4 45h2v1h-2zM9 45h1v1h-1zM20 45h1v1h-1zM36 45h1v1h-1zM35 46h1v1h-1zM40 46h1v1h-1z"/><path fill="#dff339" d="M21 24h1v1h-1zM21 44h1v1h-1zM16 45h1v1h-1z"/><path fill="#caf23a" d="M31 24h1v1h-1zM12 29h1v1h-1zM14 29h1v1h-1zM37 41h2v1h-2zM32 42h1v1h-1zM38 42h1v1h-1zM19 44h1v1h-1zM24 44h2v1h-2zM32 44h1v1h-1zM34 44h1v1h-1zM11 45h1v1h-1zM15 45h1v1h-1zM17 45h2v1h-2zM24 45h1v1h-1zM27 45h1v1h-1zM33 45h1v1h-1zM35 45h1v1h-1zM42 45h1v1h-1zM17 46h1v1h-1zM23 46h1v1h-1zM28 46h1v1h-1zM37 46h1v1h-1z"/><path fill="#adf36b" d="M21 26h1v1h-1zM10 29h1v1h-1zM21 41h1v1h-1zM21 46h1v1h-1zM22 47h1v1h-1z"/><path fill="#e0f442" d="M3 29h1v1h-1zM7 29h1v1h-1zM3 44h1v1h-1zM3 45h1v1h-1z"/><path fill="#bef35a" d="M16 29h1v1h-1zM22 29h1v1h-1zM16 41h1v1h-1zM16 42h1v1h-1zM21 45h1v1h-1zM16 46h1v1h-1z"/><path fill="#f2d312" d="M28 29h1v1h-1zM34 45h1v1h-1z"/><path fill="#b1f471" d="M3 37h1v1h-1zM3 46h1v1h-1zM7 46h1v1h-1z"/><path fill="#f3e725" d="M22 41h1v1h-1z"/><path fill="#dcf228" d="M28 41h2v1h-2zM41 41h1v1h-1zM31 44h1v1h-1zM36 44h2v1h-2zM41 44h1v1h-1zM0 45h1v1h-1zM13 45h1v1h-1zM23 45h1v1h-1zM25 45h1v1h-1zM30 45h1v1h-1zM38 45h2v1h-2zM39 46h1v1h-1z"/><path fill="#f3b525" d="M22 42h1v1h-1zM22 43h1v1h-1z"/><path fill="#f3c625" d="M22 44h1v1h-1z"/><path fill="#f2e512" d="M28 44h1v1h-1zM29 45h1v1h-1zM31 45h1v1h-1zM41 45h1v1h-1z"/><path fill="#eef216" d="M35 44h1v1h-1zM6 45h1v1h-1zM12 45h1v1h-1zM14 45h1v1h-1zM19 45h1v1h-1zM32 45h1v1h-1zM37 45h1v1h-1zM40 45h1v1h-1z"/><path fill="#f0f432" d="M7 45h1v1h-1z"/><path fill="#f3d625" d="M22 45h1v1h-1z"/><path fill="#f2c112" d="M28 45h1v1h-1z"/></g></g><g filter="url(#lblur)"><rect x="604" y="298.0" width="295.70000000000005" height="1.6" fill="#94f270" opacity="0.8"/><rect x="604" y="319.4" width="295.70000000000005" height="2.0" fill="#9aa848" opacity="0.6"/><rect x="604" y="326.0" width="295.70000000000005" height="5.0" fill="#aff255" opacity="0.45"/></g></g><rect x="604" y="266.8" width="295.70000000000005" height="104.19999999999999" fill="none" stroke="#222" stroke-width="1.1"/><path d="M620.7 371v-3M620.7 266.8v3M699 371v-3M699 266.8v3M778.3 371v-3M778.3 266.8v3M856.7 371v-3M856.7 266.8v3M604 281.2h3M899.7 281.2h-3M604 330h3M899.7 330h-3" stroke="#222" stroke-width="1"/><ellipse cx="697" cy="319.7" rx="5.8" ry="51.6" fill="none" stroke="#d42a18" stroke-width="2.2"/><linearGradient id="cb3" x1="0" y1="0" x2="0" y2="1"><stop offset="0.000" stop-color="#800505"/><stop offset="0.062" stop-color="#bd0505"/><stop offset="0.125" stop-color="#fa0505"/><stop offset="0.188" stop-color="#fa4205"/><stop offset="0.250" stop-color="#fa8005"/><stop offset="0.312" stop-color="#fabd05"/><stop offset="0.375" stop-color="#fafa05"/><stop offset="0.438" stop-color="#bdfa42"/><stop offset="0.500" stop-color="#80fa80"/><stop offset="0.562" stop-color="#42fabd"/><stop offset="0.625" stop-color="#05fafa"/><stop offset="0.688" stop-color="#05bdfa"/><stop offset="0.750" stop-color="#0580fa"/><stop offset="0.812" stop-color="#0542fa"/><stop offset="0.875" stop-color="#0505fa"/><stop offset="0.938" stop-color="#0505bd"/><stop offset="1.000" stop-color="#050580"/></linearGradient><rect x="917" y="266.5" width="21.1" height="104.8" fill="url(#cb3)" stroke="#1a1a1a" stroke-width="1"/><clipPath id="c4"><rect x="604" y="453.6" width="295.9" height="104.2"/></clipPath><filter id="f4" x="0" y="0" width="1" height="1"><feGaussianBlur stdDeviation="0.9" edgeMode="duplicate"/></filter><g clip-path="url(#c4)"><g filter="url(#f4)"><rect x="604" y="453.6" width="295.9" height="104.2" fill="#3af2ca"/><g transform="translate(604 453.6) scale(7 2.2)"><path fill="#12d3f2" d="M0 0h1v1h-1zM36 0h1v1h-1zM11 1h1v1h-1zM28 1h1v1h-1zM35 1h1v1h-1zM41 1h1v1h-1zM36 11h1v1h-1zM28 15h1v1h-1zM1 16h1v1h-1zM14 18h1v1h-1zM24 18h1v1h-1zM28 18h1v1h-1zM42 18h1v1h-1zM34 22h1v1h-1zM29 35h1v1h-1z"/><path fill="#16f2ee" d="M1 0h1v1h-1zM14 0h1v1h-1zM27 0h1v1h-1zM31 0h1v1h-1zM33 0h1v1h-1zM37 0h1v1h-1zM40 0h1v1h-1zM1 1h1v1h-1zM3 1h1v1h-1zM10 1h1v1h-1zM27 1h1v1h-1zM31 1h1v1h-1zM36 1h1v1h-1zM28 3h1v1h-1zM35 3h1v1h-1zM4 4h1v1h-1zM27 4h2v1h-2zM0 6h1v1h-1zM29 6h1v1h-1zM33 6h1v1h-1zM37 6h1v1h-1zM39 6h3v1h-3zM39 7h1v1h-1zM32 9h1v1h-1zM35 9h1v1h-1zM39 9h2v1h-2zM3 10h1v1h-1zM34 10h1v1h-1zM39 10h2v1h-2zM42 10h1v1h-1zM27 11h1v1h-1zM34 11h1v1h-1zM42 11h1v1h-1zM3 13h1v1h-1zM12 13h1v1h-1zM31 13h2v1h-2zM39 13h3v1h-3zM1 14h1v1h-1zM4 14h1v1h-1zM24 14h1v1h-1zM41 14h1v1h-1zM0 15h1v1h-1zM29 15h1v1h-1zM32 15h1v1h-1zM35 15h1v1h-1zM38 15h1v1h-1zM40 15h1v1h-1zM4 16h1v1h-1zM11 16h2v1h-2zM29 16h2v1h-2zM40 16h1v1h-1zM27 17h1v1h-1zM0 18h2v1h-2zM11 18h1v1h-1zM19 18h1v1h-1zM31 18h2v1h-2zM34 18h1v1h-1zM38 18h1v1h-1zM40 18h1v1h-1zM35 19h2v1h-2zM38 19h1v1h-1zM41 19h1v1h-1zM0 22h1v1h-1zM28 22h4v1h-4zM33 22h1v1h-1zM38 22h1v1h-1zM40 22h1v1h-1zM38 32h1v1h-1zM0 35h1v1h-1zM2 35h1v1h-1zM4 35h1v1h-1zM32 35h1v1h-1zM35 38h1v1h-1z"/><path fill="#28f2dc" d="M2 0h4v1h-4zM10 0h1v1h-1zM26 0h1v1h-1zM28 0h3v1h-3zM35 0h1v1h-1zM42 0h1v1h-1zM2 1h1v1h-1zM5 1h1v1h-1zM14 1h1v1h-1zM29 1h1v1h-1zM33 1h2v1h-2zM42 1h1v1h-1zM0 3h1v1h-1zM29 3h1v1h-1zM24 4h1v1h-1zM37 4h6v1h-6zM35 5h1v1h-1zM13 6h1v1h-1zM28 6h1v1h-1zM42 6h1v1h-1zM32 7h1v1h-1zM35 7h1v1h-1zM4 8h1v1h-1zM25 9h1v1h-1zM28 9h1v1h-1zM36 9h1v1h-1zM0 10h1v1h-1zM11 10h2v1h-2zM24 10h1v1h-1zM30 10h2v1h-2zM37 10h2v1h-2zM41 10h1v1h-1zM0 11h1v1h-1zM11 11h2v1h-2zM14 11h1v1h-1zM22 11h1v1h-1zM25 11h1v1h-1zM37 11h1v1h-1zM2 13h1v1h-1zM4 13h1v1h-1zM11 13h1v1h-1zM13 13h1v1h-1zM15 13h1v1h-1zM27 13h2v1h-2zM33 13h3v1h-3zM37 13h1v1h-1zM0 14h1v1h-1zM2 14h2v1h-2zM11 14h1v1h-1zM14 14h1v1h-1zM28 14h1v1h-1zM30 14h1v1h-1zM34 14h1v1h-1zM36 14h1v1h-1zM39 14h2v1h-2zM1 15h1v1h-1zM12 15h1v1h-1zM14 15h1v1h-1zM36 15h1v1h-1zM25 16h1v1h-1zM27 16h1v1h-1zM32 16h2v1h-2zM36 16h1v1h-1zM4 18h1v1h-1zM10 18h1v1h-1zM22 18h1v1h-1zM25 18h1v1h-1zM33 18h1v1h-1zM36 18h1v1h-1zM41 18h1v1h-1zM1 19h1v1h-1zM3 19h1v1h-1zM28 19h1v1h-1zM30 19h1v1h-1zM39 19h2v1h-2zM42 19h1v1h-1zM29 21h1v1h-1zM1 22h1v1h-1zM4 22h1v1h-1zM11 22h1v1h-1zM23 22h1v1h-1zM27 22h1v1h-1zM36 22h1v1h-1zM4 24h1v1h-1zM34 24h1v1h-1zM40 24h1v1h-1zM1 26h1v1h-1zM14 26h1v1h-1zM4 29h1v1h-1zM36 29h1v1h-1zM0 32h1v1h-1zM11 32h1v1h-1zM28 32h1v1h-1zM40 32h1v1h-1zM3 35h1v1h-1zM12 35h1v1h-1zM14 35h1v1h-1zM24 35h1v1h-1zM34 35h1v1h-1zM36 35h2v1h-2zM42 35h1v1h-1zM1 36h1v1h-1zM3 36h1v1h-1zM28 36h2v1h-2zM35 36h1v1h-1zM39 36h1v1h-1zM10 38h1v1h-1zM28 38h1v1h-1zM39 38h1v1h-1z"/><path fill="#3af2ca" d="M6 0h1v1h-1zM13 0h1v1h-1zM19 0h1v1h-1zM22 0h1v1h-1zM25 0h1v1h-1zM32 0h1v1h-1zM4 1h1v1h-1zM6 1h1v1h-1zM15 1h2v1h-2zM19 1h1v1h-1zM24 1h1v1h-1zM26 1h1v1h-1zM32 1h1v1h-1zM38 1h1v1h-1zM35 2h1v1h-1zM2 3h2v1h-2zM30 3h1v1h-1zM33 3h2v1h-2zM37 3h4v1h-4zM42 3h1v1h-1zM0 4h2v1h-2zM3 4h1v1h-1zM6 4h1v1h-1zM12 4h3v1h-3zM19 4h1v1h-1zM25 4h1v1h-1zM29 4h1v1h-1zM31 4h3v1h-3zM35 4h2v1h-2zM3 5h1v1h-1zM11 5h3v1h-3zM33 5h1v1h-1zM37 5h1v1h-1zM40 5h1v1h-1zM1 6h1v1h-1zM3 6h1v1h-1zM12 6h1v1h-1zM14 6h2v1h-2zM30 6h1v1h-1zM32 6h1v1h-1zM34 6h3v1h-3zM38 6h1v1h-1zM0 7h1v1h-1zM28 7h1v1h-1zM41 7h1v1h-1zM1 8h2v1h-2zM14 8h1v1h-1zM28 8h1v1h-1zM30 8h1v1h-1zM33 8h1v1h-1zM37 8h1v1h-1zM39 8h1v1h-1zM0 9h1v1h-1zM3 9h1v1h-1zM29 9h1v1h-1zM34 9h1v1h-1zM37 9h1v1h-1zM1 10h1v1h-1zM13 10h2v1h-2zM19 10h2v1h-2zM26 10h1v1h-1zM29 10h1v1h-1zM33 10h1v1h-1zM35 10h1v1h-1zM2 11h1v1h-1zM4 11h1v1h-1zM24 11h1v1h-1zM31 11h1v1h-1zM28 12h1v1h-1zM0 13h1v1h-1zM10 13h1v1h-1zM14 13h1v1h-1zM23 13h3v1h-3zM29 13h2v1h-2zM36 13h1v1h-1zM38 13h1v1h-1zM29 14h1v1h-1zM32 14h2v1h-2zM35 14h1v1h-1zM37 14h2v1h-2zM3 15h2v1h-2zM6 15h1v1h-1zM11 15h1v1h-1zM24 15h2v1h-2zM27 15h1v1h-1zM31 15h1v1h-1zM33 15h1v1h-1zM37 15h1v1h-1zM0 16h1v1h-1zM2 16h1v1h-1zM10 16h1v1h-1zM15 16h1v1h-1zM19 16h2v1h-2zM31 16h1v1h-1zM34 16h1v1h-1zM37 16h2v1h-2zM42 16h1v1h-1zM32 17h1v1h-1zM2 18h1v1h-1zM20 18h1v1h-1zM23 18h1v1h-1zM26 18h2v1h-2zM11 19h1v1h-1zM31 19h2v1h-2zM37 19h1v1h-1zM10 21h1v1h-1zM30 21h1v1h-1zM32 21h1v1h-1zM35 21h1v1h-1zM2 22h2v1h-2zM12 22h1v1h-1zM14 22h2v1h-2zM22 22h1v1h-1zM26 22h1v1h-1zM0 24h1v1h-1zM13 24h1v1h-1zM28 24h1v1h-1zM32 24h1v1h-1zM41 24h1v1h-1zM41 25h1v1h-1zM12 26h1v1h-1zM28 26h1v1h-1zM32 26h1v1h-1zM39 26h1v1h-1zM0 29h1v1h-1zM12 29h1v1h-1zM28 29h1v1h-1zM39 29h1v1h-1zM41 29h1v1h-1zM0 30h1v1h-1zM13 31h1v1h-1zM28 31h1v1h-1zM35 31h1v1h-1zM15 32h1v1h-1zM32 32h1v1h-1zM41 32h1v1h-1zM3 33h1v1h-1zM12 33h1v1h-1zM35 33h1v1h-1zM41 33h1v1h-1zM1 35h1v1h-1zM10 35h2v1h-2zM13 35h1v1h-1zM19 35h1v1h-1zM30 35h1v1h-1zM38 35h4v1h-4zM10 36h3v1h-3zM15 36h1v1h-1zM23 36h2v1h-2zM27 36h1v1h-1zM34 36h1v1h-1zM36 36h1v1h-1zM40 36h1v1h-1zM42 36h1v1h-1zM0 38h1v1h-1zM3 38h1v1h-1zM11 38h1v1h-1zM22 38h1v1h-1zM25 38h1v1h-1zM32 38h1v1h-1zM34 38h1v1h-1zM41 38h1v1h-1zM11 44h1v1h-1zM27 44h2v1h-2zM34 44h2v1h-2zM41 46h1v1h-1z"/><path fill="#f2e512" d="M7 0h1v1h-1zM7 1h1v1h-1zM7 2h1v1h-1zM7 8h1v1h-1zM7 9h1v1h-1zM7 10h1v1h-1zM17 12h1v1h-1zM7 13h1v1h-1zM17 13h1v1h-1zM7 14h1v1h-1zM17 14h1v1h-1zM7 17h1v1h-1zM7 20h1v1h-1zM7 23h1v1h-1zM7 24h1v1h-1zM7 25h1v1h-1zM17 30h1v1h-1zM17 32h1v1h-1zM7 40h1v1h-1zM30 40h1v1h-1zM7 41h1v1h-1zM7 43h1v1h-1zM15 43h2v1h-2zM22 43h1v1h-1zM7 45h1v1h-1zM16 45h1v1h-1zM7 46h1v1h-1zM7 47h1v1h-1z"/><path fill="#94f270" d="M8 0h1v1h-1zM8 1h2v1h-2zM9 2h3v1h-3zM19 2h2v1h-2zM22 2h1v1h-1zM25 2h2v1h-2zM8 3h2v1h-2zM9 4h1v1h-1zM23 4h1v1h-1zM6 5h1v1h-1zM8 5h2v1h-2zM16 5h1v1h-1zM26 5h1v1h-1zM16 6h1v1h-1zM23 6h1v1h-1zM15 7h1v1h-1zM5 8h1v1h-1zM8 8h2v1h-2zM19 8h1v1h-1zM5 9h1v1h-1zM9 9h1v1h-1zM8 10h1v1h-1zM16 10h1v1h-1zM8 11h2v1h-2zM4 12h1v1h-1zM8 12h1v1h-1zM11 12h1v1h-1zM19 12h1v1h-1zM23 12h1v1h-1zM29 12h1v1h-1zM42 12h1v1h-1zM9 13h1v1h-1zM9 15h1v1h-1zM16 15h1v1h-1zM22 15h1v1h-1zM8 16h2v1h-2zM6 17h1v1h-1zM10 17h1v1h-1zM20 17h1v1h-1zM25 17h1v1h-1zM29 17h1v1h-1zM9 18h1v1h-1zM8 19h2v1h-2zM2 20h1v1h-1zM9 20h1v1h-1zM11 20h1v1h-1zM24 20h1v1h-1zM31 20h1v1h-1zM40 20h1v1h-1zM19 21h2v1h-2zM22 21h2v1h-2zM25 21h1v1h-1zM33 21h1v1h-1zM10 23h1v1h-1zM22 23h1v1h-1zM24 23h2v1h-2zM27 23h1v1h-1zM29 23h1v1h-1zM33 23h1v1h-1zM36 23h2v1h-2zM39 23h2v1h-2zM42 23h1v1h-1zM5 24h1v1h-1zM15 24h1v1h-1zM22 24h1v1h-1zM6 25h1v1h-1zM20 25h1v1h-1zM33 25h1v1h-1zM40 25h1v1h-1zM10 26h1v1h-1zM15 26h1v1h-1zM19 26h1v1h-1zM22 26h1v1h-1zM33 26h1v1h-1zM10 27h1v1h-1zM13 27h1v1h-1zM22 27h1v1h-1zM26 27h6v1h-6zM39 27h1v1h-1zM14 28h1v1h-1zM23 28h1v1h-1zM16 29h1v1h-1zM19 29h1v1h-1zM22 29h1v1h-1zM1 30h1v1h-1zM13 30h1v1h-1zM20 30h1v1h-1zM24 30h1v1h-1zM29 30h2v1h-2zM41 30h1v1h-1zM1 31h1v1h-1zM16 31h1v1h-1zM19 31h1v1h-1zM23 31h1v1h-1zM26 31h1v1h-1zM6 33h1v1h-1zM16 33h1v1h-1zM20 33h1v1h-1zM25 33h1v1h-1zM27 33h1v1h-1zM2 34h1v1h-1zM11 34h1v1h-1zM13 34h1v1h-1zM20 34h1v1h-1zM24 34h1v1h-1zM33 34h1v1h-1zM40 34h1v1h-1zM19 36h1v1h-1zM26 36h1v1h-1zM0 37h1v1h-1zM4 37h1v1h-1zM11 37h1v1h-1zM26 37h2v1h-2zM30 37h1v1h-1zM33 37h1v1h-1zM38 37h1v1h-1zM40 37h1v1h-1zM5 38h1v1h-1zM1 39h1v1h-1zM3 39h1v1h-1zM12 39h1v1h-1zM28 39h1v1h-1zM39 39h2v1h-2zM39 40h1v1h-1zM0 41h1v1h-1zM3 41h1v1h-1zM11 41h1v1h-1zM14 41h1v1h-1zM24 41h2v1h-2zM29 41h2v1h-2zM33 41h1v1h-1zM36 41h2v1h-2zM39 41h2v1h-2zM4 42h1v1h-1zM11 42h1v1h-1zM24 42h1v1h-1zM28 42h2v1h-2zM33 42h1v1h-1zM37 42h1v1h-1zM24 43h1v1h-1zM34 43h1v1h-1zM5 44h1v1h-1zM8 44h1v1h-1zM15 44h1v1h-1zM19 44h1v1h-1zM22 44h1v1h-1zM24 44h1v1h-1zM31 44h1v1h-1zM24 45h1v1h-1zM28 45h1v1h-1zM31 45h1v1h-1zM33 45h1v1h-1zM35 45h1v1h-1zM37 45h1v1h-1zM39 45h1v1h-1zM42 45h1v1h-1zM6 46h1v1h-1zM9 46h2v1h-2zM20 46h1v1h-1zM23 46h2v1h-2zM26 46h1v1h-1zM40 46h1v1h-1zM0 47h1v1h-1zM4 47h1v1h-1zM14 47h1v1h-1zM39 47h1v1h-1z"/><path fill="#a6f25e" d="M9 0h1v1h-1zM5 2h2v1h-2zM8 4h1v1h-1zM15 5h1v1h-1zM22 5h1v1h-1zM9 7h1v1h-1zM16 7h1v1h-1zM26 7h1v1h-1zM16 8h2v1h-2zM9 10h1v1h-1zM6 12h1v1h-1zM26 12h2v1h-2zM8 13h1v1h-1zM8 17h1v1h-1zM15 17h1v1h-1zM4 20h1v1h-1zM13 20h1v1h-1zM25 20h1v1h-1zM27 20h1v1h-1zM30 20h1v1h-1zM33 20h1v1h-1zM41 20h1v1h-1zM6 21h1v1h-1zM38 21h1v1h-1zM0 23h2v1h-2zM15 23h1v1h-1zM23 23h1v1h-1zM30 23h2v1h-2zM6 24h1v1h-1zM2 25h1v1h-1zM10 25h1v1h-1zM15 25h1v1h-1zM19 25h1v1h-1zM26 25h1v1h-1zM32 25h1v1h-1zM5 26h2v1h-2zM20 26h1v1h-1zM23 26h1v1h-1zM38 26h1v1h-1zM3 27h1v1h-1zM23 27h1v1h-1zM32 27h1v1h-1zM36 27h2v1h-2zM41 27h2v1h-2zM5 28h2v1h-2zM16 28h1v1h-1zM5 30h1v1h-1zM15 30h1v1h-1zM19 30h1v1h-1zM23 30h1v1h-1zM26 30h1v1h-1zM36 30h1v1h-1zM40 33h1v1h-1zM6 34h1v1h-1zM10 34h1v1h-1zM15 34h1v1h-1zM23 34h1v1h-1zM41 34h2v1h-2zM10 37h1v1h-1zM13 37h1v1h-1zM25 37h1v1h-1zM28 37h2v1h-2zM32 37h1v1h-1zM36 37h1v1h-1zM16 38h1v1h-1zM11 39h1v1h-1zM13 39h2v1h-2zM27 39h1v1h-1zM29 39h1v1h-1zM32 39h1v1h-1zM34 39h1v1h-1zM41 39h1v1h-1zM14 40h1v1h-1zM34 40h3v1h-3zM2 41h1v1h-1zM10 41h1v1h-1zM26 41h1v1h-1zM41 41h1v1h-1zM8 42h1v1h-1zM10 42h1v1h-1zM13 42h1v1h-1zM19 42h1v1h-1zM22 42h1v1h-1zM36 42h1v1h-1zM40 42h1v1h-1zM9 43h1v1h-1zM14 43h1v1h-1zM29 43h1v1h-1zM35 43h2v1h-2zM9 44h2v1h-2zM16 44h1v1h-1zM4 45h1v1h-1zM8 45h1v1h-1zM10 45h1v1h-1zM14 45h1v1h-1zM23 45h1v1h-1zM26 45h2v1h-2zM30 45h1v1h-1zM34 45h1v1h-1zM40 45h1v1h-1zM5 46h1v1h-1zM16 46h1v1h-1zM3 47h1v1h-1zM5 47h1v1h-1zM13 47h1v1h-1zM18 47h1v1h-1zM24 47h1v1h-1zM30 47h1v1h-1zM37 47h1v1h-1zM41 47h2v1h-2z"/><path fill="#12e5f2" d="M11 0h2v1h-2zM34 0h1v1h-1zM39 0h1v1h-1zM0 1h1v1h-1zM37 1h1v1h-1zM39 1h2v1h-2zM34 4h1v1h-1zM4 10h1v1h-1zM28 10h1v1h-1zM32 10h1v1h-1zM1 11h1v1h-1zM3 11h1v1h-1zM30 11h1v1h-1zM35 11h1v1h-1zM38 11h4v1h-4zM1 13h1v1h-1zM31 14h1v1h-1zM2 15h1v1h-1zM41 15h1v1h-1zM3 16h1v1h-1zM13 16h2v1h-2zM24 16h1v1h-1zM35 16h1v1h-1zM39 16h1v1h-1zM41 16h1v1h-1zM3 18h1v1h-1zM12 18h1v1h-1zM29 18h2v1h-2zM37 18h1v1h-1zM39 21h1v1h-1zM25 22h1v1h-1zM35 22h1v1h-1zM39 22h1v1h-1zM28 35h1v1h-1zM35 35h1v1h-1zM33 38h1v1h-1zM40 38h1v1h-1z"/><path fill="#4cf2b8" d="M15 0h1v1h-1zM20 0h1v1h-1zM23 0h2v1h-2zM38 0h1v1h-1zM12 1h2v1h-2zM20 1h1v1h-1zM25 1h1v1h-1zM14 2h1v1h-1zM27 2h1v1h-1zM30 2h1v1h-1zM27 3h1v1h-1zM32 3h1v1h-1zM36 3h1v1h-1zM10 4h1v1h-1zM22 4h1v1h-1zM30 4h1v1h-1zM0 5h1v1h-1zM14 5h1v1h-1zM19 5h1v1h-1zM28 5h4v1h-4zM42 5h1v1h-1zM2 6h1v1h-1zM11 6h1v1h-1zM22 6h1v1h-1zM24 6h2v1h-2zM27 6h1v1h-1zM31 6h1v1h-1zM1 7h1v1h-1zM3 7h1v1h-1zM14 7h1v1h-1zM31 7h1v1h-1zM36 7h1v1h-1zM40 7h1v1h-1zM13 8h1v1h-1zM24 8h1v1h-1zM32 8h1v1h-1zM24 9h1v1h-1zM27 9h1v1h-1zM30 9h2v1h-2zM38 9h1v1h-1zM2 10h1v1h-1zM6 10h1v1h-1zM22 10h1v1h-1zM25 10h1v1h-1zM27 10h1v1h-1zM10 11h1v1h-1zM13 11h1v1h-1zM19 11h2v1h-2zM23 11h1v1h-1zM26 11h1v1h-1zM32 11h1v1h-1zM34 12h2v1h-2zM39 12h1v1h-1zM22 13h1v1h-1zM5 14h1v1h-1zM13 14h1v1h-1zM20 14h1v1h-1zM25 14h1v1h-1zM27 14h1v1h-1zM42 14h1v1h-1zM15 15h1v1h-1zM19 15h2v1h-2zM23 15h1v1h-1zM30 15h1v1h-1zM34 15h1v1h-1zM39 15h1v1h-1zM5 16h1v1h-1zM22 16h1v1h-1zM28 17h1v1h-1zM31 17h1v1h-1zM35 17h1v1h-1zM40 17h2v1h-2zM5 18h1v1h-1zM13 18h1v1h-1zM15 18h1v1h-1zM0 19h1v1h-1zM2 19h1v1h-1zM4 19h1v1h-1zM14 19h1v1h-1zM24 19h4v1h-4zM29 19h1v1h-1zM33 19h2v1h-2zM1 21h3v1h-3zM12 21h1v1h-1zM28 21h1v1h-1zM34 21h1v1h-1zM40 21h1v1h-1zM5 22h2v1h-2zM10 22h1v1h-1zM13 22h1v1h-1zM19 22h2v1h-2zM24 22h1v1h-1zM37 22h1v1h-1zM42 22h1v1h-1zM1 24h1v1h-1zM12 24h1v1h-1zM14 24h1v1h-1zM23 24h1v1h-1zM27 24h1v1h-1zM35 24h1v1h-1zM38 24h2v1h-2zM42 24h1v1h-1zM35 25h1v1h-1zM13 26h1v1h-1zM32 28h1v1h-1zM41 28h1v1h-1zM11 29h1v1h-1zM14 29h1v1h-1zM26 29h2v1h-2zM30 29h1v1h-1zM35 29h1v1h-1zM40 29h1v1h-1zM14 31h1v1h-1zM24 31h1v1h-1zM37 31h1v1h-1zM41 31h1v1h-1zM3 32h2v1h-2zM10 32h1v1h-1zM14 32h1v1h-1zM22 32h1v1h-1zM29 32h3v1h-3zM33 32h3v1h-3zM39 32h1v1h-1zM42 32h1v1h-1zM1 33h1v1h-1zM11 33h1v1h-1zM14 33h1v1h-1zM24 33h1v1h-1zM28 33h1v1h-1zM30 33h1v1h-1zM33 33h1v1h-1zM42 33h1v1h-1zM36 34h1v1h-1zM39 34h1v1h-1zM6 35h1v1h-1zM22 35h2v1h-2zM25 35h1v1h-1zM27 35h1v1h-1zM31 35h1v1h-1zM33 35h1v1h-1zM0 36h1v1h-1zM13 36h1v1h-1zM25 36h1v1h-1zM30 36h1v1h-1zM32 36h1v1h-1zM37 36h2v1h-2zM41 36h1v1h-1zM12 38h3v1h-3zM27 38h1v1h-1zM29 38h2v1h-2zM36 38h2v1h-2zM12 44h1v1h-1zM29 44h1v1h-1zM38 46h1v1h-1z"/><path fill="#5ef2a6" d="M16 0h1v1h-1zM0 2h1v1h-1zM12 2h1v1h-1zM28 2h1v1h-1zM37 2h3v1h-3zM4 3h1v1h-1zM10 3h5v1h-5zM19 3h1v1h-1zM23 3h3v1h-3zM31 3h1v1h-1zM5 4h1v1h-1zM11 4h1v1h-1zM16 4h1v1h-1zM4 5h1v1h-1zM24 5h1v1h-1zM27 5h1v1h-1zM32 5h1v1h-1zM34 5h1v1h-1zM36 5h1v1h-1zM39 5h1v1h-1zM4 6h1v1h-1zM6 6h1v1h-1zM19 6h1v1h-1zM4 7h1v1h-1zM25 7h1v1h-1zM27 7h1v1h-1zM30 7h1v1h-1zM37 7h2v1h-2zM0 8h1v1h-1zM3 8h1v1h-1zM15 8h1v1h-1zM20 8h1v1h-1zM26 8h2v1h-2zM29 8h1v1h-1zM31 8h1v1h-1zM34 8h3v1h-3zM38 8h1v1h-1zM40 8h2v1h-2zM2 9h1v1h-1zM10 9h2v1h-2zM13 9h2v1h-2zM23 9h1v1h-1zM41 9h2v1h-2zM5 10h1v1h-1zM5 11h2v1h-2zM15 11h2v1h-2zM33 11h1v1h-1zM5 13h2v1h-2zM16 13h1v1h-1zM19 13h2v1h-2zM42 13h1v1h-1zM6 14h1v1h-1zM10 14h1v1h-1zM12 14h1v1h-1zM15 14h1v1h-1zM19 14h1v1h-1zM23 14h1v1h-1zM5 15h1v1h-1zM10 15h1v1h-1zM13 15h1v1h-1zM26 15h1v1h-1zM6 16h1v1h-1zM16 16h1v1h-1zM5 17h1v1h-1zM11 17h1v1h-1zM14 17h1v1h-1zM30 17h1v1h-1zM38 17h2v1h-2zM16 18h1v1h-1zM6 19h1v1h-1zM10 19h1v1h-1zM12 19h2v1h-2zM15 19h1v1h-1zM22 19h2v1h-2zM34 20h2v1h-2zM11 21h1v1h-1zM13 21h1v1h-1zM24 21h1v1h-1zM27 21h1v1h-1zM31 21h1v1h-1zM14 23h1v1h-1zM2 24h1v1h-1zM10 24h2v1h-2zM24 24h1v1h-1zM29 24h1v1h-1zM33 24h1v1h-1zM36 24h1v1h-1zM3 25h1v1h-1zM11 25h1v1h-1zM25 25h1v1h-1zM28 25h1v1h-1zM30 25h1v1h-1zM3 26h1v1h-1zM11 26h1v1h-1zM24 26h1v1h-1zM31 26h1v1h-1zM35 26h1v1h-1zM40 26h2v1h-2zM0 28h2v1h-2zM3 28h1v1h-1zM13 28h1v1h-1zM37 28h4v1h-4zM42 28h1v1h-1zM2 29h1v1h-1zM10 29h1v1h-1zM32 29h1v1h-1zM34 29h1v1h-1zM37 29h1v1h-1zM10 30h1v1h-1zM12 30h1v1h-1zM28 30h1v1h-1zM35 30h1v1h-1zM3 31h2v1h-2zM10 31h1v1h-1zM12 31h1v1h-1zM27 31h1v1h-1zM29 31h1v1h-1zM31 31h1v1h-1zM34 31h1v1h-1zM36 31h1v1h-1zM1 32h2v1h-2zM13 32h1v1h-1zM19 32h1v1h-1zM23 32h2v1h-2zM27 32h1v1h-1zM36 32h2v1h-2zM0 33h1v1h-1zM2 33h1v1h-1zM4 33h1v1h-1zM10 33h1v1h-1zM13 33h1v1h-1zM15 33h1v1h-1zM19 33h1v1h-1zM22 33h2v1h-2zM26 33h1v1h-1zM34 33h1v1h-1zM37 33h1v1h-1zM28 34h1v1h-1zM31 34h1v1h-1zM35 34h1v1h-1zM37 34h2v1h-2zM5 35h1v1h-1zM15 35h1v1h-1zM26 35h1v1h-1zM6 36h1v1h-1zM22 36h1v1h-1zM33 36h1v1h-1zM2 38h1v1h-1zM4 38h1v1h-1zM15 38h1v1h-1zM19 38h1v1h-1zM24 38h1v1h-1zM31 38h1v1h-1zM42 38h1v1h-1zM4 41h1v1h-1zM1 44h1v1h-1zM3 44h1v1h-1zM25 44h1v1h-1zM32 44h1v1h-1zM36 44h1v1h-1zM38 44h2v1h-2zM3 45h1v1h-1zM11 45h1v1h-1zM18 45h1v1h-1zM3 46h1v1h-1zM11 46h1v1h-1zM28 46h1v1h-1zM33 46h1v1h-1zM35 46h1v1h-1z"/><path fill="#dcf228" d="M17 0h1v1h-1zM17 2h1v1h-1zM17 5h1v1h-1zM7 6h1v1h-1zM17 7h1v1h-1zM7 12h1v1h-1zM22 12h1v1h-1zM17 16h1v1h-1zM26 17h1v1h-1zM7 19h1v1h-1zM17 19h1v1h-1zM17 20h1v1h-1zM7 21h1v1h-1zM26 21h1v1h-1zM5 23h1v1h-1zM17 25h1v1h-1zM7 27h1v1h-1zM15 27h1v1h-1zM24 27h1v1h-1zM7 32h1v1h-1zM7 33h1v1h-1zM7 36h1v1h-1zM5 37h1v1h-1zM15 37h1v1h-1zM42 37h1v1h-1zM6 39h1v1h-1zM22 39h2v1h-2zM26 39h1v1h-1zM13 40h1v1h-1zM19 40h1v1h-1zM23 40h1v1h-1zM25 40h1v1h-1zM29 40h1v1h-1zM31 40h1v1h-1zM37 40h1v1h-1zM15 41h1v1h-1zM23 42h1v1h-1zM26 42h1v1h-1zM1 43h1v1h-1zM3 43h1v1h-1zM10 43h1v1h-1zM33 43h1v1h-1zM37 43h1v1h-1zM17 44h1v1h-1zM6 45h1v1h-1zM17 45h1v1h-1zM17 46h1v1h-1zM6 47h1v1h-1z"/><path fill="#97c73e" d="M18 0h1v1h-1zM18 1h1v1h-1zM18 2h1v1h-1zM18 3h1v1h-1zM18 10h1v1h-1zM18 12h1v1h-1zM18 14h1v1h-1zM18 17h1v1h-1zM18 19h1v1h-1zM18 20h1v1h-1zM18 21h1v1h-1zM18 22h1v1h-1zM18 24h1v1h-1zM18 26h1v1h-1zM18 27h1v1h-1z"/><path fill="#5ef4bf" d="M21 0h1v1h-1zM21 13h1v1h-1zM21 22h1v1h-1z"/><path fill="#12c1f2" d="M41 0h1v1h-1zM30 1h1v1h-1zM36 10h1v1h-1zM28 11h1v1h-1zM35 18h1v1h-1zM39 18h1v1h-1zM32 22h1v1h-1zM41 22h1v1h-1z"/><path fill="#caf23a" d="M17 1h1v1h-1zM16 2h1v1h-1zM17 3h1v1h-1zM17 6h1v1h-1zM5 12h1v1h-1zM20 12h1v1h-1zM8 14h1v1h-1zM16 17h1v1h-1zM10 20h1v1h-1zM16 20h1v1h-1zM19 20h1v1h-1zM22 20h2v1h-2zM26 20h1v1h-1zM17 21h1v1h-1zM17 22h1v1h-1zM6 23h1v1h-1zM16 23h1v1h-1zM20 23h1v1h-1zM17 24h1v1h-1zM1 27h1v1h-1zM5 27h2v1h-2zM11 27h1v1h-1zM14 27h1v1h-1zM16 27h1v1h-1zM19 27h2v1h-2zM25 27h1v1h-1zM33 27h1v1h-1zM17 31h1v1h-1zM5 34h1v1h-1zM23 37h1v1h-1zM31 37h1v1h-1zM5 39h1v1h-1zM10 39h1v1h-1zM15 39h1v1h-1zM20 39h1v1h-1zM25 39h1v1h-1zM42 39h1v1h-1zM1 40h1v1h-1zM3 40h1v1h-1zM10 40h2v1h-2zM24 40h1v1h-1zM40 40h1v1h-1zM5 41h1v1h-1zM20 41h1v1h-1zM22 41h2v1h-2zM27 41h1v1h-1zM31 41h1v1h-1zM1 42h1v1h-1zM6 42h1v1h-1zM27 42h1v1h-1zM11 43h2v1h-2zM30 43h3v1h-3zM39 43h1v1h-1zM42 43h1v1h-1zM1 45h1v1h-1zM5 45h1v1h-1zM13 45h1v1h-1zM15 45h1v1h-1zM8 46h1v1h-1zM9 47h2v1h-2zM16 47h2v1h-2zM20 47h1v1h-1z"/><path fill="#7ef49f" d="M21 1h1v1h-1zM21 14h1v1h-1zM21 26h1v1h-1zM21 36h1v1h-1z"/><path fill="#70f294" d="M22 1h2v1h-2zM1 2h2v1h-2zM4 2h1v1h-1zM13 2h1v1h-1zM23 2h2v1h-2zM31 2h4v1h-4zM36 2h1v1h-1zM40 2h3v1h-3zM1 3h1v1h-1zM6 3h1v1h-1zM15 3h1v1h-1zM20 3h1v1h-1zM26 3h1v1h-1zM41 3h1v1h-1zM2 4h1v1h-1zM15 4h1v1h-1zM26 4h1v1h-1zM1 5h1v1h-1zM10 5h1v1h-1zM20 5h1v1h-1zM23 5h1v1h-1zM38 5h1v1h-1zM41 5h1v1h-1zM10 6h1v1h-1zM20 6h1v1h-1zM26 6h1v1h-1zM2 7h1v1h-1zM5 7h2v1h-2zM8 7h1v1h-1zM10 7h3v1h-3zM33 7h2v1h-2zM42 7h1v1h-1zM6 8h1v1h-1zM10 8h3v1h-3zM22 8h1v1h-1zM25 8h1v1h-1zM1 9h1v1h-1zM4 9h1v1h-1zM6 9h1v1h-1zM12 9h1v1h-1zM15 9h1v1h-1zM22 9h1v1h-1zM26 9h1v1h-1zM33 9h1v1h-1zM10 10h1v1h-1zM15 10h1v1h-1zM23 10h1v1h-1zM0 12h1v1h-1zM25 12h1v1h-1zM30 12h3v1h-3zM36 12h2v1h-2zM26 13h1v1h-1zM16 14h1v1h-1zM22 14h1v1h-1zM26 14h1v1h-1zM42 15h1v1h-1zM23 16h1v1h-1zM26 16h1v1h-1zM0 17h1v1h-1zM2 17h1v1h-1zM4 17h1v1h-1zM12 17h1v1h-1zM24 17h1v1h-1zM33 17h2v1h-2zM37 17h1v1h-1zM6 18h1v1h-1zM16 19h1v1h-1zM19 19h2v1h-2zM14 20h1v1h-1zM28 20h1v1h-1zM37 20h1v1h-1zM39 20h1v1h-1zM0 21h1v1h-1zM4 21h1v1h-1zM14 21h2v1h-2zM36 21h1v1h-1zM41 21h2v1h-2zM3 23h2v1h-2zM12 23h2v1h-2zM28 23h1v1h-1zM35 23h1v1h-1zM38 23h1v1h-1zM41 23h1v1h-1zM16 24h1v1h-1zM19 24h1v1h-1zM25 24h2v1h-2zM0 25h1v1h-1zM12 25h1v1h-1zM14 25h1v1h-1zM27 25h1v1h-1zM29 25h1v1h-1zM31 25h1v1h-1zM36 25h4v1h-4zM4 26h1v1h-1zM27 26h1v1h-1zM29 26h1v1h-1zM34 26h1v1h-1zM36 26h2v1h-2zM42 26h1v1h-1zM40 27h1v1h-1zM4 28h1v1h-1zM11 28h2v1h-2zM15 28h1v1h-1zM24 28h1v1h-1zM30 28h2v1h-2zM33 28h4v1h-4zM1 29h1v1h-1zM3 29h1v1h-1zM15 29h1v1h-1zM20 29h1v1h-1zM24 29h1v1h-1zM29 29h1v1h-1zM31 29h1v1h-1zM38 29h1v1h-1zM2 30h1v1h-1zM11 30h1v1h-1zM22 30h1v1h-1zM25 30h1v1h-1zM27 30h1v1h-1zM31 30h4v1h-4zM37 30h1v1h-1zM39 30h1v1h-1zM0 31h1v1h-1zM2 31h1v1h-1zM5 31h1v1h-1zM11 31h1v1h-1zM15 31h1v1h-1zM25 31h1v1h-1zM33 31h1v1h-1zM38 31h1v1h-1zM40 31h1v1h-1zM42 31h1v1h-1zM12 32h1v1h-1zM25 32h1v1h-1zM5 33h1v1h-1zM29 33h1v1h-1zM31 33h1v1h-1zM36 33h1v1h-1zM38 33h2v1h-2zM0 34h2v1h-2zM4 34h1v1h-1zM12 34h1v1h-1zM14 34h1v1h-1zM29 34h1v1h-1zM20 35h1v1h-1zM2 36h1v1h-1zM4 36h2v1h-2zM14 36h1v1h-1zM16 36h1v1h-1zM31 36h1v1h-1zM3 37h1v1h-1zM41 37h1v1h-1zM1 38h1v1h-1zM6 38h1v1h-1zM35 39h1v1h-1zM28 41h1v1h-1zM34 41h1v1h-1zM38 41h1v1h-1zM0 42h1v1h-1zM2 42h1v1h-1zM12 42h1v1h-1zM39 42h1v1h-1zM2 44h1v1h-1zM4 44h1v1h-1zM6 44h1v1h-1zM13 44h1v1h-1zM20 44h1v1h-1zM30 44h1v1h-1zM40 44h2v1h-2zM38 45h1v1h-1zM41 45h1v1h-1zM1 46h1v1h-1zM12 46h1v1h-1zM18 46h1v1h-1zM25 46h1v1h-1zM29 46h1v1h-1zM31 46h2v1h-2zM34 46h1v1h-1zM36 46h1v1h-1zM39 46h1v1h-1zM42 46h1v1h-1zM36 47h1v1h-1zM38 47h1v1h-1z"/><path fill="#82f282" d="M3 2h1v1h-1zM8 2h1v1h-1zM15 2h1v1h-1zM29 2h1v1h-1zM5 3h1v1h-1zM22 3h1v1h-1zM20 4h1v1h-1zM2 5h1v1h-1zM5 5h1v1h-1zM25 5h1v1h-1zM5 6h1v1h-1zM8 6h2v1h-2zM13 7h1v1h-1zM19 7h2v1h-2zM22 7h3v1h-3zM29 7h1v1h-1zM23 8h1v1h-1zM42 8h1v1h-1zM8 9h1v1h-1zM16 9h1v1h-1zM19 9h2v1h-2zM1 12h3v1h-3zM9 12h2v1h-2zM12 12h1v1h-1zM15 12h1v1h-1zM33 12h1v1h-1zM38 12h1v1h-1zM40 12h2v1h-2zM8 15h1v1h-1zM1 17h1v1h-1zM3 17h1v1h-1zM9 17h1v1h-1zM13 17h1v1h-1zM19 17h1v1h-1zM22 17h2v1h-2zM36 17h1v1h-1zM42 17h1v1h-1zM8 18h1v1h-1zM5 19h1v1h-1zM0 20h2v1h-2zM3 20h1v1h-1zM8 20h1v1h-1zM29 20h1v1h-1zM32 20h1v1h-1zM36 20h1v1h-1zM38 20h1v1h-1zM5 21h1v1h-1zM37 21h1v1h-1zM16 22h1v1h-1zM2 23h1v1h-1zM11 23h1v1h-1zM32 23h1v1h-1zM34 23h1v1h-1zM3 24h1v1h-1zM20 24h1v1h-1zM30 24h2v1h-2zM37 24h1v1h-1zM1 25h1v1h-1zM4 25h1v1h-1zM13 25h1v1h-1zM24 25h1v1h-1zM34 25h1v1h-1zM42 25h1v1h-1zM0 26h1v1h-1zM2 26h1v1h-1zM25 26h1v1h-1zM30 26h1v1h-1zM4 27h1v1h-1zM12 27h1v1h-1zM34 27h2v1h-2zM2 28h1v1h-1zM10 28h1v1h-1zM19 28h1v1h-1zM22 28h1v1h-1zM25 28h5v1h-5zM5 29h1v1h-1zM13 29h1v1h-1zM25 29h1v1h-1zM33 29h1v1h-1zM42 29h1v1h-1zM3 30h2v1h-2zM6 30h1v1h-1zM14 30h1v1h-1zM38 30h1v1h-1zM40 30h1v1h-1zM42 30h1v1h-1zM20 31h1v1h-1zM22 31h1v1h-1zM30 31h1v1h-1zM32 31h1v1h-1zM39 31h1v1h-1zM5 32h2v1h-2zM16 32h1v1h-1zM20 32h1v1h-1zM26 32h1v1h-1zM32 33h1v1h-1zM3 34h1v1h-1zM19 34h1v1h-1zM25 34h1v1h-1zM27 34h1v1h-1zM30 34h1v1h-1zM32 34h1v1h-1zM34 34h1v1h-1zM16 35h1v1h-1zM20 36h1v1h-1zM12 37h1v1h-1zM14 37h1v1h-1zM24 37h1v1h-1zM34 37h2v1h-2zM37 37h1v1h-1zM39 37h1v1h-1zM23 38h1v1h-1zM26 38h1v1h-1zM38 38h1v1h-1zM0 39h1v1h-1zM2 39h1v1h-1zM4 39h1v1h-1zM33 39h1v1h-1zM36 39h1v1h-1zM1 41h1v1h-1zM12 41h2v1h-2zM32 41h1v1h-1zM35 41h1v1h-1zM3 42h1v1h-1zM14 42h1v1h-1zM25 42h1v1h-1zM30 42h3v1h-3zM34 42h2v1h-2zM38 42h1v1h-1zM42 42h1v1h-1zM28 43h1v1h-1zM0 44h1v1h-1zM14 44h1v1h-1zM23 44h1v1h-1zM33 44h1v1h-1zM37 44h1v1h-1zM42 44h1v1h-1zM0 45h1v1h-1zM12 45h1v1h-1zM32 45h1v1h-1zM36 45h1v1h-1zM0 46h1v1h-1zM2 46h1v1h-1zM4 46h1v1h-1zM13 46h3v1h-3zM19 46h1v1h-1zM22 46h1v1h-1zM27 46h1v1h-1zM30 46h1v1h-1zM37 46h1v1h-1zM1 47h2v1h-2zM12 47h1v1h-1zM25 47h1v1h-1zM27 47h2v1h-2zM31 47h1v1h-1zM33 47h3v1h-3z"/><path fill="#bff45e" d="M21 2h1v1h-1zM21 21h1v1h-1zM21 23h1v1h-1zM21 25h1v1h-1zM21 33h1v1h-1zM21 34h1v1h-1zM21 45h1v1h-1zM21 46h1v1h-1z"/><path fill="#f2d312" d="M7 3h1v1h-1zM7 5h1v1h-1zM17 9h1v1h-1zM7 11h1v1h-1zM17 11h1v1h-1zM17 15h1v1h-1zM7 18h1v1h-1zM7 29h1v1h-1zM7 35h1v1h-1zM7 39h1v1h-1zM5 40h1v1h-1zM20 40h1v1h-1zM16 41h1v1h-1zM7 42h1v1h-1zM5 43h1v1h-1z"/><path fill="#b8f24c" d="M16 3h1v1h-1zM17 4h1v1h-1zM13 12h2v1h-2zM16 12h1v1h-1zM24 12h1v1h-1zM9 14h1v1h-1zM6 20h1v1h-1zM12 20h1v1h-1zM15 20h1v1h-1zM20 20h1v1h-1zM42 20h1v1h-1zM16 21h1v1h-1zM19 23h1v1h-1zM26 23h1v1h-1zM5 25h1v1h-1zM16 25h1v1h-1zM23 25h1v1h-1zM16 26h1v1h-1zM26 26h1v1h-1zM0 27h1v1h-1zM2 27h1v1h-1zM38 27h1v1h-1zM20 28h1v1h-1zM6 29h1v1h-1zM23 29h1v1h-1zM16 30h1v1h-1zM6 31h1v1h-1zM22 34h1v1h-1zM26 34h1v1h-1zM1 37h2v1h-2zM16 37h1v1h-1zM19 37h2v1h-2zM22 37h1v1h-1zM20 38h1v1h-1zM19 39h1v1h-1zM24 39h1v1h-1zM30 39h2v1h-2zM37 39h2v1h-2zM0 40h1v1h-1zM2 40h1v1h-1zM4 40h1v1h-1zM12 40h1v1h-1zM27 40h2v1h-2zM32 40h2v1h-2zM38 40h1v1h-1zM41 40h2v1h-2zM6 41h1v1h-1zM19 41h1v1h-1zM42 41h1v1h-1zM5 42h1v1h-1zM9 42h1v1h-1zM15 42h2v1h-2zM20 42h1v1h-1zM41 42h1v1h-1zM0 43h1v1h-1zM4 43h1v1h-1zM8 43h1v1h-1zM13 43h1v1h-1zM19 43h2v1h-2zM25 43h1v1h-1zM27 43h1v1h-1zM38 43h1v1h-1zM40 43h2v1h-2zM26 44h1v1h-1zM2 45h1v1h-1zM9 45h1v1h-1zM19 45h2v1h-2zM22 45h1v1h-1zM25 45h1v1h-1zM29 45h1v1h-1zM8 47h1v1h-1zM11 47h1v1h-1zM15 47h1v1h-1zM19 47h1v1h-1zM22 47h2v1h-2zM26 47h1v1h-1zM29 47h1v1h-1zM32 47h1v1h-1zM40 47h1v1h-1z"/><path fill="#aff46e" d="M21 3h1v1h-1zM21 12h1v1h-1zM21 27h1v1h-1zM21 28h1v1h-1zM21 30h1v1h-1zM21 44h1v1h-1z"/><path fill="#eef216" d="M7 4h1v1h-1zM7 7h1v1h-1zM17 10h1v1h-1zM7 15h1v1h-1zM7 16h1v1h-1zM17 17h1v1h-1zM17 18h1v1h-1zM5 20h1v1h-1zM7 22h1v1h-1zM17 23h1v1h-1zM22 25h1v1h-1zM7 26h1v1h-1zM17 26h1v1h-1zM17 27h1v1h-1zM7 28h1v1h-1zM17 28h1v1h-1zM17 29h1v1h-1zM7 30h1v1h-1zM7 31h1v1h-1zM7 34h1v1h-1zM16 34h1v1h-1zM6 37h2v1h-2zM7 38h1v1h-1zM16 39h1v1h-1zM6 40h1v1h-1zM15 40h2v1h-2zM26 40h1v1h-1zM2 43h1v1h-1zM6 43h1v1h-1zM26 43h1v1h-1zM7 44h1v1h-1z"/><path fill="#a6c730" d="M18 4h1v1h-1zM18 6h1v1h-1zM18 7h1v1h-1zM18 8h1v1h-1zM18 9h1v1h-1zM18 13h1v1h-1zM18 15h1v1h-1zM18 16h1v1h-1zM18 18h1v1h-1zM18 23h1v1h-1zM18 25h1v1h-1zM18 28h1v1h-1zM18 30h1v1h-1zM18 31h1v1h-1zM18 33h1v1h-1z"/><path fill="#6ef4af" d="M21 4h1v1h-1zM21 6h1v1h-1zM21 9h1v1h-1zM21 15h1v1h-1zM21 16h1v1h-1zM21 35h1v1h-1z"/><path fill="#88c74d" d="M18 5h1v1h-1zM18 29h1v1h-1zM18 34h1v1h-1z"/><path fill="#9ff47e" d="M21 5h1v1h-1zM21 7h1v1h-1zM21 8h1v1h-1zM21 19h1v1h-1zM21 29h1v1h-1zM21 31h1v1h-1zM21 32h1v1h-1zM21 38h1v1h-1zM21 42h1v1h-1z"/><path fill="#8ff48f" d="M21 10h1v1h-1zM21 17h1v1h-1zM21 24h1v1h-1z"/><path fill="#b4c721" d="M18 11h1v1h-1zM18 32h1v1h-1z"/><path fill="#4ef4cf" d="M21 11h1v1h-1z"/><path fill="#12aff2" d="M29 11h1v1h-1zM28 16h1v1h-1z"/><path fill="#2ae7f4" d="M21 18h1v1h-1z"/><path fill="#cff44e" d="M21 20h1v1h-1zM21 39h1v1h-1zM21 47h1v1h-1z"/><path fill="#bbce22" d="M8 21h1v1h-1zM8 23h1v1h-1zM9 26h1v1h-1zM9 37h1v1h-1z"/><path fill="#8dce50" d="M9 21h1v1h-1zM8 26h1v1h-1zM8 28h1v1h-1zM9 29h1v1h-1zM8 30h1v1h-1zM8 35h2v1h-2zM9 38h1v1h-1zM9 39h1v1h-1zM9 41h1v1h-1z"/><path fill="#9cce41" d="M8 22h2v1h-2zM9 23h1v1h-1zM9 24h1v1h-1zM9 25h1v1h-1zM8 27h2v1h-2zM9 28h1v1h-1zM8 31h2v1h-2zM8 32h1v1h-1zM9 33h1v1h-1zM9 34h1v1h-1zM8 37h1v1h-1zM8 38h1v1h-1zM8 39h1v1h-1zM8 40h1v1h-1zM8 41h1v1h-1z"/><path fill="#7ece5f" d="M8 24h1v1h-1zM9 30h1v1h-1z"/><path fill="#acce32" d="M8 25h1v1h-1zM8 29h1v1h-1zM9 32h1v1h-1zM8 33h1v1h-1zM8 34h1v1h-1zM8 36h2v1h-2zM9 40h1v1h-1z"/><path fill="#f2af12" d="M17 33h1v1h-1zM17 43h1v1h-1z"/><path fill="#f28b12" d="M17 34h1v1h-1zM17 35h1v1h-1zM17 38h1v1h-1zM17 40h1v1h-1z"/><path fill="#9aaa1c" d="M18 35h1v1h-1zM18 38h1v1h-1zM18 39h1v1h-1z"/><path fill="#f29d12" d="M17 36h1v1h-1zM17 37h1v1h-1zM17 39h1v1h-1zM17 41h1v1h-1zM17 42h1v1h-1z"/><path fill="#a6aa10" d="M18 36h1v1h-1zM18 37h1v1h-1zM18 41h1v1h-1zM18 42h1v1h-1zM18 43h1v1h-1z"/><path fill="#dff43e" d="M21 37h1v1h-1z"/><path fill="#8daa29" d="M18 40h1v1h-1zM18 44h1v1h-1z"/><path fill="#f4c72a" d="M21 40h1v1h-1z"/><path fill="#f2c112" d="M22 40h1v1h-1zM23 43h1v1h-1z"/><path fill="#eff42e" d="M21 41h1v1h-1zM21 43h1v1h-1z"/></g></g><g filter="url(#lblur)"><rect x="604" y="507.2" width="295.9" height="1.3" fill="#e08020" opacity="0.7"/></g></g><rect x="604" y="453.6" width="295.9" height="104.19999999999993" fill="none" stroke="#222" stroke-width="1.1"/><path d="M665.3 557.8v-3M665.3 453.6v3M752.6 557.8v-3M752.6 453.6v3M837.3 557.8v-3M837.3 453.6v3M604 470.4h3M899.9 470.4h-3M604 517.2h3M899.9 517.2h-3" stroke="#222" stroke-width="1"/><ellipse cx="664.9" cy="506.5" rx="6.0" ry="50.9" fill="none" stroke="#d42a18" stroke-width="2.4"/><linearGradient id="cb4" x1="0" y1="0" x2="0" y2="1"><stop offset="0.000" stop-color="#800505"/><stop offset="0.062" stop-color="#bd0505"/><stop offset="0.125" stop-color="#fa0505"/><stop offset="0.188" stop-color="#fa4205"/><stop offset="0.250" stop-color="#fa8005"/><stop offset="0.312" stop-color="#fabd05"/><stop offset="0.375" stop-color="#fafa05"/><stop offset="0.438" stop-color="#bdfa42"/><stop offset="0.500" stop-color="#80fa80"/><stop offset="0.562" stop-color="#42fabd"/><stop offset="0.625" stop-color="#05fafa"/><stop offset="0.688" stop-color="#05bdfa"/><stop offset="0.750" stop-color="#0580fa"/><stop offset="0.812" stop-color="#0542fa"/><stop offset="0.875" stop-color="#0505fa"/><stop offset="0.938" stop-color="#0505bd"/><stop offset="1.000" stop-color="#050580"/></linearGradient><rect x="917" y="453" width="21.1" height="105.4" fill="url(#cb4)" stroke="#1a1a1a" stroke-width="1"/><g fill="#1a1a1a" stroke="#1a1a1a" stroke-width="0.12"><text x="77.40" y="256.2" font-size="20" textLength="327.02" lengthAdjust="spacingAndGlyphs" xml:space="preserve">Algeria 22−Nov−2006 UT   N/S Antenna</text><text x="75.50" y="431.4" font-size="20" textLength="331.35" lengthAdjust="spacingAndGlyphs" xml:space="preserve">Algeria 22−Nov−2006 UT   E/W Antenna</text><text x="579.91" y="250.3" font-size="20" textLength="342.93" lengthAdjust="spacingAndGlyphs" xml:space="preserve">Morocco 22−Nov−2006 UT   N/S Antenna</text><text x="577.71" y="437.3" font-size="20" textLength="347.17" lengthAdjust="spacingAndGlyphs" xml:space="preserve">Morocco 22−Nov−2006 UT   E/W Antenna</text><text x="118.67" y="407.6" font-size="18" textLength="243.91" lengthAdjust="spacingAndGlyphs" xml:space="preserve">Time (seconds) after 03:00:00 UT</text><text x="119.07" y="581.6" font-size="18" textLength="244.72" lengthAdjust="spacingAndGlyphs" xml:space="preserve">Time (seconds) after 03:00:00 UT</text><text x="628.67" y="410.8" font-size="18.4" textLength="246.32" lengthAdjust="spacingAndGlyphs" xml:space="preserve">Time (seconds) after 03:00:00 UT</text><text x="628.87" y="597.2" font-size="18.4" textLength="246.12" lengthAdjust="spacingAndGlyphs" xml:space="preserve">Time (seconds) after 03:00:00 UT</text><text transform="translate(64.3 384.4) rotate(-90)" x="-1.42" y="0" font-size="15.3" textLength="131.50" lengthAdjust="spacingAndGlyphs">Frequency (kHz)</text><text transform="translate(64.3 558.6) rotate(-90)" x="-1.41" y="0" font-size="15.3" textLength="130.48" lengthAdjust="spacingAndGlyphs">Frequency (kHz)</text><text transform="translate(573.4 386.5) rotate(-90)" x="-1.50" y="0" font-size="15.3" textLength="138.94" lengthAdjust="spacingAndGlyphs">Frequency (kHz)</text><text transform="translate(573.4 573.7) rotate(-90)" x="-1.51" y="0" font-size="15.3" textLength="139.25" lengthAdjust="spacingAndGlyphs">Frequency (kHz)</text><text x="73.69" y="295.0" font-size="17.0" textLength="17.48" lengthAdjust="spacingAndGlyphs" xml:space="preserve">40</text><text x="73.18" y="336.3" font-size="17.0" textLength="18.32" lengthAdjust="spacingAndGlyphs" xml:space="preserve">20</text><text x="73.90" y="466.0" font-size="17.0" textLength="16.74" lengthAdjust="spacingAndGlyphs" xml:space="preserve">40</text><text x="72.86" y="509.2" font-size="17.0" textLength="18.65" lengthAdjust="spacingAndGlyphs" xml:space="preserve">20</text><text x="583.18" y="287.6" font-size="17.7" textLength="17.80" lengthAdjust="spacingAndGlyphs" xml:space="preserve">40</text><text x="582.68" y="336.8" font-size="17.7" textLength="18.32" lengthAdjust="spacingAndGlyphs" xml:space="preserve">20</text><text x="583.25" y="476.8" font-size="17.7" textLength="17.72" lengthAdjust="spacingAndGlyphs" xml:space="preserve">40</text><text x="583.25" y="523.6" font-size="17.7" textLength="17.72" lengthAdjust="spacingAndGlyphs" xml:space="preserve">20</text><text x="92.10" y="388.5" font-size="17.0" textLength="22.31" lengthAdjust="spacingAndGlyphs" xml:space="preserve">6.9</text><text x="190.62" y="388.5" font-size="17.0" textLength="8.70" lengthAdjust="spacingAndGlyphs" xml:space="preserve">7</text><text x="276.93" y="388.5" font-size="17.0" textLength="21.74" lengthAdjust="spacingAndGlyphs" xml:space="preserve">7.1</text><text x="367.38" y="388.5" font-size="17.0" textLength="22.74" lengthAdjust="spacingAndGlyphs" xml:space="preserve">7.2</text><text x="132.66" y="563.2" font-size="17.0" textLength="23.49" lengthAdjust="spacingAndGlyphs" xml:space="preserve">6.9</text><text x="217.82" y="563.2" font-size="17.0" textLength="8.70" lengthAdjust="spacingAndGlyphs" xml:space="preserve">7</text><text x="290.13" y="563.2" font-size="17.0" textLength="21.74" lengthAdjust="spacingAndGlyphs" xml:space="preserve">7.1</text><text x="369.21" y="563.2" font-size="17.0" textLength="22.09" lengthAdjust="spacingAndGlyphs" xml:space="preserve">7.2</text><text x="604.99" y="391.4" font-size="17.7" textLength="31.56" lengthAdjust="spacingAndGlyphs" xml:space="preserve">6.95</text><text x="694.54" y="391.4" font-size="17.7" textLength="8.86" lengthAdjust="spacingAndGlyphs" xml:space="preserve">7</text><text x="762.67" y="391.4" font-size="17.7" textLength="31.01" lengthAdjust="spacingAndGlyphs" xml:space="preserve">7.05</text><text x="845.43" y="391.4" font-size="17.7" textLength="22.15" lengthAdjust="spacingAndGlyphs" xml:space="preserve">7.1</text><text x="660.84" y="578.2" font-size="17.7" textLength="8.86" lengthAdjust="spacingAndGlyphs" xml:space="preserve">7</text><text x="737.07" y="578.2" font-size="17.7" textLength="31.01" lengthAdjust="spacingAndGlyphs" xml:space="preserve">7.05</text><text x="826.43" y="578.2" font-size="17.7" textLength="22.15" lengthAdjust="spacingAndGlyphs" xml:space="preserve">7.1</text><text x="430.38" y="296.0" font-size="17.0" textLength="25.51" lengthAdjust="spacingAndGlyphs" xml:space="preserve">100</text><text x="429.88" y="347.3" font-size="17.0" textLength="17.17" lengthAdjust="spacingAndGlyphs" xml:space="preserve">50</text><text x="429.78" y="472.2" font-size="17.0" textLength="25.53" lengthAdjust="spacingAndGlyphs" xml:space="preserve">100</text><text x="429.37" y="522.9" font-size="17.0" textLength="17.40" lengthAdjust="spacingAndGlyphs" xml:space="preserve">50</text><text x="941.77" y="292.7" font-size="17.7" textLength="25.62" lengthAdjust="spacingAndGlyphs" xml:space="preserve">100</text><text x="941.61" y="347.9" font-size="17.7" textLength="16.42" lengthAdjust="spacingAndGlyphs" xml:space="preserve">50</text><text x="941.77" y="480.1" font-size="17.7" textLength="25.69" lengthAdjust="spacingAndGlyphs" xml:space="preserve">100</text><text x="941.58" y="534.8" font-size="17.7" textLength="17.13" lengthAdjust="spacingAndGlyphs" xml:space="preserve">50</text></g></svg></body></html>
